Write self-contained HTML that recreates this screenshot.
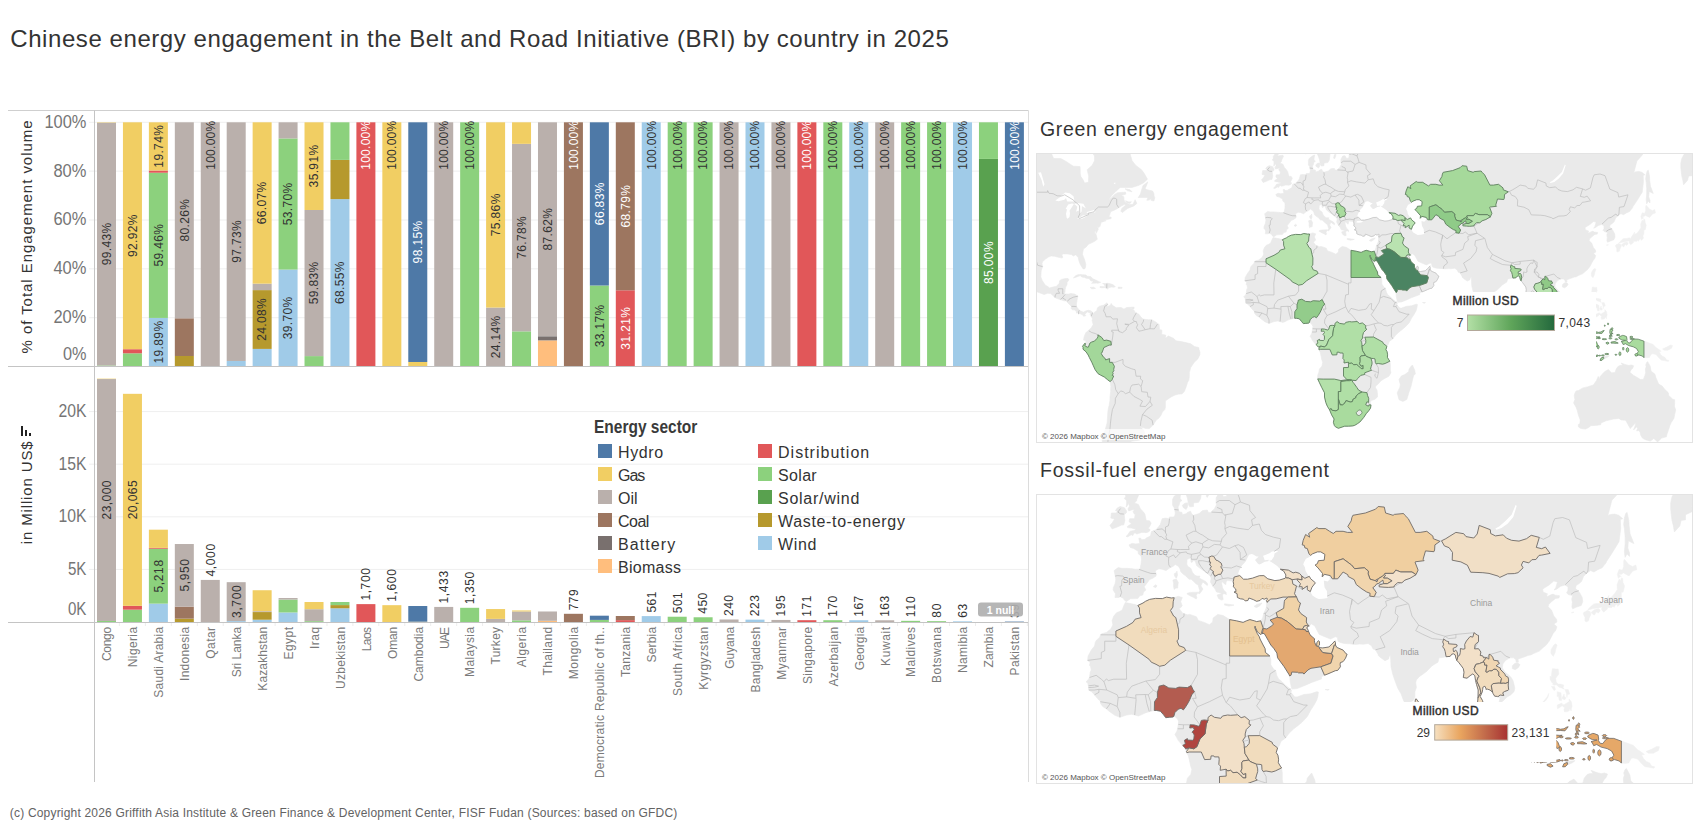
<!DOCTYPE html>
<html lang="en"><head><meta charset="utf-8"><title>Chinese energy engagement in the BRI by country in 2025</title>
<style>
html,body{margin:0;padding:0;background:#fff;}
body{width:1703px;height:832px;position:relative;overflow:hidden;font-family:"Liberation Sans",Arial,sans-serif;color:#333;}
.title{position:absolute;left:10.3px;top:25px;font-size:24px;line-height:28px;white-space:nowrap;color:#333;letter-spacing:0.567px;}
.caption{position:absolute;left:9.8px;top:806px;font-size:12px;line-height:14px;white-space:nowrap;color:#636363;letter-spacing:0.192px;}
.chart{position:absolute;left:0;top:0;}
.legend{position:absolute;left:594px;top:420px;width:330px;height:160px;}
.legtitle{position:absolute;left:0;top:-3px;font-size:18px;transform-origin:0 0;transform:scaleX(0.8605);font-weight:bold;line-height:20px;color:#3a3a3a;white-space:nowrap;}
.li{position:absolute;height:23px;white-space:nowrap;}
.sw{position:absolute;left:0;top:7px;width:14px;height:14px;}
.lt{position:absolute;left:20px;top:4px;font-size:16px;line-height:23px;color:#333;}
.mtitle{position:absolute;left:1040px;font-size:19.5px;line-height:24px;white-space:nowrap;color:#333;}
.map{position:absolute;left:1036px;width:657px;height:290px;border:1px solid #e3e3e3;box-sizing:border-box;overflow:hidden;background:#fff;}
</style></head><body>
<div class="title">Chinese energy engagement in the Belt and Road Initiative (BRI) by country in 2025</div>
<svg class="chart" width="1040" height="832" viewBox="0 0 1040 832" font-family="'Liberation Sans', Arial, sans-serif">
<line x1="89" x2="1028" y1="317.7" y2="317.7" stroke="#efefef" stroke-width="1"/>
<line x1="89" x2="1028" y1="268.8" y2="268.8" stroke="#efefef" stroke-width="1"/>
<line x1="89" x2="1028" y1="220.0" y2="220.0" stroke="#efefef" stroke-width="1"/>
<line x1="89" x2="1028" y1="171.1" y2="171.1" stroke="#efefef" stroke-width="1"/>
<line x1="89" x2="1028" y1="122.3" y2="122.3" stroke="#efefef" stroke-width="1"/>
<line x1="89" x2="1028" y1="569.4" y2="569.4" stroke="#efefef" stroke-width="1"/>
<line x1="89" x2="1028" y1="516.8" y2="516.8" stroke="#efefef" stroke-width="1"/>
<line x1="89" x2="1028" y1="464.2" y2="464.2" stroke="#efefef" stroke-width="1"/>
<line x1="89" x2="1028" y1="411.6" y2="411.6" stroke="#efefef" stroke-width="1"/>
<rect x="97.00" y="365.47" width="19.00" height="1.03" fill="#8cd17d"/>
<rect x="97.00" y="122.67" width="19.00" height="242.81" fill="#bab0ac"/>
<text transform="translate(110.82 243.89) rotate(-90)" font-size="12" fill="#333333" text-anchor="middle" letter-spacing="0.360">99.43%</text>
<rect x="97.00" y="122.30" width="19.00" height="0.37" fill="#f1ce63"/>
<rect x="97.00" y="620.98" width="19.00" height="1.02" fill="#8cd17d"/>
<rect x="97.00" y="379.03" width="19.00" height="241.95" fill="#bab0ac"/>
<rect x="97.00" y="378.66" width="19.00" height="0.37" fill="#f1ce63"/>
<text transform="translate(110.82 499.77) rotate(-90)" font-size="12" fill="#333333" text-anchor="middle" letter-spacing="0.459">23,000</text>
<text transform="translate(111.32 627.19) rotate(-90)" font-size="12" fill="#7a7a7a" text-anchor="end" letter-spacing="-0.291">Congo</text>
<line x1="119.4" x2="119.4" y1="622.5" y2="626" stroke="#ededed" stroke-width="1"/>
<rect x="122.94" y="353.31" width="19.00" height="13.19" fill="#8cd17d"/>
<rect x="122.94" y="349.21" width="19.00" height="4.10" fill="#e15759"/>
<rect x="122.94" y="122.30" width="19.00" height="226.91" fill="#f1ce63"/>
<text transform="translate(136.76 235.58) rotate(-90)" font-size="12" fill="#333333" text-anchor="middle" letter-spacing="0.360">92.92%</text>
<rect x="122.94" y="609.68" width="19.00" height="12.32" fill="#8cd17d"/>
<rect x="122.94" y="605.84" width="19.00" height="3.83" fill="#e15759"/>
<rect x="122.94" y="393.82" width="19.00" height="212.02" fill="#f1ce63"/>
<text transform="translate(136.76 499.60) rotate(-90)" font-size="12" fill="#333333" text-anchor="middle" letter-spacing="0.459">20,065</text>
<text transform="translate(137.26 626.52) rotate(-90)" font-size="12" fill="#7a7a7a" text-anchor="end" letter-spacing="0.380">Nigeria</text>
<line x1="145.4" x2="145.4" y1="622.5" y2="626" stroke="#ededed" stroke-width="1"/>
<rect x="148.88" y="317.93" width="19.00" height="48.57" fill="#a0cbe8"/>
<text transform="translate(162.70 342.03) rotate(-90)" font-size="12" fill="#333333" text-anchor="middle" letter-spacing="0.360">19.89%</text>
<rect x="148.88" y="172.73" width="19.00" height="145.20" fill="#8cd17d"/>
<text transform="translate(162.70 245.15) rotate(-90)" font-size="12" fill="#333333" text-anchor="middle" letter-spacing="0.360">59.46%</text>
<rect x="148.88" y="170.51" width="19.00" height="2.22" fill="#e15759"/>
<rect x="148.88" y="122.30" width="19.00" height="48.21" fill="#f1ce63"/>
<text transform="translate(162.70 146.22) rotate(-90)" font-size="12" fill="#333333" text-anchor="middle" letter-spacing="0.360">19.74%</text>
<rect x="148.88" y="603.64" width="19.00" height="18.36" fill="#a0cbe8"/>
<rect x="148.88" y="548.74" width="19.00" height="54.90" fill="#8cd17d"/>
<rect x="148.88" y="547.90" width="19.00" height="0.84" fill="#e15759"/>
<rect x="148.88" y="529.68" width="19.00" height="18.22" fill="#f1ce63"/>
<text transform="translate(162.70 575.88) rotate(-90)" font-size="12" fill="#333333" text-anchor="middle" letter-spacing="0.617">5,218</text>
<text transform="translate(163.20 626.65) rotate(-90)" font-size="12" fill="#7a7a7a" text-anchor="end" letter-spacing="0.250">Saudi Arabia</text>
<line x1="171.3" x2="171.3" y1="622.5" y2="626" stroke="#ededed" stroke-width="1"/>
<rect x="174.82" y="356.00" width="19.00" height="10.50" fill="#b6992d"/>
<rect x="174.82" y="318.29" width="19.00" height="37.70" fill="#9d7660"/>
<rect x="174.82" y="122.30" width="19.00" height="195.99" fill="#bab0ac"/>
<text transform="translate(188.64 220.12) rotate(-90)" font-size="12" fill="#333333" text-anchor="middle" letter-spacing="0.360">80.26%</text>
<rect x="174.82" y="618.65" width="19.00" height="3.35" fill="#b6992d"/>
<rect x="174.82" y="606.61" width="19.00" height="12.04" fill="#9d7660"/>
<rect x="174.82" y="544.02" width="19.00" height="62.59" fill="#bab0ac"/>
<text transform="translate(188.64 575.00) rotate(-90)" font-size="12" fill="#333333" text-anchor="middle" letter-spacing="0.617">5,950</text>
<text transform="translate(189.14 626.66) rotate(-90)" font-size="12" fill="#7a7a7a" text-anchor="end" letter-spacing="0.244">Indonesia</text>
<line x1="197.3" x2="197.3" y1="622.5" y2="626" stroke="#ededed" stroke-width="1"/>
<rect x="200.76" y="122.30" width="19.00" height="244.20" fill="#bab0ac"/>
<text transform="translate(214.58 120.53) rotate(-90)" font-size="12" fill="#333333" text-anchor="end" letter-spacing="0.271">100.00%</text>
<rect x="200.76" y="579.92" width="19.00" height="42.08" fill="#bab0ac"/>
<text transform="translate(214.58 576.42) rotate(-90)" font-size="12" fill="#333333" text-anchor="start" letter-spacing="0.617">4,000</text>
<text transform="translate(215.08 626.45) rotate(-90)" font-size="12" fill="#7a7a7a" text-anchor="end" letter-spacing="0.447">Qatar</text>
<line x1="223.2" x2="223.2" y1="622.5" y2="626" stroke="#ededed" stroke-width="1"/>
<rect x="226.70" y="360.96" width="19.00" height="5.54" fill="#a0cbe8"/>
<rect x="226.70" y="122.30" width="19.00" height="238.66" fill="#bab0ac"/>
<text transform="translate(240.52 241.45) rotate(-90)" font-size="12" fill="#333333" text-anchor="middle" letter-spacing="0.360">97.73%</text>
<rect x="226.70" y="621.10" width="19.00" height="0.90" fill="#a0cbe8"/>
<rect x="226.70" y="582.17" width="19.00" height="38.92" fill="#bab0ac"/>
<text transform="translate(240.52 601.32) rotate(-90)" font-size="12" fill="#333333" text-anchor="middle" letter-spacing="0.617">3,700</text>
<text transform="translate(241.02 626.94) rotate(-90)" font-size="12" fill="#7a7a7a" text-anchor="end" letter-spacing="-0.037">Sri Lanka</text>
<line x1="249.1" x2="249.1" y1="622.5" y2="626" stroke="#ededed" stroke-width="1"/>
<rect x="252.64" y="348.92" width="19.00" height="17.58" fill="#a0cbe8"/>
<rect x="252.64" y="290.11" width="19.00" height="58.80" fill="#b6992d"/>
<text transform="translate(266.46 319.34) rotate(-90)" font-size="12" fill="#333333" text-anchor="middle" letter-spacing="0.360">24.08%</text>
<rect x="252.64" y="283.64" width="19.00" height="6.47" fill="#bab0ac"/>
<rect x="252.64" y="122.30" width="19.00" height="161.34" fill="#f1ce63"/>
<text transform="translate(266.46 202.79) rotate(-90)" font-size="12" fill="#333333" text-anchor="middle" letter-spacing="0.360">66.07%</text>
<rect x="252.64" y="619.71" width="19.00" height="2.29" fill="#a0cbe8"/>
<rect x="252.64" y="612.06" width="19.00" height="7.65" fill="#b6992d"/>
<rect x="252.64" y="611.22" width="19.00" height="0.84" fill="#bab0ac"/>
<rect x="252.64" y="590.23" width="19.00" height="20.99" fill="#f1ce63"/>
<text transform="translate(266.96 626.78) rotate(-90)" font-size="12" fill="#7a7a7a" text-anchor="end" letter-spacing="0.121">Kazakhstan</text>
<line x1="275.1" x2="275.1" y1="622.5" y2="626" stroke="#ededed" stroke-width="1"/>
<rect x="278.58" y="269.55" width="19.00" height="96.95" fill="#a0cbe8"/>
<text transform="translate(292.40 317.85) rotate(-90)" font-size="12" fill="#333333" text-anchor="middle" letter-spacing="0.360">39.70%</text>
<rect x="278.58" y="138.42" width="19.00" height="131.14" fill="#8cd17d"/>
<text transform="translate(292.40 203.80) rotate(-90)" font-size="12" fill="#333333" text-anchor="middle" letter-spacing="0.360">53.70%</text>
<rect x="278.58" y="122.30" width="19.00" height="16.12" fill="#bab0ac"/>
<rect x="278.58" y="612.48" width="19.00" height="9.52" fill="#a0cbe8"/>
<rect x="278.58" y="599.60" width="19.00" height="12.88" fill="#8cd17d"/>
<rect x="278.58" y="598.01" width="19.00" height="1.58" fill="#bab0ac"/>
<text transform="translate(292.90 626.40) rotate(-90)" font-size="12" fill="#7a7a7a" text-anchor="end" letter-spacing="0.503">Egypt</text>
<line x1="301.0" x2="301.0" y1="622.5" y2="626" stroke="#ededed" stroke-width="1"/>
<rect x="304.52" y="356.10" width="19.00" height="10.40" fill="#8cd17d"/>
<rect x="304.52" y="209.99" width="19.00" height="146.10" fill="#bab0ac"/>
<text transform="translate(318.34 282.86) rotate(-90)" font-size="12" fill="#333333" text-anchor="middle" letter-spacing="0.360">59.83%</text>
<rect x="304.52" y="122.30" width="19.00" height="87.69" fill="#f1ce63"/>
<text transform="translate(318.34 165.97) rotate(-90)" font-size="12" fill="#333333" text-anchor="middle" letter-spacing="0.360">35.91%</text>
<rect x="304.52" y="621.15" width="19.00" height="0.85" fill="#8cd17d"/>
<rect x="304.52" y="609.19" width="19.00" height="11.96" fill="#bab0ac"/>
<rect x="304.52" y="602.01" width="19.00" height="7.18" fill="#f1ce63"/>
<text transform="translate(318.84 626.46) rotate(-90)" font-size="12" fill="#7a7a7a" text-anchor="end" letter-spacing="0.441">Iraq</text>
<line x1="327.0" x2="327.0" y1="622.5" y2="626" stroke="#ededed" stroke-width="1"/>
<rect x="330.46" y="199.10" width="19.00" height="167.40" fill="#a0cbe8"/>
<text transform="translate(344.28 282.62) rotate(-90)" font-size="12" fill="#333333" text-anchor="middle" letter-spacing="0.360">68.55%</text>
<rect x="330.46" y="159.91" width="19.00" height="39.19" fill="#b6992d"/>
<rect x="330.46" y="122.30" width="19.00" height="37.61" fill="#8cd17d"/>
<rect x="330.46" y="608.30" width="19.00" height="13.70" fill="#a0cbe8"/>
<rect x="330.46" y="605.09" width="19.00" height="3.21" fill="#b6992d"/>
<rect x="330.46" y="602.01" width="19.00" height="3.08" fill="#8cd17d"/>
<text transform="translate(344.78 626.61) rotate(-90)" font-size="12" fill="#7a7a7a" text-anchor="end" letter-spacing="0.293">Uzbekistan</text>
<line x1="352.9" x2="352.9" y1="622.5" y2="626" stroke="#ededed" stroke-width="1"/>
<rect x="356.40" y="122.30" width="19.00" height="244.20" fill="#e15759"/>
<text transform="translate(370.22 120.53) rotate(-90)" font-size="12" fill="#ffffff" text-anchor="end" letter-spacing="0.271">100.00%</text>
<rect x="356.40" y="604.12" width="19.00" height="17.88" fill="#e15759"/>
<text transform="translate(370.22 600.62) rotate(-90)" font-size="12" fill="#333333" text-anchor="start" letter-spacing="0.617">1,700</text>
<text transform="translate(370.72 627.44) rotate(-90)" font-size="12" fill="#7a7a7a" text-anchor="end" letter-spacing="-0.541">Laos</text>
<line x1="378.8" x2="378.8" y1="622.5" y2="626" stroke="#ededed" stroke-width="1"/>
<rect x="382.34" y="122.30" width="19.00" height="244.20" fill="#f1ce63"/>
<text transform="translate(396.16 120.53) rotate(-90)" font-size="12" fill="#333333" text-anchor="end" letter-spacing="0.271">100.00%</text>
<rect x="382.34" y="605.17" width="19.00" height="16.83" fill="#f1ce63"/>
<text transform="translate(396.16 601.67) rotate(-90)" font-size="12" fill="#333333" text-anchor="start" letter-spacing="0.617">1,600</text>
<text transform="translate(396.66 627.09) rotate(-90)" font-size="12" fill="#7a7a7a" text-anchor="end" letter-spacing="-0.193">Oman</text>
<line x1="404.8" x2="404.8" y1="622.5" y2="626" stroke="#ededed" stroke-width="1"/>
<rect x="408.28" y="361.98" width="19.00" height="4.52" fill="#f1ce63"/>
<rect x="408.28" y="122.30" width="19.00" height="239.68" fill="#4e79a7"/>
<text transform="translate(422.10 241.96) rotate(-90)" font-size="12" fill="#ffffff" text-anchor="middle" letter-spacing="0.360">98.15%</text>
<rect x="408.28" y="621.70" width="19.00" height="0.30" fill="#f1ce63"/>
<rect x="408.28" y="606.01" width="19.00" height="15.69" fill="#4e79a7"/>
<text transform="translate(422.60 626.90) rotate(-90)" font-size="12" fill="#7a7a7a" text-anchor="end" letter-spacing="0.000">Cambodia</text>
<line x1="430.7" x2="430.7" y1="622.5" y2="626" stroke="#ededed" stroke-width="1"/>
<rect x="434.22" y="122.30" width="19.00" height="244.20" fill="#bab0ac"/>
<text transform="translate(448.04 120.53) rotate(-90)" font-size="12" fill="#333333" text-anchor="end" letter-spacing="0.271">100.00%</text>
<rect x="434.22" y="606.92" width="19.00" height="15.08" fill="#bab0ac"/>
<text transform="translate(448.04 603.42) rotate(-90)" font-size="12" fill="#333333" text-anchor="start" letter-spacing="0.617">1,433</text>
<text transform="translate(448.54 628.24) rotate(-90)" font-size="12" fill="#7a7a7a" text-anchor="end" letter-spacing="-1.338">UAE</text>
<line x1="456.7" x2="456.7" y1="622.5" y2="626" stroke="#ededed" stroke-width="1"/>
<rect x="460.16" y="122.30" width="19.00" height="244.20" fill="#8cd17d"/>
<text transform="translate(473.98 120.53) rotate(-90)" font-size="12" fill="#333333" text-anchor="end" letter-spacing="0.271">100.00%</text>
<rect x="460.16" y="607.80" width="19.00" height="14.20" fill="#8cd17d"/>
<text transform="translate(473.98 604.30) rotate(-90)" font-size="12" fill="#333333" text-anchor="start" letter-spacing="0.617">1,350</text>
<text transform="translate(474.48 626.51) rotate(-90)" font-size="12" fill="#7a7a7a" text-anchor="end" letter-spacing="0.393">Malaysia</text>
<line x1="482.6" x2="482.6" y1="622.5" y2="626" stroke="#ededed" stroke-width="1"/>
<rect x="486.10" y="307.55" width="19.00" height="58.95" fill="#bab0ac"/>
<text transform="translate(499.92 336.85) rotate(-90)" font-size="12" fill="#333333" text-anchor="middle" letter-spacing="0.360">24.14%</text>
<rect x="486.10" y="122.30" width="19.00" height="185.25" fill="#f1ce63"/>
<text transform="translate(499.92 214.75) rotate(-90)" font-size="12" fill="#333333" text-anchor="middle" letter-spacing="0.360">75.86%</text>
<rect x="486.10" y="618.88" width="19.00" height="3.12" fill="#bab0ac"/>
<rect x="486.10" y="609.06" width="19.00" height="9.82" fill="#f1ce63"/>
<text transform="translate(500.42 626.63) rotate(-90)" font-size="12" fill="#7a7a7a" text-anchor="end" letter-spacing="0.274">Turkey</text>
<line x1="508.5" x2="508.5" y1="622.5" y2="626" stroke="#ededed" stroke-width="1"/>
<rect x="512.04" y="331.34" width="19.00" height="35.16" fill="#8cd17d"/>
<rect x="512.04" y="143.84" width="19.00" height="187.50" fill="#bab0ac"/>
<text transform="translate(525.86 237.41) rotate(-90)" font-size="12" fill="#333333" text-anchor="middle" letter-spacing="0.360">76.78%</text>
<rect x="512.04" y="122.30" width="19.00" height="21.54" fill="#f1ce63"/>
<rect x="512.04" y="620.33" width="19.00" height="1.67" fill="#8cd17d"/>
<rect x="512.04" y="611.45" width="19.00" height="8.88" fill="#bab0ac"/>
<rect x="512.04" y="610.43" width="19.00" height="1.02" fill="#f1ce63"/>
<text transform="translate(526.36 626.41) rotate(-90)" font-size="12" fill="#7a7a7a" text-anchor="end" letter-spacing="0.491">Algeria</text>
<line x1="534.5" x2="534.5" y1="622.5" y2="626" stroke="#ededed" stroke-width="1"/>
<rect x="537.98" y="340.37" width="19.00" height="26.13" fill="#ffbe7d"/>
<rect x="537.98" y="336.27" width="19.00" height="4.10" fill="#79706e"/>
<rect x="537.98" y="122.30" width="19.00" height="213.97" fill="#bab0ac"/>
<text transform="translate(551.80 229.10) rotate(-90)" font-size="12" fill="#333333" text-anchor="middle" letter-spacing="0.360">87.62%</text>
<rect x="537.98" y="620.87" width="19.00" height="1.13" fill="#ffbe7d"/>
<rect x="537.98" y="620.70" width="19.00" height="0.18" fill="#79706e"/>
<rect x="537.98" y="611.48" width="19.00" height="9.22" fill="#bab0ac"/>
<text transform="translate(552.30 626.55) rotate(-90)" font-size="12" fill="#7a7a7a" text-anchor="end" letter-spacing="0.352">Thailand</text>
<line x1="560.4" x2="560.4" y1="622.5" y2="626" stroke="#ededed" stroke-width="1"/>
<rect x="563.92" y="122.30" width="19.00" height="244.20" fill="#9d7660"/>
<text transform="translate(577.74 120.53) rotate(-90)" font-size="12" fill="#ffffff" text-anchor="end" letter-spacing="0.271">100.00%</text>
<rect x="563.92" y="613.80" width="19.00" height="8.20" fill="#9d7660"/>
<text transform="translate(577.74 610.30) rotate(-90)" font-size="12" fill="#333333" text-anchor="start" letter-spacing="0.489">779</text>
<text transform="translate(578.24 626.39) rotate(-90)" font-size="12" fill="#7a7a7a" text-anchor="end" letter-spacing="0.514">Mongolia</text>
<line x1="586.4" x2="586.4" y1="622.5" y2="626" stroke="#ededed" stroke-width="1"/>
<rect x="589.86" y="285.50" width="19.00" height="81.00" fill="#8cd17d"/>
<text transform="translate(603.68 325.82) rotate(-90)" font-size="12" fill="#333333" text-anchor="middle" letter-spacing="0.360">33.17%</text>
<rect x="589.86" y="122.30" width="19.00" height="163.20" fill="#4e79a7"/>
<text transform="translate(603.68 203.72) rotate(-90)" font-size="12" fill="#ffffff" text-anchor="middle" letter-spacing="0.360">66.83%</text>
<rect x="589.86" y="619.91" width="19.00" height="2.09" fill="#8cd17d"/>
<rect x="589.86" y="615.69" width="19.00" height="4.22" fill="#4e79a7"/>
<text transform="translate(604.18 626.63) rotate(-90)" font-size="12" fill="#7a7a7a" text-anchor="end" letter-spacing="0.275">Democratic Republic of th..</text>
<line x1="612.3" x2="612.3" y1="622.5" y2="626" stroke="#ededed" stroke-width="1"/>
<rect x="615.80" y="290.29" width="19.00" height="76.21" fill="#e15759"/>
<text transform="translate(629.62 328.21) rotate(-90)" font-size="12" fill="#ffffff" text-anchor="middle" letter-spacing="0.360">31.21%</text>
<rect x="615.80" y="122.30" width="19.00" height="167.99" fill="#9d7660"/>
<text transform="translate(629.62 206.11) rotate(-90)" font-size="12" fill="#ffffff" text-anchor="middle" letter-spacing="0.360">68.79%</text>
<rect x="615.80" y="620.13" width="19.00" height="1.87" fill="#e15759"/>
<rect x="615.80" y="616.00" width="19.00" height="4.12" fill="#9d7660"/>
<text transform="translate(630.12 626.61) rotate(-90)" font-size="12" fill="#7a7a7a" text-anchor="end" letter-spacing="0.295">Tanzania</text>
<line x1="638.2" x2="638.2" y1="622.5" y2="626" stroke="#ededed" stroke-width="1"/>
<rect x="641.74" y="122.30" width="19.00" height="244.20" fill="#a0cbe8"/>
<text transform="translate(655.56 120.53) rotate(-90)" font-size="12" fill="#333333" text-anchor="end" letter-spacing="0.271">100.00%</text>
<rect x="641.74" y="616.10" width="19.00" height="5.90" fill="#a0cbe8"/>
<text transform="translate(655.56 612.60) rotate(-90)" font-size="12" fill="#333333" text-anchor="start" letter-spacing="0.489">561</text>
<text transform="translate(656.06 626.74) rotate(-90)" font-size="12" fill="#7a7a7a" text-anchor="end" letter-spacing="0.162">Serbia</text>
<line x1="664.2" x2="664.2" y1="622.5" y2="626" stroke="#ededed" stroke-width="1"/>
<rect x="667.68" y="122.30" width="19.00" height="244.20" fill="#8cd17d"/>
<text transform="translate(681.50 120.53) rotate(-90)" font-size="12" fill="#333333" text-anchor="end" letter-spacing="0.271">100.00%</text>
<rect x="667.68" y="616.73" width="19.00" height="5.27" fill="#8cd17d"/>
<text transform="translate(681.50 613.23) rotate(-90)" font-size="12" fill="#333333" text-anchor="start" letter-spacing="0.489">501</text>
<text transform="translate(682.00 626.50) rotate(-90)" font-size="12" fill="#7a7a7a" text-anchor="end" letter-spacing="0.399">South Africa</text>
<line x1="690.1" x2="690.1" y1="622.5" y2="626" stroke="#ededed" stroke-width="1"/>
<rect x="693.62" y="122.30" width="19.00" height="244.20" fill="#8cd17d"/>
<text transform="translate(707.44 120.53) rotate(-90)" font-size="12" fill="#333333" text-anchor="end" letter-spacing="0.271">100.00%</text>
<rect x="693.62" y="617.27" width="19.00" height="4.73" fill="#8cd17d"/>
<text transform="translate(707.44 613.77) rotate(-90)" font-size="12" fill="#333333" text-anchor="start" letter-spacing="0.489">450</text>
<text transform="translate(707.94 626.52) rotate(-90)" font-size="12" fill="#7a7a7a" text-anchor="end" letter-spacing="0.383">Kyrgyzstan</text>
<line x1="716.1" x2="716.1" y1="622.5" y2="626" stroke="#ededed" stroke-width="1"/>
<rect x="719.56" y="122.30" width="19.00" height="244.20" fill="#bab0ac"/>
<text transform="translate(733.38 120.53) rotate(-90)" font-size="12" fill="#333333" text-anchor="end" letter-spacing="0.271">100.00%</text>
<rect x="719.56" y="619.48" width="19.00" height="2.52" fill="#bab0ac"/>
<text transform="translate(733.38 615.98) rotate(-90)" font-size="12" fill="#333333" text-anchor="start" letter-spacing="0.489">240</text>
<text transform="translate(733.88 626.93) rotate(-90)" font-size="12" fill="#7a7a7a" text-anchor="end" letter-spacing="-0.026">Guyana</text>
<line x1="742.0" x2="742.0" y1="622.5" y2="626" stroke="#ededed" stroke-width="1"/>
<rect x="745.50" y="122.30" width="19.00" height="244.20" fill="#a0cbe8"/>
<text transform="translate(759.32 120.53) rotate(-90)" font-size="12" fill="#333333" text-anchor="end" letter-spacing="0.271">100.00%</text>
<rect x="745.50" y="619.65" width="19.00" height="2.35" fill="#a0cbe8"/>
<text transform="translate(759.32 616.15) rotate(-90)" font-size="12" fill="#333333" text-anchor="start" letter-spacing="0.489">223</text>
<text transform="translate(759.82 626.65) rotate(-90)" font-size="12" fill="#7a7a7a" text-anchor="end" letter-spacing="0.246">Bangladesh</text>
<line x1="767.9" x2="767.9" y1="622.5" y2="626" stroke="#ededed" stroke-width="1"/>
<rect x="771.44" y="122.30" width="19.00" height="244.20" fill="#bab0ac"/>
<text transform="translate(785.26 120.53) rotate(-90)" font-size="12" fill="#333333" text-anchor="end" letter-spacing="0.271">100.00%</text>
<rect x="771.44" y="619.95" width="19.00" height="2.05" fill="#bab0ac"/>
<text transform="translate(785.26 616.45) rotate(-90)" font-size="12" fill="#333333" text-anchor="start" letter-spacing="0.489">195</text>
<text transform="translate(785.76 626.42) rotate(-90)" font-size="12" fill="#7a7a7a" text-anchor="end" letter-spacing="0.481">Myanmar</text>
<line x1="793.9" x2="793.9" y1="622.5" y2="626" stroke="#ededed" stroke-width="1"/>
<rect x="797.38" y="122.30" width="19.00" height="244.20" fill="#e15759"/>
<text transform="translate(811.20 120.53) rotate(-90)" font-size="12" fill="#ffffff" text-anchor="end" letter-spacing="0.271">100.00%</text>
<rect x="797.38" y="620.20" width="19.00" height="1.80" fill="#e15759"/>
<text transform="translate(811.20 616.70) rotate(-90)" font-size="12" fill="#333333" text-anchor="start" letter-spacing="0.489">171</text>
<text transform="translate(811.70 626.60) rotate(-90)" font-size="12" fill="#7a7a7a" text-anchor="end" letter-spacing="0.299">Singapore</text>
<line x1="819.8" x2="819.8" y1="622.5" y2="626" stroke="#ededed" stroke-width="1"/>
<rect x="823.32" y="122.30" width="19.00" height="244.20" fill="#8cd17d"/>
<text transform="translate(837.14 120.53) rotate(-90)" font-size="12" fill="#333333" text-anchor="end" letter-spacing="0.271">100.00%</text>
<rect x="823.32" y="620.21" width="19.00" height="1.79" fill="#8cd17d"/>
<text transform="translate(837.14 616.71) rotate(-90)" font-size="12" fill="#333333" text-anchor="start" letter-spacing="0.489">170</text>
<text transform="translate(837.64 626.58) rotate(-90)" font-size="12" fill="#7a7a7a" text-anchor="end" letter-spacing="0.322">Azerbaijan</text>
<line x1="845.8" x2="845.8" y1="622.5" y2="626" stroke="#ededed" stroke-width="1"/>
<rect x="849.26" y="122.30" width="19.00" height="244.20" fill="#a0cbe8"/>
<text transform="translate(863.08 120.53) rotate(-90)" font-size="12" fill="#333333" text-anchor="end" letter-spacing="0.271">100.00%</text>
<rect x="849.26" y="620.24" width="19.00" height="1.76" fill="#a0cbe8"/>
<text transform="translate(863.08 616.74) rotate(-90)" font-size="12" fill="#333333" text-anchor="start" letter-spacing="0.489">167</text>
<text transform="translate(863.58 626.78) rotate(-90)" font-size="12" fill="#7a7a7a" text-anchor="end" letter-spacing="0.118">Georgia</text>
<line x1="871.7" x2="871.7" y1="622.5" y2="626" stroke="#ededed" stroke-width="1"/>
<rect x="875.20" y="122.30" width="19.00" height="244.20" fill="#bab0ac"/>
<text transform="translate(889.02 120.53) rotate(-90)" font-size="12" fill="#333333" text-anchor="end" letter-spacing="0.271">100.00%</text>
<rect x="875.20" y="620.29" width="19.00" height="1.71" fill="#bab0ac"/>
<text transform="translate(889.02 616.79) rotate(-90)" font-size="12" fill="#333333" text-anchor="start" letter-spacing="0.489">163</text>
<text transform="translate(889.52 626.30) rotate(-90)" font-size="12" fill="#7a7a7a" text-anchor="end" letter-spacing="0.596">Kuwait</text>
<line x1="897.6" x2="897.6" y1="622.5" y2="626" stroke="#ededed" stroke-width="1"/>
<rect x="901.14" y="122.30" width="19.00" height="244.20" fill="#8cd17d"/>
<text transform="translate(914.96 120.53) rotate(-90)" font-size="12" fill="#333333" text-anchor="end" letter-spacing="0.271">100.00%</text>
<rect x="901.14" y="620.84" width="19.00" height="1.16" fill="#8cd17d"/>
<text transform="translate(914.96 617.34) rotate(-90)" font-size="12" fill="#333333" text-anchor="start" letter-spacing="0.934">110</text>
<text transform="translate(915.46 626.51) rotate(-90)" font-size="12" fill="#7a7a7a" text-anchor="end" letter-spacing="0.393">Maldives</text>
<line x1="923.6" x2="923.6" y1="622.5" y2="626" stroke="#ededed" stroke-width="1"/>
<rect x="927.08" y="122.30" width="19.00" height="244.20" fill="#8cd17d"/>
<text transform="translate(940.90 120.53) rotate(-90)" font-size="12" fill="#333333" text-anchor="end" letter-spacing="0.271">100.00%</text>
<rect x="927.08" y="621.16" width="19.00" height="0.84" fill="#8cd17d"/>
<text transform="translate(940.90 617.66) rotate(-90)" font-size="12" fill="#333333" text-anchor="start" letter-spacing="0.652">80</text>
<text transform="translate(941.40 626.41) rotate(-90)" font-size="12" fill="#7a7a7a" text-anchor="end" letter-spacing="0.486">Botswana</text>
<line x1="949.5" x2="949.5" y1="622.5" y2="626" stroke="#ededed" stroke-width="1"/>
<rect x="953.02" y="122.30" width="19.00" height="244.20" fill="#a0cbe8"/>
<text transform="translate(966.84 120.53) rotate(-90)" font-size="12" fill="#333333" text-anchor="end" letter-spacing="0.271">100.00%</text>
<rect x="953.02" y="621.34" width="19.00" height="0.66" fill="#a0cbe8"/>
<text transform="translate(966.84 617.84) rotate(-90)" font-size="12" fill="#333333" text-anchor="start" letter-spacing="0.652">63</text>
<text transform="translate(967.34 626.57) rotate(-90)" font-size="12" fill="#7a7a7a" text-anchor="end" letter-spacing="0.330">Namibia</text>
<line x1="975.5" x2="975.5" y1="622.5" y2="626" stroke="#ededed" stroke-width="1"/>
<rect x="978.96" y="158.93" width="19.00" height="207.57" fill="#59a14f"/>
<text transform="translate(992.78 262.53) rotate(-90)" font-size="12" fill="#ffffff" text-anchor="middle" letter-spacing="0.360">85.00%</text>
<rect x="978.96" y="122.30" width="19.00" height="36.63" fill="#8cd17d"/>
<text transform="translate(993.28 626.78) rotate(-90)" font-size="12" fill="#7a7a7a" text-anchor="end" letter-spacing="0.117">Zambia</text>
<line x1="1001.4" x2="1001.4" y1="622.5" y2="626" stroke="#ededed" stroke-width="1"/>
<rect x="1004.90" y="122.30" width="19.00" height="244.20" fill="#4e79a7"/>
<text transform="translate(1018.72 120.53) rotate(-90)" font-size="12" fill="#ffffff" text-anchor="end" letter-spacing="0.271">100.00%</text>
<rect x="1004.90" y="621.59" width="19.00" height="0.41" fill="#4e79a7"/>
<text transform="translate(1018.72 618.09) rotate(-90)" font-size="12" fill="#333333" text-anchor="start" letter-spacing="0.652">39</text>
<text transform="translate(1019.22 626.55) rotate(-90)" font-size="12" fill="#7a7a7a" text-anchor="end" letter-spacing="0.353">Pakistan</text>
<line x1="1027.3" x2="1027.3" y1="622.5" y2="626" stroke="#ededed" stroke-width="1"/>
<rect x="978" y="602.5" width="45" height="14" rx="3" fill="#b0b0b0" fill-opacity="0.92"/>
<text x="1000.5" y="613.5" font-size="10.5" font-weight="bold" fill="#ffffff" text-anchor="middle">1 null</text>
<line x1="8" x2="1028.5" y1="110.5" y2="110.5" stroke="#cfcfcf"/>
<line x1="8" x2="1028.5" y1="366.5" y2="366.5" stroke="#c4c4c4"/>
<line x1="8" x2="1028.5" y1="622.5" y2="622.5" stroke="#c4c4c4"/>
<line x1="94.5" x2="94.5" y1="110.5" y2="782" stroke="#c4c4c4"/>
<line x1="1028.5" x2="1028.5" y1="110.5" y2="782" stroke="#dcdcdc"/>
<text transform="translate(86.4 127.7) scale(0.8643 1)" font-size="19" fill="#757575" text-anchor="end">100%</text>
<text transform="translate(86.4 176.5) scale(0.8678 1)" font-size="19" fill="#757575" text-anchor="end">80%</text>
<text transform="translate(86.4 225.4) scale(0.8678 1)" font-size="19" fill="#757575" text-anchor="end">60%</text>
<text transform="translate(86.4 274.2) scale(0.8678 1)" font-size="19" fill="#757575" text-anchor="end">40%</text>
<text transform="translate(86.4 323.1) scale(0.8678 1)" font-size="19" fill="#757575" text-anchor="end">20%</text>
<text transform="translate(86.4 359.9) scale(0.8558 1)" font-size="19" fill="#757575" text-anchor="end">0%</text>
<text transform="translate(86.4 417.0) scale(0.8282 1)" font-size="19" fill="#757575" text-anchor="end">20K</text>
<text transform="translate(86.4 469.6) scale(0.8282 1)" font-size="19" fill="#757575" text-anchor="end">15K</text>
<text transform="translate(86.4 522.2) scale(0.8282 1)" font-size="19" fill="#757575" text-anchor="end">10K</text>
<text transform="translate(86.4 574.8) scale(0.7960 1)" font-size="19" fill="#757575" text-anchor="end">5K</text>
<text transform="translate(86.4 615.4) scale(0.7960 1)" font-size="19" fill="#757575" text-anchor="end">0K</text>
<text transform="translate(32.40 236.53) rotate(-90)" font-size="15" fill="#333333" text-anchor="middle" letter-spacing="0.950">% of Total Engagement volume</text>
<text transform="translate(32.40 492.37) rotate(-90)" font-size="15" fill="#333333" text-anchor="middle" letter-spacing="0.869">in Million US$</text>
<g fill="#222222"><rect x="21" y="426" width="2" height="10"/><rect x="25" y="430" width="2" height="6"/><rect x="29" y="433" width="2" height="3"/></g>
</svg>
<div class="legend">
<div class="legtitle">Energy sector</div>
<div class="li" style="left:4px;top:17px"><span class="sw" style="background:#4e79a7"></span><span class="lt" style="letter-spacing:0.605px">Hydro</span></div>
<div class="li" style="left:4px;top:40px"><span class="sw" style="background:#f1ce63"></span><span class="lt" style="letter-spacing:-1.022px">Gas</span></div>
<div class="li" style="left:4px;top:63px"><span class="sw" style="background:#bab0ac"></span><span class="lt" style="letter-spacing:-0.027px">Oil</span></div>
<div class="li" style="left:4px;top:86px"><span class="sw" style="background:#9d7660"></span><span class="lt" style="letter-spacing:-0.536px">Coal</span></div>
<div class="li" style="left:4px;top:109px"><span class="sw" style="background:#79706e"></span><span class="lt" style="letter-spacing:1.085px">Battery</span></div>
<div class="li" style="left:4px;top:132px"><span class="sw" style="background:#ffbe7d"></span><span class="lt" style="letter-spacing:0.258px">Biomass</span></div>
<div class="li" style="left:164px;top:17px"><span class="sw" style="background:#e15759"></span><span class="lt" style="letter-spacing:1.015px">Distribution</span></div>
<div class="li" style="left:164px;top:40px"><span class="sw" style="background:#8cd17d"></span><span class="lt" style="letter-spacing:0.337px">Solar</span></div>
<div class="li" style="left:164px;top:63px"><span class="sw" style="background:#59a14f"></span><span class="lt" style="letter-spacing:0.744px">Solar/wind</span></div>
<div class="li" style="left:164px;top:86px"><span class="sw" style="background:#b6992d"></span><span class="lt" style="letter-spacing:0.659px">Waste-to-energy</span></div>
<div class="li" style="left:164px;top:109px"><span class="sw" style="background:#a0cbe8"></span><span class="lt" style="letter-spacing:0.649px">Wind</span></div>
</div>
<div class="mtitle" style="top:117px;letter-spacing:0.678px">Green energy engagement</div>
<div class="mtitle" style="top:458px;letter-spacing:0.759px">Fossil-fuel energy engagement</div>
<div class="map" style="top:153px"><svg width="655" height="288" viewBox="0 0 655 288" font-family="'Liberation Sans', Arial, sans-serif">
<rect width="655" height="288" fill="#ffffff"/>
<g fill="#eaeaea" stroke="#eaeaea" stroke-width="0.6" stroke-linejoin="round">
<path d="M236.0 83.6 L243.6 85.1 L245.3 85.7 L249.3 83.9 L251.2 82.6 L254.2 81.2 L258.6 80.4 L263.8 80.6 L266.8 79.5 L270.5 80.1 L272.6 80.0 L275.6 78.9 L278.7 79.8 L277.4 83.0 L278.7 86.1 L276.4 88.2 L278.9 91.5 L282.5 92.7 L284.2 92.4 L289.3 94.2 L290.5 96.9 L295.1 98.4 L298.9 100.2 L301.4 98.1 L301.7 95.1 L305.2 92.4 L309.2 93.3 L314.0 96.3 L319.1 97.2 L324.1 98.4 L326.7 97.2 L329.2 96.3 L332.5 97.2 L333.1 101.2 L332.7 102.2 L334.7 106.8 L336.2 109.1 L336.8 110.8 L339.0 115.3 L340.5 118.0 L340.8 120.8 L344.1 123.5 L344.8 126.2 L344.8 130.0 L346.9 133.2 L348.4 134.3 L349.4 138.2 L350.6 140.6 L353.2 142.7 L356.2 145.8 L358.7 147.6 L360.2 148.9 L360.0 151.0 L360.7 151.8 L362.8 154.1 L364.5 154.1 L369.6 152.3 L374.6 151.8 L379.2 150.2 L380.4 150.5 L379.9 153.8 L379.2 156.4 L377.2 160.2 L374.6 164.1 L372.1 168.9 L368.3 172.9 L365.3 175.4 L362.0 178.0 L358.5 181.3 L355.9 184.8 L352.4 187.3 L351.1 190.6 L349.9 192.3 L348.9 195.7 L350.1 197.7 L350.6 200.8 L350.4 203.3 L351.9 205.9 L352.9 207.2 L353.4 211.0 L353.4 216.2 L353.9 218.8 L351.9 222.2 L346.9 224.9 L344.1 226.7 L340.5 230.7 L338.8 231.8 L338.5 233.7 L340.0 236.1 L340.5 240.2 L340.5 243.0 L338.0 245.2 L334.2 246.6 L333.2 248.5 L334.0 250.9 L333.5 254.2 L331.7 256.8 L329.2 259.7 L326.7 263.5 L322.9 268.0 L320.3 269.8 L317.8 271.3 L315.8 271.9 L311.5 272.2 L307.7 272.2 L301.4 274.3 L298.4 272.8 L297.4 271.6 L296.4 268.3 L297.1 265.0 L294.6 260.8 L292.6 255.9 L290.3 252.2 L288.8 248.5 L287.5 243.0 L287.5 238.8 L284.7 233.4 L282.5 228.8 L280.7 224.9 L280.7 221.4 L281.7 218.8 L282.5 214.9 L285.0 212.1 L285.7 208.4 L284.7 205.4 L284.2 202.8 L283.2 198.2 L282.0 195.8 L281.7 195.0 L281.2 193.1 L280.7 192.1 L278.9 190.5 L275.6 186.8 L274.4 184.3 L273.1 182.3 L274.6 179.7 L275.1 178.0 L275.6 174.7 L275.9 172.4 L275.1 170.6 L273.4 169.1 L272.4 168.5 L271.9 169.1 L268.8 169.4 L266.3 169.6 L264.5 167.4 L262.3 164.8 L259.5 164.3 L257.7 164.3 L253.9 165.1 L250.9 166.1 L248.4 167.4 L245.9 168.4 L243.1 167.6 L240.8 167.1 L237.0 167.6 L232.0 169.4 L228.2 167.9 L223.6 164.6 L221.9 163.0 L219.3 161.5 L217.6 159.2 L217.3 156.9 L216.3 156.4 L213.8 153.6 L213.0 152.6 L210.5 150.0 L208.7 148.9 L208.5 146.4 L208.0 143.8 L206.7 143.0 L208.5 140.9 L209.2 139.6 L209.7 135.6 L210.5 134.0 L210.0 131.1 L209.2 130.6 L209.7 128.4 L207.8 126.8 L208.0 125.2 L208.2 123.5 L210.8 118.9 L213.0 116.1 L213.5 113.6 L214.3 111.9 L216.8 109.7 L217.6 107.7 L218.3 106.9 L221.9 105.9 L225.1 103.4 L226.4 101.0 L226.7 99.9 L226.2 96.9 L227.4 93.6 L229.4 91.2 L231.7 90.3 L233.7 89.1 L235.0 85.7 Z"/>
<path d="M375.4 211.0 L377.7 216.2 L378.4 220.1 L376.6 221.4 L375.6 225.4 L374.1 232.1 L371.8 238.8 L369.8 245.5 L365.8 247.4 L362.0 245.7 L360.2 238.8 L362.8 233.4 L363.3 230.7 L362.0 225.4 L364.3 222.0 L367.8 220.6 L371.6 217.8 L372.1 214.9 L374.1 212.3 Z"/>
<path d="M263.3 -17.8 L263.5 -10.0 L264.3 -6.5 L265.0 -4.6 L267.3 -0.7 L268.8 -0.2 L271.9 -1.2 L274.9 -4.6 L276.9 -6.0 L277.7 -6.5 L278.9 -5.1 L279.4 -1.7 L280.9 1.2 L282.5 5.4 L283.0 8.2 L283.5 10.9 L284.2 12.0 L287.0 11.7 L287.0 9.1 L290.8 8.6 L292.3 5.9 L292.8 2.1 L293.3 -2.6 L296.1 -4.6 L298.1 -8.0 L298.6 -17.8 Z"/>
<path d="M278.7 10.9 L279.4 12.6 L281.5 14.0 L282.5 12.2 L282.7 9.1 L280.7 9.3 Z"/>
<path d="M296.6 4.0 L297.4 4.9 L298.6 2.6 L298.9 0.3 L297.4 0.7 Z"/>
<path d="M321.6 -17.8 L321.6 -7.5 L316.6 -8.0 L313.3 -7.3 L310.2 -6.0 L310.2 -3.6 L310.5 -2.1 L312.8 -1.7 L312.3 0.7 L311.8 4.0 L309.5 4.5 L308.0 1.7 L305.7 2.1 L303.9 5.4 L303.9 9.1 L304.2 10.4 L302.7 13.5 L301.1 14.8 L300.4 16.1 L298.1 16.1 L297.4 14.4 L293.8 14.8 L291.3 17.0 L287.0 18.3 L285.7 17.4 L284.7 15.3 L282.5 16.1 L281.5 17.2 L278.7 17.9 L278.4 16.1 L276.2 15.7 L275.9 14.4 L275.4 12.2 L276.2 10.9 L276.9 8.2 L278.4 7.2 L276.9 5.9 L277.4 2.1 L277.7 1.0 L275.9 1.7 L272.6 4.0 L271.4 6.3 L271.4 10.9 L272.6 12.6 L272.9 14.0 L273.4 16.6 L273.1 18.3 L272.4 19.6 L271.1 19.6 L269.1 19.6 L268.6 20.8 L266.1 20.4 L263.5 20.8 L263.0 22.5 L262.3 25.0 L261.0 26.7 L259.7 28.3 L259.2 28.9 L257.2 29.9 L255.6 30.5 L254.9 33.5 L253.9 34.3 L251.4 35.5 L251.2 36.2 L248.1 36.6 L247.6 35.5 L246.1 35.5 L246.9 39.3 L243.8 39.7 L241.1 39.3 L238.8 40.5 L239.8 42.4 L242.3 43.1 L244.6 44.6 L245.6 45.0 L245.9 47.2 L247.9 48.7 L248.1 51.2 L247.9 54.4 L247.1 58.3 L246.4 58.6 L243.3 58.6 L241.3 58.3 L236.5 57.9 L233.2 57.9 L230.7 57.4 L227.7 59.7 L228.4 63.1 L228.9 66.3 L228.4 69.5 L227.2 72.1 L226.9 74.2 L227.7 75.3 L228.7 76.9 L228.3 79.8 L231.0 79.8 L232.2 79.2 L234.7 80.4 L235.0 81.4 L236.8 83.0 L237.5 82.3 L239.8 80.8 L243.3 80.6 L245.3 80.6 L246.9 78.5 L249.1 77.9 L249.6 75.7 L251.4 74.2 L250.1 71.8 L253.2 67.8 L253.9 66.5 L256.5 65.5 L259.0 63.8 L259.2 62.4 L258.5 60.0 L259.7 59.0 L261.3 58.3 L263.5 58.6 L264.5 59.0 L266.6 59.7 L269.3 57.6 L271.6 56.5 L273.4 55.1 L275.6 56.4 L276.9 58.3 L277.4 60.4 L278.9 62.1 L280.7 63.1 L282.0 64.5 L283.7 66.1 L285.2 66.1 L286.8 67.5 L288.8 69.5 L290.5 70.5 L291.3 73.4 L291.8 74.4 L290.5 76.6 L291.6 76.9 L292.8 75.3 L294.1 73.4 L292.6 71.1 L293.6 68.8 L294.3 68.5 L296.4 70.1 L297.4 70.8 L297.6 69.6 L296.4 68.0 L293.6 66.5 L291.3 65.1 L291.8 63.8 L289.5 63.8 L288.0 63.1 L286.2 61.0 L285.0 57.9 L282.7 56.5 L282.0 54.8 L282.2 52.3 L282.0 51.6 L284.0 50.5 L285.5 50.7 L285.0 51.2 L285.2 53.3 L285.9 53.5 L287.3 51.9 L288.5 53.0 L289.3 55.8 L292.3 58.3 L295.1 60.0 L296.6 61.2 L297.6 62.1 L299.1 63.4 L299.9 64.1 L300.1 65.8 L299.6 68.1 L301.4 71.1 L303.2 73.4 L304.2 75.7 L305.7 76.0 L308.5 76.6 L304.7 77.9 L305.7 80.4 L307.7 81.7 L309.2 81.4 L308.7 78.5 L309.0 76.9 L310.7 76.9 L311.5 77.7 L311.5 76.0 L309.7 74.4 L308.7 72.4 L308.2 70.1 L308.0 68.5 L308.7 68.1 L310.0 69.5 L311.2 70.1 L311.5 67.8 L312.5 67.1 L316.3 67.5 L316.7 68.1 L317.1 70.0 L316.8 71.8 L318.6 73.4 L318.8 75.3 L317.3 75.7 L319.6 76.9 L319.8 79.8 L322.1 80.8 L324.4 81.1 L325.6 82.3 L327.7 82.0 L328.4 80.1 L331.7 81.4 L334.2 82.6 L336.8 82.0 L338.3 80.4 L340.0 81.1 L341.8 80.1 L342.3 81.1 L341.5 82.0 L341.5 85.4 L341.5 87.3 L340.5 89.4 L339.5 91.8 L339.3 92.7 L338.6 95.1 L337.5 97.2 L336.2 97.8 L334.2 97.8 L332.7 97.5 L333.1 101.2 L333.5 102.5 L334.7 105.4 L335.7 106.2 L337.4 107.6 L337.8 106.8 L338.4 104.2 L339.1 102.5 L338.8 105.4 L338.3 106.8 L339.8 106.7 L341.0 108.7 L342.9 111.9 L344.8 115.3 L347.0 117.8 L349.4 121.3 L349.9 124.9 L352.7 128.7 L354.7 131.4 L358.3 137.2 L359.0 138.5 L359.3 142.7 L360.1 146.6 L360.6 148.3 L364.5 147.9 L368.3 146.4 L372.1 144.8 L374.9 143.5 L378.4 142.2 L382.7 140.6 L382.7 139.0 L385.0 137.9 L387.5 136.9 L390.5 135.6 L393.1 134.5 L394.8 134.3 L396.8 131.6 L396.6 129.7 L396.8 128.4 L398.6 127.9 L399.4 127.1 L400.6 125.2 L401.9 122.2 L401.1 121.9 L398.9 119.1 L394.2 117.1 L393.2 115.4 L393.2 113.6 L393.3 111.5 L392.2 113.0 L390.5 114.6 L388.3 116.8 L383.7 117.5 L381.2 117.4 L381.2 115.3 L381.2 112.8 L380.3 112.1 L379.3 113.6 L379.0 115.3 L378.9 116.1 L377.7 113.5 L377.4 111.9 L377.5 110.6 L376.3 109.7 L374.1 107.7 L373.1 105.2 L372.1 102.9 L371.6 102.8 L372.6 101.3 L373.5 101.2 L375.1 99.6 L377.5 100.9 L379.3 104.1 L380.9 107.2 L383.7 108.5 L389.5 110.9 L393.1 109.1 L394.6 109.7 L395.1 112.5 L396.8 113.5 L399.9 114.2 L403.9 114.4 L408.2 114.9 L411.2 114.6 L414.0 114.7 L417.6 114.2 L420.1 115.8 L421.3 118.3 L423.1 118.9 L423.9 120.3 L425.1 122.4 L425.0 122.9 L426.6 124.5 L430.2 127.1 L433.0 125.7 L433.2 124.2 L434.2 122.7 L434.5 126.0 L434.7 131.6 L436.0 136.9 L437.2 140.9 L439.8 147.6 L442.3 151.9 L443.4 155.2 L445.1 159.0 L446.7 160.0 L448.2 158.2 L451.1 156.9 L452.5 154.4 L452.5 150.2 L453.7 147.1 L453.2 143.5 L453.7 141.4 L455.8 139.0 L458.6 137.1 L461.2 135.1 L465.3 131.0 L467.5 129.5 L469.8 128.1 L470.6 124.9 L473.1 124.6 L475.9 124.1 L478.9 123.8 L480.2 122.2 L481.4 121.9 L482.7 122.7 L483.2 125.2 L484.0 126.8 L485.5 128.5 L487.2 130.8 L488.8 133.0 L489.3 135.6 L488.8 139.6 L491.5 140.1 L493.8 138.2 L495.8 136.9 L497.3 138.2 L497.8 141.7 L498.6 144.8 L499.9 148.9 L499.7 155.1 L499.1 160.5 L500.6 160.2 L502.1 162.0 L503.4 164.1 L504.2 166.8 L504.9 169.9 L506.7 172.9 L509.1 174.9 L512.2 177.2 L514.3 177.0 L514.0 174.7 L512.0 170.9 L511.2 167.1 L509.0 164.8 L507.9 164.3 L506.7 163.0 L504.9 162.3 L503.7 159.2 L503.1 156.9 L501.4 153.8 L502.9 150.5 L503.3 148.4 L503.4 146.9 L504.9 146.1 L505.7 147.6 L505.7 148.4 L506.7 148.3 L508.7 148.9 L510.7 150.8 L511.0 151.5 L512.2 153.6 L514.3 153.7 L514.8 154.1 L516.3 155.1 L515.4 158.7 L517.0 158.2 L518.6 156.9 L520.3 155.4 L521.3 154.2 L523.9 152.8 L526.6 150.2 L527.3 147.6 L526.8 145.3 L525.9 141.9 L524.2 139.3 L522.8 138.0 L520.1 135.6 L517.9 132.4 L518.3 129.5 L520.3 126.8 L523.6 124.9 L526.4 124.9 L527.9 126.2 L528.4 128.1 L529.9 128.1 L529.7 125.7 L533.2 124.6 L537.5 123.0 L539.3 122.7 L541.3 121.6 L545.6 119.8 L549.1 116.7 L550.6 115.5 L552.9 112.5 L554.4 109.7 L555.9 106.8 L557.9 104.2 L558.7 101.6 L556.4 99.6 L558.7 98.1 L558.4 96.0 L556.4 93.6 L554.7 89.1 L552.1 86.7 L552.6 84.8 L554.9 82.8 L557.7 80.4 L560.2 80.1 L560.7 78.5 L559.2 78.2 L557.4 78.1 L555.9 77.3 L554.7 77.6 L551.4 79.2 L551.1 77.6 L551.9 77.3 L548.3 75.7 L548.1 73.4 L552.9 70.5 L556.4 67.5 L559.2 68.1 L557.9 72.4 L556.7 74.2 L558.4 73.6 L561.5 71.4 L564.8 70.5 L567.0 71.8 L567.0 74.4 L566.0 76.3 L567.3 77.6 L570.6 78.4 L569.8 81.1 L570.3 83.3 L569.9 86.8 L570.6 88.2 L573.5 87.0 L576.9 85.7 L578.0 83.0 L577.6 79.8 L576.4 77.4 L575.6 76.0 L572.7 72.9 L573.1 70.8 L574.9 69.8 L577.1 67.8 L578.6 64.1 L579.9 62.8 L581.2 61.4 L583.9 59.7 L586.5 60.7 L589.2 59.0 L592.5 57.6 L595.6 53.7 L595.8 52.8 L599.4 47.6 L605.2 38.2 L606.4 28.3 L606.2 21.5 L607.9 20.8 L604.9 18.3 L601.9 17.4 L598.1 17.9 L596.8 18.7 L599.9 7.0 L604.4 2.1 L610.7 -6.5 L617.0 -7.0 L627.1 -8.0 L634.7 -5.1 L642.3 -6.5 L647.1 0.3 L644.8 4.5 L643.8 9.1 L643.8 13.5 L644.3 17.9 L644.8 22.1 L645.8 26.3 L646.6 30.7 L650.6 26.3 L651.6 22.1 L654.9 21.7 L654.9 17.9 L659.7 15.7 L660.2 14.4 L659.4 11.3 L661.5 8.2 L663.2 5.4 L663.2 1.2 L661.2 -0.2 L663.7 -5.1 L666.3 -17.8 Z"/>
<path d="M243.3 -3.3 L240.8 1.2 L240.3 2.1 L245.9 1.2 L246.4 2.6 L245.7 3.8 L244.6 6.3 L244.3 7.7 L242.8 9.1 L245.9 10.2 L247.4 13.5 L249.4 15.7 L250.6 17.4 L251.2 19.6 L251.7 22.1 L252.2 22.3 L254.2 22.4 L255.3 24.2 L254.3 26.5 L253.2 28.3 L254.4 28.7 L254.3 29.9 L253.3 30.7 L251.5 31.3 L250.5 31.1 L248.1 31.1 L245.9 31.9 L244.7 32.3 L243.3 31.5 L242.3 31.9 L241.7 33.5 L240.4 32.9 L237.8 34.5 L236.5 34.1 L238.0 32.7 L239.5 30.3 L243.3 29.5 L244.1 28.1 L242.8 28.5 L240.8 27.9 L237.8 27.5 L237.5 26.7 L240.5 24.6 L238.8 22.9 L239.3 20.8 L242.1 20.8 L243.1 20.4 L243.2 18.7 L243.6 17.4 L242.8 17.4 L241.8 15.7 L243.1 13.7 L240.8 14.4 L238.5 15.0 L238.0 13.5 L239.2 11.5 L238.5 9.5 L236.8 12.2 L237.0 9.1 L237.0 7.2 L235.2 5.9 L236.3 4.5 L236.3 2.6 L237.8 0.3 L238.3 -3.1 Z"/>
<path d="M232.2 11.7 L235.4 12.6 L237.0 15.0 L236.9 16.4 L235.2 17.9 L235.5 20.6 L235.8 22.1 L234.9 25.4 L233.2 25.6 L229.9 27.1 L226.2 28.5 L224.5 25.8 L226.4 23.8 L228.0 21.1 L225.1 20.4 L225.7 16.6 L229.4 16.6 L230.2 15.3 L228.7 14.8 L229.9 12.9 Z"/>
<path d="M282.3 76.6 L284.7 76.0 L290.4 75.8 L289.0 78.2 L289.5 79.8 L289.0 80.9 L286.9 79.7 L285.2 78.9 L282.2 77.3 Z"/>
<path d="M271.6 66.8 L274.1 66.0 L275.6 68.5 L275.4 70.1 L275.1 72.8 L273.9 72.8 L272.6 73.7 L272.1 71.8 L272.1 69.1 Z"/>
<path d="M274.6 60.0 L275.0 63.1 L274.1 65.5 L272.9 63.8 L272.6 62.1 L274.4 61.0 Z"/>
<path d="M310.2 84.5 L312.8 84.8 L317.3 85.4 L313.5 86.2 L310.2 85.4 Z"/>
<path d="M332.5 86.1 L334.0 85.4 L334.2 85.0 L338.3 83.9 L336.5 86.1 L334.2 87.3 L332.7 86.8 Z"/>
<path d="M257.0 71.6 L258.7 70.3 L259.7 71.1 L258.7 72.4 Z"/>
<path d="M611.2 16.1 L612.5 22.1 L612.7 26.3 L613.5 32.3 L616.3 39.5 L612.2 37.4 L611.7 42.7 L613.0 46.5 L613.0 49.0 L611.2 47.2 L609.7 49.8 L609.2 45.7 L609.7 40.1 L609.7 34.3 L609.2 28.3 L608.7 25.0 L609.2 20.4 L610.2 17.0 Z"/>
<path d="M525.4 130.8 L527.4 128.9 L529.4 128.7 L531.2 130.0 L529.9 132.2 L527.6 133.8 L525.4 133.0 Z"/>
<path d="M453.5 155.6 L455.9 158.8 L457.2 161.0 L457.6 162.8 L455.7 165.1 L454.4 165.5 L453.4 165.2 L452.5 162.9 L452.3 160.2 L452.8 157.7 L452.9 155.9 Z"/>
<path d="M-11.7 -17.8 L11.8 -17.8 L13.0 -3.8 L16.6 4.5 L23.7 4.5 L28.7 7.2 L36.3 12.2 L43.1 12.6 L43.3 20.0 L43.9 22.5 L46.4 26.3 L47.6 29.1 L51.4 28.3 L51.7 22.1 L50.2 15.7 L55.2 11.3 L57.5 6.8 L57.5 2.1 L54.0 -3.6 L52.7 -17.8 L74.2 -17.8 L75.4 -5.1 L78.2 -0.7 L83.0 -3.6 L86.8 -10.0 L88.0 -11.5 L93.1 -0.2 L95.1 6.8 L98.9 11.5 L104.5 15.7 L107.0 19.1 L110.5 25.2 L106.7 28.7 L101.9 31.3 L94.9 33.5 L83.2 33.5 L78.8 37.4 L74.9 41.4 L71.1 46.5 L74.2 43.9 L77.9 40.3 L80.5 38.7 L88.5 38.2 L88.8 40.1 L84.2 41.6 L86.8 42.7 L87.0 45.7 L88.0 48.3 L92.6 50.5 L95.9 50.5 L98.1 45.7 L99.9 49.4 L96.9 51.9 L90.6 54.4 L85.3 58.6 L83.9 57.2 L84.8 54.4 L88.3 51.6 L88.0 50.1 L84.2 52.1 L81.7 53.7 L78.7 55.5 L73.6 57.8 L72.6 61.2 L71.6 62.4 L74.2 63.3 L74.2 64.5 L72.4 65.1 L70.9 65.3 L68.8 65.8 L64.8 67.1 L69.1 66.6 L64.3 68.3 L64.1 68.6 L63.0 72.3 L61.8 73.6 L60.3 72.1 L61.3 75.3 L59.1 79.5 L58.2 75.0 L57.7 79.2 L59.0 80.1 L60.3 85.3 L57.7 87.3 L54.2 89.1 L51.7 90.0 L49.2 92.9 L46.4 95.1 L45.4 100.2 L47.5 105.5 L48.8 110.2 L48.5 113.2 L47.9 114.7 L46.1 114.9 L44.4 112.2 L43.3 110.5 L42.1 107.4 L41.2 103.6 L38.8 100.7 L36.3 102.0 L34.5 100.6 L30.7 100.0 L28.7 99.9 L26.2 99.9 L24.7 100.7 L25.7 103.1 L25.2 104.1 L23.1 103.6 L20.4 103.1 L17.8 102.3 L14.1 101.9 L11.5 103.1 L8.5 105.1 L5.5 107.7 L5.0 109.7 L5.6 112.6 L4.2 116.7 L3.8 122.9 L5.2 126.4 L8.2 131.1 L11.0 132.7 L12.5 133.9 L17.0 132.8 L19.1 132.6 L22.3 129.3 L22.6 126.7 L24.5 125.4 L28.3 124.6 L31.1 124.6 L31.9 125.8 L30.1 128.4 L30.0 130.8 L28.7 133.0 L28.2 135.6 L27.9 138.2 L27.2 140.4 L28.8 140.0 L31.7 140.1 L33.9 139.6 L37.5 140.0 L40.3 141.7 L40.9 142.2 L40.3 144.8 L39.4 150.0 L39.6 152.7 L41.3 155.1 L43.2 156.8 L46.4 158.2 L49.2 156.8 L51.4 156.3 L54.2 156.9 L55.6 158.6 L56.7 160.2 L57.0 158.7 L58.2 157.7 L60.0 156.4 L60.3 154.1 L62.0 152.4 L63.5 151.9 L66.8 151.1 L70.0 148.8 L70.9 150.5 L69.4 151.0 L70.1 152.7 L73.4 151.3 L74.2 149.5 L75.4 151.3 L79.2 153.8 L82.0 153.6 L84.1 153.6 L86.8 154.9 L87.5 154.7 L88.8 154.0 L89.6 153.5 L94.6 153.3 L93.1 154.6 L96.9 156.1 L98.5 158.7 L101.9 160.2 L104.1 163.3 L105.7 164.7 L107.0 165.3 L111.6 165.7 L114.6 165.7 L118.8 168.0 L120.6 169.4 L122.1 170.4 L122.4 175.4 L124.9 176.2 L124.7 180.5 L128.7 181.0 L128.4 184.2 L131.3 182.0 L136.5 184.3 L139.0 186.8 L145.4 187.8 L153.7 189.8 L157.5 192.6 L161.8 193.5 L162.0 195.2 L163.0 198.5 L162.8 200.9 L160.8 205.0 L157.3 208.2 L153.7 213.6 L152.4 218.3 L152.3 222.6 L151.9 226.1 L150.5 228.6 L149.1 232.9 L147.4 237.5 L144.9 239.9 L141.8 240.1 L138.0 241.0 L134.0 243.0 L130.0 245.7 L128.4 247.1 L128.4 253.1 L127.8 255.6 L125.4 258.1 L123.9 261.4 L121.6 264.4 L119.3 266.0 L116.1 271.1 L112.2 274.8 L109.0 274.6 L104.8 273.3 L103.4 272.8 L106.7 276.3 L107.7 279.0 L105.6 284.4 L102.7 286.1 L94.1 287.3 L93.8 290.9 L93.6 295.9 L64.1 295.9 L64.8 292.5 L65.6 290.2 L64.9 283.1 L66.4 280.6 L68.1 275.9 L70.1 268.9 L70.4 265.6 L70.7 259.8 L71.1 255.5 L72.1 251.5 L72.9 246.8 L73.1 242.0 L73.6 237.7 L73.8 232.6 L73.4 228.0 L70.7 225.8 L67.3 223.0 L63.4 221.0 L61.1 219.7 L58.2 215.8 L56.1 211.2 L55.0 208.7 L52.4 203.6 L51.2 201.0 L49.0 197.8 L46.0 195.2 L46.1 193.4 L45.5 192.3 L48.1 189.1 L49.2 186.8 L46.5 186.1 L47.1 182.9 L47.6 181.4 L48.9 178.5 L49.7 178.0 L51.9 176.0 L54.2 173.9 L56.2 170.6 L55.1 166.6 L55.5 164.8 L54.2 162.3 L53.6 161.5 L52.9 160.0 L53.6 159.2 L50.2 157.8 L47.9 160.4 L48.9 161.6 L46.6 162.3 L45.9 161.0 L42.8 159.5 L41.6 160.1 L40.8 158.7 L39.4 159.1 L39.6 157.4 L38.4 156.7 L36.7 155.2 L36.0 156.3 L34.1 154.4 L34.5 152.4 L34.0 151.9 L30.7 148.7 L29.7 147.4 L30.2 146.4 L29.2 146.6 L27.4 146.9 L24.0 145.8 L21.6 145.1 L18.9 144.0 L17.6 143.2 L13.8 139.6 L10.5 139.2 L7.2 140.5 L5.8 140.0 L-1.3 137.3 L-5.5 135.2 L-11.7 133.0 Z"/>
<path d="M101.2 43.5 L103.4 40.1 L104.5 36.2 L106.0 31.5 L110.8 27.9 L109.5 31.5 L108.2 34.3 L109.5 35.5 L112.0 36.2 L115.6 37.0 L116.8 39.3 L117.1 42.0 L117.8 43.7 L116.9 47.0 L114.0 46.3 L114.6 44.6 L112.0 46.1 L109.8 46.3 L111.0 43.5 L107.0 43.5 Z"/>
<path d="M88.0 34.7 L93.1 35.8 L95.1 37.8 L90.6 36.8 Z"/>
<path d="M88.3 46.8 L91.8 47.9 L94.4 47.7 L93.1 49.4 L89.8 48.7 Z"/>
<path d="M36.4 123.9 L38.8 121.6 L40.8 120.8 L42.8 120.4 L44.9 120.7 L48.9 120.9 L50.2 122.2 L54.0 122.7 L55.8 124.8 L58.7 126.0 L62.8 128.0 L63.7 128.3 L61.1 129.2 L59.5 129.1 L54.6 129.3 L56.2 128.0 L56.0 127.1 L54.0 127.1 L52.2 124.6 L48.9 124.2 L47.8 123.4 L45.9 123.3 L43.9 122.4 L43.1 121.6 L39.8 122.9 Z"/>
<path d="M62.9 133.4 L63.0 132.6 L68.2 132.8 L67.3 130.4 L65.6 129.5 L68.6 129.6 L70.0 129.3 L72.4 129.5 L76.3 130.8 L78.3 132.8 L76.8 133.2 L74.4 133.1 L71.4 133.8 L70.6 135.3 L69.7 134.2 L67.7 133.6 L64.7 133.8 Z"/>
<path d="M53.1 133.5 L56.5 133.2 L58.5 134.3 L56.7 134.7 L54.7 134.7 Z"/>
<path d="M81.2 133.1 L85.1 133.4 L85.0 134.3 L81.2 134.4 Z"/>
<path d="M94.6 153.3 L97.1 153.1 L96.9 154.9 L94.6 155.0 Z"/>
<path d="M610.7 207.7 L613.2 212.3 L614.0 217.0 L617.8 220.1 L619.0 223.8 L621.6 230.0 L625.2 232.1 L627.6 235.2 L631.4 238.8 L631.7 241.6 L632.9 242.5 L635.7 245.2 L637.7 245.7 L637.5 252.5 L638.7 256.1 L637.6 260.8 L637.0 264.2 L634.2 268.6 L632.9 271.4 L631.7 275.3 L629.7 280.9 L629.5 282.8 L624.6 284.1 L620.6 287.9 L616.8 284.4 L616.0 285.3 L613.2 287.1 L608.4 285.7 L605.4 284.1 L603.6 280.9 L603.1 278.0 L601.6 276.6 L599.6 276.8 L600.6 274.6 L599.6 272.5 L599.1 273.4 L596.6 275.9 L598.1 271.9 L598.8 267.4 L598.3 268.9 L594.3 273.4 L593.3 274.6 L591.8 271.9 L589.8 268.3 L588.5 266.2 L584.2 265.9 L581.9 264.4 L576.4 265.0 L569.1 266.8 L564.0 268.9 L563.7 270.7 L558.7 271.4 L553.9 271.6 L552.4 273.1 L548.6 275.1 L543.8 274.5 L541.5 273.0 L541.3 270.5 L542.9 269.8 L543.2 265.9 L541.3 260.8 L540.3 256.5 L539.1 253.3 L536.6 248.9 L537.9 245.5 L537.2 241.6 L538.0 239.1 L539.1 236.9 L541.5 236.5 L545.9 233.9 L550.4 232.9 L553.9 231.8 L556.4 231.0 L558.4 228.0 L559.5 226.6 L561.2 222.5 L563.0 224.9 L563.0 222.8 L565.3 220.1 L567.8 217.5 L571.4 215.6 L574.4 218.8 L578.1 218.6 L579.2 214.9 L581.3 212.2 L582.9 211.5 L585.7 211.3 L584.2 209.0 L588.0 210.5 L591.8 211.5 L594.3 211.0 L596.6 211.8 L595.6 214.4 L594.3 215.4 L592.8 218.2 L596.3 221.2 L599.4 223.0 L603.4 225.5 L606.4 225.4 L607.9 221.4 L608.7 218.8 L608.4 214.9 L609.2 212.7 L608.7 211.0 L609.7 208.4 Z"/>
<path d="M527.8 175.2 L529.5 176.5 L531.9 174.7 L536.2 172.4 L538.8 169.4 L541.3 167.9 L543.9 165.3 L545.6 162.8 L549.1 165.7 L552.0 167.4 L548.6 169.8 L547.8 172.2 L548.6 174.9 L551.4 178.1 L548.3 178.5 L547.6 182.0 L545.9 183.7 L544.8 185.6 L544.3 188.8 L543.5 189.6 L540.4 191.0 L537.5 189.1 L536.2 188.6 L533.2 188.1 L529.3 188.1 L528.5 185.2 L526.9 182.8 L526.4 179.7 L526.0 178.2 Z"/>
<path d="M491.5 166.5 L496.2 167.4 L498.4 169.1 L500.1 170.9 L503.0 173.0 L505.4 175.4 L507.1 176.2 L509.2 178.2 L512.0 179.2 L512.1 182.5 L514.5 183.2 L515.8 186.4 L518.7 188.7 L518.3 191.1 L518.2 195.2 L516.8 194.3 L514.9 195.4 L513.2 193.6 L509.1 190.1 L506.2 186.9 L504.3 182.9 L502.9 180.5 L500.4 176.1 L497.8 174.7 L496.3 172.3 L493.6 170.0 Z"/>
<path d="M516.5 197.6 L518.6 195.4 L520.7 195.9 L524.5 196.3 L525.1 197.5 L529.7 198.1 L530.9 196.7 L532.2 197.5 L533.8 198.0 L535.6 198.7 L536.7 200.1 L538.8 200.0 L539.9 200.3 L540.0 202.7 L536.2 201.5 L531.4 201.4 L528.7 200.5 L526.1 200.1 L525.2 200.0 L522.3 200.0 L519.6 199.1 Z"/>
<path d="M539.9 201.1 L541.8 200.9 L543.0 201.8 L541.8 202.9 Z"/>
<path d="M543.4 201.8 L544.8 201.3 L545.6 202.2 L544.6 203.2 L543.4 202.8 Z"/>
<path d="M545.7 201.8 L547.8 201.0 L549.6 201.7 L551.9 201.8 L551.4 202.7 L548.9 202.9 L546.3 203.6 Z"/>
<path d="M553.4 201.8 L556.4 201.8 L561.0 201.0 L561.5 201.8 L559.0 202.7 L555.2 202.9 L553.4 202.7 Z"/>
<path d="M551.4 204.6 L553.9 204.1 L555.9 205.9 L553.9 206.6 L551.4 205.4 Z"/>
<path d="M563.0 206.4 L564.0 204.1 L566.5 202.3 L568.0 202.2 L572.3 201.8 L570.3 203.3 L567.0 204.9 L564.0 206.6 Z"/>
<path d="M566.1 176.7 L567.2 176.5 L564.8 179.5 L561.6 179.2 L556.4 179.4 L555.2 179.2 L554.2 182.5 L555.8 184.0 L557.9 182.6 L561.0 182.9 L562.6 182.8 L559.7 184.5 L557.3 185.6 L559.5 188.1 L560.5 190.5 L561.2 191.6 L558.7 192.8 L557.9 190.7 L556.4 188.1 L556.2 187.2 L554.4 188.1 L554.9 190.6 L554.8 192.0 L554.4 194.5 L552.6 194.7 L552.4 193.5 L552.9 190.6 L551.2 189.5 L551.1 187.2 L552.1 184.3 L553.1 182.1 L553.4 180.0 L555.9 177.8 L557.7 177.7 L560.2 178.0 L561.2 178.4 L564.0 178.0 Z"/>
<path d="M573.1 175.4 L574.1 174.9 L575.9 176.7 L574.1 178.0 L576.1 179.7 L574.1 179.5 L575.1 182.5 L573.8 181.5 L572.8 178.5 Z"/>
<path d="M574.1 188.1 L577.9 187.6 L581.2 189.1 L579.2 189.3 L576.1 189.1 L574.1 189.1 Z"/>
<path d="M569.1 188.6 L570.8 188.2 L572.1 189.1 L570.8 190.2 L569.3 189.6 Z"/>
<path d="M385.5 148.6 L388.5 148.6 L387.2 149.2 Z"/>
</g>
<g fill="#f0f0f0" stroke="#f0f0f0" stroke-width="0.5" stroke-linejoin="round">
<path d="M609.2 51.2 L612.5 55.1 L615.3 56.5 L617.8 55.5 L618.5 59.0 L615.5 60.0 L612.6 63.6 L608.4 61.4 L606.9 62.4 L605.2 62.4 L606.9 64.5 L606.2 64.1 L604.7 65.5 L603.9 62.4 L605.2 58.8 L607.7 59.3 L608.6 56.7 L608.7 52.3 Z"/>
<path d="M607.9 65.5 L608.2 68.5 L609.3 71.3 L608.3 75.7 L606.9 76.0 L606.9 79.8 L605.9 82.0 L606.5 83.9 L605.4 85.4 L604.0 86.4 L603.9 84.2 L603.5 85.1 L602.4 85.4 L601.5 87.3 L600.6 86.1 L599.9 87.3 L596.8 87.3 L596.4 86.1 L596.6 88.4 L593.7 90.8 L592.0 88.5 L592.5 87.3 L591.8 87.1 L589.2 87.6 L585.2 88.2 L581.7 89.3 L582.7 87.9 L586.0 84.8 L587.5 84.4 L589.8 84.4 L592.3 83.7 L593.5 84.5 L594.3 83.0 L595.8 81.1 L597.6 78.2 L597.3 80.4 L599.9 79.2 L601.9 76.8 L603.1 75.0 L603.9 73.7 L603.6 70.3 L604.4 68.1 L605.3 66.0 L606.3 67.3 L606.9 65.1 Z"/>
<path d="M581.4 89.4 L583.6 90.3 L584.2 92.3 L582.8 95.4 L582.6 97.1 L580.8 98.1 L579.7 97.4 L579.7 94.5 L578.8 92.9 L578.4 91.5 L579.2 90.6 L580.2 90.3 Z"/>
<path d="M584.2 91.1 L586.0 89.6 L586.7 89.0 L589.4 88.0 L590.8 88.5 L591.1 89.7 L589.8 91.4 L588.1 90.6 L586.7 93.0 L585.5 92.1 Z"/>
<path d="M557.7 114.4 L559.0 115.3 L557.9 118.3 L557.4 120.8 L556.0 123.8 L554.4 121.9 L554.2 120.8 L554.4 118.6 L556.4 115.3 Z"/>
<path d="M555.4 133.0 L558.1 133.4 L559.7 133.2 L560.2 136.9 L557.8 140.2 L558.2 143.0 L559.7 144.5 L561.3 144.5 L564.0 145.3 L563.4 147.0 L564.3 148.4 L562.2 147.4 L560.5 146.9 L558.2 145.1 L556.6 145.4 L555.4 144.7 L556.3 143.2 L555.2 143.6 L554.5 142.7 L553.6 140.9 L553.6 138.5 L554.5 139.4 L554.7 138.0 L554.9 135.5 Z"/>
<path d="M559.1 163.0 L559.0 160.2 L562.4 158.7 L563.2 160.0 L564.5 159.7 L565.6 159.0 L567.9 157.7 L567.8 155.6 L569.6 157.7 L569.9 159.7 L570.2 160.7 L569.6 162.9 L569.4 164.7 L568.0 162.8 L568.0 164.3 L566.9 165.1 L564.5 165.3 L564.0 163.8 L564.5 162.3 L562.6 160.7 L561.0 162.0 Z"/>
<path d="M564.8 148.7 L567.3 148.6 L568.3 152.0 L566.5 152.6 L566.3 154.6 L565.9 151.8 Z"/>
<path d="M559.0 150.2 L561.7 151.0 L562.0 152.8 L562.2 156.9 L560.5 156.7 L560.0 153.6 L558.7 153.8 L559.0 152.6 Z"/>
<path d="M562.5 155.1 L564.1 151.9 L564.3 153.6 L565.5 154.9 L564.8 156.1 L563.5 155.9 Z"/>
<path d="M546.8 159.2 L548.9 157.2 L551.4 154.1 L552.6 151.5 L552.1 154.4 L550.1 157.2 L547.6 159.2 Z"/>
<path d="M554.7 146.2 L556.9 146.2 L557.7 148.4 L556.7 149.5 L555.4 147.6 Z"/>
<path d="M582.3 182.8 L585.5 181.4 L586.7 181.5 L589.5 182.6 L590.0 185.6 L589.8 186.8 L591.3 188.8 L593.0 189.0 L595.1 186.3 L596.8 185.0 L601.2 185.2 L606.2 186.9 L607.7 187.3 L613.6 189.5 L615.9 190.2 L619.0 193.6 L620.8 194.7 L624.2 197.2 L622.1 197.6 L623.6 200.3 L625.6 202.3 L627.9 203.3 L629.7 205.9 L631.9 206.4 L631.3 207.4 L627.1 206.6 L624.6 206.3 L622.5 204.5 L619.0 200.6 L615.8 199.7 L614.5 200.0 L613.2 202.0 L612.5 203.4 L610.0 203.8 L606.9 203.6 L605.4 202.0 L601.9 201.0 L598.6 201.8 L600.9 198.2 L601.4 197.7 L599.6 194.5 L596.3 192.8 L591.8 191.6 L588.5 189.7 L586.2 190.6 L585.0 188.0 L584.2 187.6 L587.2 186.7 L588.7 186.3 L585.5 186.1 L584.2 185.6 L581.7 184.0 Z"/>
<path d="M625.4 194.9 L629.7 193.1 L633.4 191.1 L635.5 191.4 L634.7 194.2 L630.9 196.2 L627.1 196.2 Z"/>
<path d="M569.4 91.2 L571.3 90.5 L571.1 91.2 Z"/>
</g>
<g fill="#ffffff" stroke="none">
<path d="M324.4 66.1 L321.6 63.4 L320.3 61.7 L321.3 59.3 L323.2 55.8 L325.9 53.0 L328.5 47.7 L330.4 47.2 L331.7 47.6 L334.2 49.0 L335.7 49.0 L333.0 51.7 L335.2 54.6 L336.1 55.1 L337.3 54.8 L340.3 53.0 L342.9 52.6 L343.3 51.6 L340.3 51.9 L339.3 49.0 L338.8 48.7 L343.8 46.6 L345.7 45.3 L349.1 45.0 L350.4 45.2 L347.6 46.8 L347.2 49.2 L345.3 51.9 L343.6 52.3 L345.1 53.3 L346.3 54.1 L349.6 56.2 L351.1 57.9 L354.4 60.0 L356.1 62.9 L355.9 64.6 L355.4 65.5 L351.1 66.8 L347.9 67.1 L342.6 65.8 L339.7 63.4 L336.2 63.5 L331.2 65.3 L327.4 66.1 Z"/>
<path d="M319.1 68.3 L320.3 67.0 L324.0 66.8 L326.4 67.6 L324.1 68.6 L321.1 68.8 Z"/>
<path d="M370.8 60.0 L372.9 63.3 L374.6 65.8 L378.2 68.8 L375.6 72.1 L374.4 74.2 L374.4 75.3 L375.9 78.2 L378.8 80.1 L380.7 80.9 L383.8 80.8 L387.2 80.1 L387.0 78.7 L386.7 75.0 L385.0 72.1 L384.7 70.1 L384.5 67.1 L387.2 67.8 L389.0 66.1 L388.5 63.4 L385.2 62.8 L384.2 64.8 L383.2 64.3 L383.5 61.7 L380.2 57.8 L377.9 55.5 L379.7 54.4 L380.4 52.3 L384.7 51.9 L385.2 47.6 L382.2 45.7 L379.7 45.7 L375.9 47.2 L373.4 49.8 L371.1 50.8 L369.6 53.7 L369.1 55.1 L370.3 57.2 Z"/>
<path d="M400.6 49.0 L403.2 46.8 L406.4 47.2 L404.9 49.4 L402.4 49.8 Z"/>
<path d="M398.1 49.8 L399.6 50.8 L398.9 55.1 L397.9 54.8 Z"/>
<path d="M436.5 50.5 L438.3 48.3 L441.5 46.8 L446.6 47.2 L450.4 46.8 L450.9 48.3 L446.6 48.3 L441.5 48.3 L438.3 50.5 L437.8 53.0 L436.5 52.3 Z"/>
<path d="M512.7 28.3 L515.5 26.7 L519.8 22.9 L524.9 17.9 L527.9 10.4 L528.7 11.3 L526.1 19.6 L521.8 24.6 L517.3 27.9 L513.5 29.1 Z"/>
<path d="M443.3 62.1 L446.1 60.9 L448.6 61.0 L447.3 62.8 L444.8 62.9 Z"/>
<path d="M18.3 46.6 L23.7 42.7 L25.7 40.5 L28.2 38.4 L32.7 39.3 L36.5 42.2 L37.3 46.1 L37.5 47.6 L30.2 47.4 L29.0 44.0 L27.4 45.7 L21.4 47.2 Z"/>
<path d="M29.7 63.9 L29.0 59.8 L30.0 55.5 L28.7 54.8 L31.2 50.5 L35.0 49.4 L36.9 50.1 L35.0 53.0 L32.5 56.7 L33.0 59.3 L32.5 63.1 L30.5 64.8 Z"/>
<path d="M37.0 50.1 L40.1 49.0 L46.4 49.8 L48.9 54.4 L44.9 52.1 L44.6 57.4 L42.8 60.0 L41.6 56.4 L39.1 57.8 L40.3 52.8 L38.3 50.7 Z"/>
<path d="M40.3 64.5 L44.6 65.1 L48.6 62.9 L51.7 60.4 L50.8 60.4 L48.4 61.6 L45.9 61.2 L42.6 63.8 L41.1 63.3 Z"/>
<path d="M49.4 59.0 L50.4 57.8 L55.2 56.5 L57.7 55.8 L58.5 58.3 L55.0 59.1 L51.3 59.1 Z"/>
<path d="M1.2 18.7 L4.0 18.3 L7.5 30.3 L6.2 32.7 L4.7 26.3 Z"/>
<path d="M76.7 29.5 L78.2 28.3 L78.4 30.3 Z"/>
</g>
<g fill="none" stroke="#b9b9b9" stroke-width="0.65" stroke-linejoin="round">
<path d="M-11.7 38.2 L10.6 38.2 L10.6 36.6 L12.0 39.3 L16.1 39.7 L20.1 41.8 L24.7 42.0 L27.7 40.8 L36.5 46.1 L37.5 47.6 L39.8 49.0 L42.6 51.9 L42.8 60.0 L41.1 63.3 L42.6 64.5 L51.4 60.7 L51.3 59.1 L57.0 57.9 L58.2 55.8 L61.5 53.0 L70.4 53.0 L72.1 51.6 L74.2 46.8 L76.2 44.0 L78.4 44.4 L79.7 45.3 L79.7 50.5 L81.7 53.7"/>
<path d="M-11.7 103.1 L-8.4 101.9 L-5.1 101.8 L-2.9 105.1 L-0.3 108.2 L0.7 111.3 L5.6 112.6"/>
<path d="M453.4 62.8 L445.1 66.8 L436.9 71.9 L440.0 79.2 L447.9 84.5 L450.4 93.6 L455.4 100.4 L468.1 106.8 L475.1 108.8 L483.2 107.4 L496.7 106.1 L500.1 112.8 L497.2 118.2 L501.4 123.1 L506.3 124.8 L508.8 122.3 L516.8 120.0 L520.3 123.5 L523.6 124.9"/>
<path d="M471.3 37.8 L472.5 37.4"/>
<path d="M545.6 34.9 L548.6 36.2 L553.4 33.9 L555.9 23.8 L557.2 20.8 L563.0 20.0 L568.0 21.7 L572.8 35.1 L580.9 38.6 L581.7 43.1 L591.0 40.8 L587.0 52.6 L582.4 53.3 L581.9 60.0 L580.7 62.1 L578.9 60.0 L574.1 63.4 L571.3 64.1 L565.0 70.1"/>
<path d="M569.3 77.4 L571.8 75.7 L575.1 74.7"/>
<path d="M423.1 118.9 L430.2 116.9 L426.6 109.1 L433.7 104.5 L439.0 97.8 L440.0 93.6 L437.8 91.5 L438.5 86.7 L447.3 84.5"/>
<path d="M406.4 114.7 L406.9 111.9 L410.5 109.1 L409.5 106.2 L404.9 102.8 L404.7 101.5 L408.7 102.8 L418.3 101.5 L418.6 98.4 L425.9 95.4 L427.7 89.1 L431.4 86.1 L430.7 82.6 L440.0 79.2"/>
<path d="M404.7 101.5 L406.9 98.4 L404.4 96.6 L403.7 90.3 L404.9 84.2 L405.7 81.1"/>
<path d="M364.0 71.1 L368.3 73.7 L372.1 71.1 L374.4 75.3"/>
<path d="M387.0 78.7 L392.3 76.3 L398.4 77.9 L405.7 81.1 L405.2 85.1"/>
<path d="M405.7 81.1 L410.0 84.8 L413.8 82.0 L418.8 78.7 L422.1 79.2 L425.9 79.5 L428.2 77.9 L431.7 80.8 L440.0 79.2"/>
<path d="M422.1 79.2 L423.6 76.0 L421.1 72.4 L424.1 69.5 L429.2 69.5"/>
<path d="M455.4 100.4 L453.2 104.5 L458.0 107.1 L465.5 110.5 L473.4 111.3 L475.1 108.8"/>
<path d="M217.6 107.7 L229.0 107.7"/>
<path d="M207.8 126.8 L218.1 125.4 L218.1 120.8 L220.6 119.7 L220.6 112.5 L229.0 112.5 L229.0 108.8"/>
<path d="M238.8 115.3 L236.8 128.9 L237.0 140.9 L227.4 140.9 L223.4 141.9 L221.9 140.6 L220.1 142.7"/>
<path d="M209.2 139.6 L214.3 138.0 L218.1 140.9 L220.1 142.7 L222.1 148.9"/>
<path d="M222.1 148.9 L216.3 148.4 L213.0 148.9 L208.7 148.9"/>
<path d="M208.5 145.8 L213.0 145.3 L216.1 146.1 L213.0 146.9 L208.5 147.1"/>
<path d="M213.0 152.6 L216.3 150.8 L216.3 148.4"/>
<path d="M222.1 148.9 L229.9 152.6 L230.7 154.6 L229.9 161.3 L232.0 165.8 L232.0 169.4"/>
<path d="M217.3 157.7 L224.9 159.0 L221.9 163.0"/>
<path d="M224.9 159.0 L229.9 161.3"/>
<path d="M243.1 167.6 L244.1 156.4 L243.8 152.6"/>
<path d="M230.7 154.6 L237.0 154.1 L243.8 155.1"/>
<path d="M237.0 154.1 L237.5 150.5 L240.8 146.1 L245.9 144.3 L251.4 142.2 L258.5 141.1 L261.6 137.2 L261.6 131.2"/>
<path d="M253.9 165.1 L252.2 159.0 L250.9 152.3"/>
<path d="M255.1 164.8 L254.9 157.7 L253.2 152.6"/>
<path d="M243.8 152.6 L250.9 152.3 L253.2 152.6 L257.0 149.2 L260.0 150.8"/>
<path d="M251.4 142.2 L257.0 149.2"/>
<path d="M281.1 119.4 L288.8 120.8 L311.5 130.3"/>
<path d="M288.8 120.8 L290.0 126.2 L290.0 137.2 L285.2 145.6"/>
<path d="M314.0 123.5 L314.0 128.9 L311.5 128.9 L311.5 130.3 L311.5 140.4 L308.7 140.9 L307.7 147.4 L308.7 152.8"/>
<path d="M308.7 152.8 L298.9 157.7 L290.0 161.5"/>
<path d="M290.0 161.5 L286.2 155.1 L289.0 155.1 L287.8 150.0"/>
<path d="M290.0 161.5 L287.8 165.6 L287.5 169.1 L291.8 174.9"/>
<path d="M275.6 174.7 L279.4 174.9 L284.5 174.9"/>
<path d="M279.4 174.9 L279.4 178.0 L275.1 178.0"/>
<path d="M308.7 152.8 L311.5 158.4 L314.5 160.7 L320.1 167.5"/>
<path d="M311.5 158.4 L314.0 154.4 L321.6 156.4 L326.7 155.6 L329.2 155.1 L332.7 150.0 L334.7 149.5 L334.2 155.1 L337.0 156.5"/>
<path d="M348.4 134.3 L344.3 136.9 L343.1 144.0 L342.1 148.2 L337.0 156.5"/>
<path d="M343.1 144.0 L346.6 142.4 L349.4 143.2 L353.9 144.5 L358.0 148.7 L359.7 148.2"/>
<path d="M337.0 156.5 L334.2 160.7 L339.3 166.8 L341.5 168.9"/>
<path d="M341.5 168.9 L344.1 169.4 L346.9 171.4 L350.6 171.9 L354.4 170.6 L356.7 170.5"/>
<path d="M356.7 170.5 L359.5 168.9 L364.5 167.9 L372.1 160.2 L369.6 160.2 L362.0 157.7 L359.0 152.6 L356.4 152.6 L358.0 148.7"/>
<path d="M360.0 151.3 L359.0 152.6"/>
<path d="M356.7 170.5 L354.4 173.4 L354.4 182.5 L355.9 184.8"/>
<path d="M336.5 183.0 L336.5 180.2 L338.0 177.7 L339.3 175.7 L336.8 169.9 L341.5 168.9"/>
<path d="M328.8 171.7 L331.7 171.4 L336.8 169.9"/>
<path d="M325.6 184.0 L327.9 183.2"/>
<path d="M324.1 187.3 L327.9 186.6"/>
<path d="M327.7 220.5 L334.0 223.3 L334.0 228.0 L333.5 233.4 L329.9 238.6"/>
<path d="M314.7 226.2 L319.1 226.6"/>
<path d="M334.7 216.2 L338.0 217.5 L341.5 218.6 L340.0 224.3 L337.8 222.2 L338.3 219.6"/>
<path d="M339.1 209.9 L341.3 213.6 L341.5 218.6"/>
<path d="M279.9 91.7 L279.9 93.9 L276.9 96.0 L276.7 98.7 L275.0 100.3"/>
<path d="M331.6 248.4 L332.0 250.9"/>
<path d="M70.9 150.5 L67.8 152.3 L66.6 156.9 L68.1 159.2 L69.1 162.8 L73.9 162.8 L75.7 165.1 L80.5 164.8 L79.7 169.6 L81.0 174.7 L82.0 177.5"/>
<path d="M82.0 177.5 L81.5 176.2 L74.7 176.2 L74.7 177.7 L76.2 178.0 L75.7 183.0 L74.3 191.1"/>
<path d="M51.9 176.8 L54.7 178.5 L58.2 179.5 L60.9 180.8"/>
<path d="M82.0 177.5 L85.5 178.7 L89.3 175.7 L89.3 174.2 L91.8 171.2 L87.8 170.1 L92.3 170.4 L97.6 167.4"/>
<path d="M97.6 167.4 L95.9 165.6 L96.6 163.5 L99.4 158.8"/>
<path d="M97.6 167.4 L99.4 167.6 L99.9 169.4 L100.7 170.6 L99.4 173.7 L101.9 177.2 L104.5 176.7 L108.2 175.7"/>
<path d="M106.7 165.6 L106.2 167.9 L104.5 170.4 L108.2 175.7"/>
<path d="M114.6 165.8 L113.5 170.4 L113.0 174.7"/>
<path d="M108.2 175.7 L113.0 174.7 L117.3 174.9 L120.5 170.1"/>
<path d="M75.2 208.3 L77.9 208.4 L86.0 205.4 L86.0 209.7 L88.3 212.3 L94.9 214.9 L98.1 215.7 L99.1 222.2 L103.7 222.2 L103.4 224.9 L105.7 226.7 L105.0 229.4 L104.1 232.5"/>
<path d="M104.1 232.5 L101.7 230.2 L95.1 231.0 L93.6 233.4 L92.7 238.1"/>
<path d="M92.7 238.1 L88.5 239.7 L86.3 237.7 L83.7 236.9 L81.2 239.7"/>
<path d="M81.2 239.7 L78.7 235.6 L77.9 230.7 L75.4 225.4"/>
<path d="M104.1 232.5 L104.7 237.7 L110.3 238.3 L111.0 243.0 L113.8 243.2 L113.0 247.4"/>
<path d="M92.7 238.1 L96.9 242.4 L102.4 245.2 L105.5 247.1 L102.9 252.2 L108.5 252.5 L113.0 247.4"/>
<path d="M113.0 247.4 L115.3 251.3 L110.0 255.1 L105.5 260.6"/>
<path d="M105.5 260.6 L109.5 262.3 L115.1 266.2 L116.1 271.1"/>
<path d="M105.5 260.6 L103.9 267.4 L103.4 271.9"/>
<path d="M81.2 239.7 L78.4 244.3 L78.2 249.4 L75.4 255.6 L74.2 262.9 L73.4 269.8 L72.9 275.6 L71.4 282.8 L70.9 287.6 L69.6 294.2"/>
<path d="M18.1 143.5 L18.1 141.9 L19.4 139.3 L22.6 139.3 L21.1 136.3 L21.1 134.8 L25.8 134.8 L25.7 139.8 L26.4 139.8"/>
<path d="M28.2 140.4 L25.4 143.8 L23.4 145.4"/>
<path d="M25.4 143.8 L27.4 145.1 L29.2 146.4"/>
<path d="M30.5 147.4 L32.0 145.3 L36.3 143.2 L40.9 142.2"/>
<path d="M34.5 152.4 L37.0 152.4 L39.6 152.7"/>
<path d="M41.6 160.1 L41.6 157.7 L42.3 156.3"/>
<path d="M54.2 162.3 L55.6 158.6"/>
<path d="M69.7 134.2 L69.9 129.7"/>
<path d="M228.4 63.8 L230.2 63.4 L234.2 63.8 L235.2 64.8 L233.5 66.8 L233.2 71.1 L232.0 71.4 L233.2 76.0 L232.2 79.2"/>
<path d="M246.4 58.8 L252.7 61.0 L255.2 61.7 L259.0 61.9"/>
<path d="M269.8 57.2 L268.6 55.5 L268.3 52.6 L268.6 49.8 L266.3 48.7 L268.3 44.6 L270.1 43.5 L271.6 38.2 L267.1 36.2 L265.5 36.2 L263.0 34.3 L261.5 34.3 L257.3 29.9"/>
<path d="M259.5 28.9 L263.5 28.5 L265.8 30.3 L266.1 31.3 L266.1 27.1 L268.1 26.3 L268.7 24.2 L269.1 20.8"/>
<path d="M266.1 31.3 L267.1 33.1 L266.3 33.9 L267.1 36.2"/>
<path d="M272.7 14.0 L275.9 14.4"/>
<path d="M286.9 18.3 L287.3 21.3 L286.5 22.9 L288.0 25.8 L288.8 30.3 L287.0 30.3 L281.5 33.1 L283.2 37.0 L285.7 39.1 L283.2 41.6 L283.7 43.9 L277.4 43.9 L275.1 43.9 L270.1 43.5"/>
<path d="M268.6 49.8 L272.1 47.9 L273.6 50.1 L277.3 46.3 L281.7 45.7 L282.2 46.8 L285.5 47.6 L285.2 50.1 L285.6 50.8"/>
<path d="M275.1 43.9 L274.9 45.5 L277.3 46.3"/>
<path d="M285.7 39.1 L288.8 38.2 L293.7 39.7 L294.1 42.0 L291.6 46.3 L285.5 47.6"/>
<path d="M288.8 30.3 L292.1 32.3 L293.8 33.1 L298.4 36.2 L294.3 38.7 L293.7 39.7"/>
<path d="M298.4 36.2 L301.4 37.4 L307.8 37.8 L308.2 35.8 L311.8 31.9 L310.5 28.3 L310.7 25.8 L310.2 23.8 L311.2 18.3 L310.2 18.1 L308.5 16.4 L300.4 15.9"/>
<path d="M308.5 16.4 L308.2 14.0 L304.7 12.4"/>
<path d="M304.1 8.7 L306.5 7.2 L313.8 7.2 L318.1 10.4 L316.0 17.0 L310.2 18.1"/>
<path d="M312.4 0.4 L314.8 -0.2 L320.0 1.9 L320.8 -0.2 L320.1 -4.1 L321.6 -7.3"/>
<path d="M320.0 1.9 L321.3 5.4 L322.1 8.4 L318.1 10.4"/>
<path d="M322.1 8.4 L328.9 10.9 L329.2 14.8 L333.5 20.0 L330.4 21.7 L331.2 25.8 L327.9 29.1 L319.6 27.9 L314.0 26.7 L310.5 28.3"/>
<path d="M331.2 25.8 L336.2 24.8 L337.8 29.5 L340.8 32.7 L346.9 34.7 L352.2 35.8 L351.1 42.7 L347.4 45.3"/>
<path d="M307.8 37.8 L306.8 40.5 L308.7 42.0 L313.8 43.1 L318.1 41.0 L320.6 40.3 L324.4 42.4 L326.9 47.9 L322.1 51.4 L325.8 51.7"/>
<path d="M318.1 41.0 L321.9 46.1 L322.1 51.4"/>
<path d="M294.1 42.0 L298.4 42.7 L302.7 40.1 L306.8 40.5"/>
<path d="M308.7 42.0 L304.4 47.9 L302.1 49.0"/>
<path d="M298.5 49.8 L295.3 49.6 L292.6 47.6 L291.6 46.3"/>
<path d="M308.2 55.8 L308.7 57.2 L315.3 57.8 L319.1 56.2 L323.1 57.4"/>
<path d="M307.5 62.4 L308.8 65.6 L312.8 65.1 L316.6 65.8 L317.4 64.5"/>
<path d="M301.4 71.1 L302.9 69.8 L303.9 67.3 L308.8 65.6"/>
<path d="M303.9 67.3 L302.7 65.8 L302.9 63.9 L301.7 61.4 L300.9 61.7 L299.9 63.9"/>
<path d="M298.9 53.3 L293.8 52.3 L290.8 52.3 L291.0 54.1 L292.6 56.5 L295.3 60.0 L297.6 61.7 L299.4 58.3"/>
<path d="M285.2 51.2 L289.5 51.2 L290.5 48.7 L292.6 47.6"/>
<path d="M341.0 93.0 L343.8 94.2 L348.9 91.1 L349.9 94.7"/>
<path d="M341.7 87.1 L343.3 88.5 L341.3 91.2 L340.8 91.4 L339.5 91.8"/>
<path d="M340.8 91.4 L340.8 93.0 L340.7 95.7 L340.3 98.1 L339.1 102.5"/>
<path d="M385.0 137.9 L382.2 131.6"/>
<path d="M475.1 108.8 L477.6 110.5 L483.2 110.1 L483.2 107.4"/>
<path d="M232.5 13.3 L230.4 15.9 L232.5 17.2 L235.0 17.4"/>
<path d="M606.9 187.1 L606.9 203.6"/>
<path d="M539.0 169.0 L540.8 170.4 L542.0 168.1"/>
<path d="M522.5 143.0 L522.6 148.7 L518.2 151.0 L514.6 154.0"/>
<path d="M472.5 37.4 L475.6 35.8 L478.2 34.3 L483.2 31.1 L489.0 32.1 L490.8 34.3 L496.6 35.3 L499.1 32.3 L500.6 25.8 L509.0 29.1 L509.2 31.9 L512.7 33.7 L518.6 32.9 L521.1 35.5 L524.9 37.0 L530.4 37.6 L536.0 35.8 L539.5 33.3 L545.6 34.9 L543.3 42.4 L547.3 43.3 L550.1 42.1 L553.6 46.8 L547.3 48.1 L545.3 48.3 L543.0 51.4 L540.0 51.6 L537.7 53.9 L533.4 52.8 L532.2 55.5 L533.4 57.6 L529.7 61.2 L526.9 61.9 L521.8 62.1 L516.0 64.8 L514.8 63.8 L507.9 61.7 L503.4 61.2 L494.3 60.9 L491.8 55.7 L487.0 53.2 L480.4 51.9 L480.7 46.1 L478.2 42.5 L474.6 41.2 Z"/>
<path d="M316.7 67.8 L317.4 64.5 L321.6 63.4 L324.4 66.1 L327.4 66.1 L331.2 65.3 L336.2 63.5 L339.7 63.4 L342.6 65.8 L347.9 67.1 L351.1 66.8 L355.4 65.5 L355.8 65.1 L358.2 65.3 L360.7 66.5 L361.4 69.8 L364.0 71.1 L363.0 75.3 L362.5 76.9 L364.0 79.3 L357.8 79.5 L353.9 79.5 L348.9 80.8 L344.6 80.9 L343.6 82.2 L342.8 82.3 L342.2 83.4 L341.5 82.0 L342.3 81.1 L341.8 80.1 L340.0 81.1 L338.3 80.4 L336.8 82.0 L334.2 82.6 L331.7 81.4 L328.4 80.1 L327.7 82.0 L325.6 82.3 L324.4 81.1 L322.1 80.8 L319.8 79.8 L319.6 76.9 L317.3 75.7 L318.8 75.3 L318.6 73.4 L316.8 71.8 L317.1 70.0 Z"/>
<path d="M319.1 258.8 L321.6 256.2 L323.4 255.9 L325.1 258.2 L324.6 259.7 L322.1 261.7 L320.1 260.8 Z"/>
<path d="M484.0 126.8 L485.5 128.5 L487.2 130.8 L488.8 133.0 L489.3 135.6 L488.8 139.6 L491.5 140.1 L493.8 138.2 L495.8 136.9 L497.3 138.2 L497.8 141.7 L498.6 144.8 L499.9 148.9 L499.7 155.1 L500.4 153.6 L501.9 151.0 L501.1 147.4 L498.9 142.2 L499.9 139.3 L500.6 138.8 L497.7 135.3 L496.8 133.0 L497.8 130.0 L498.4 129.7 L500.9 129.2 L503.7 128.0 L504.9 126.0 L506.3 124.8 L503.9 124.9 L503.1 123.4 L501.4 123.1 L501.9 120.5 L500.1 118.0 L497.2 118.2 L497.6 115.0 L500.1 112.8 L500.1 108.1 L499.4 107.9 L496.7 106.1 L495.8 109.4 L493.8 108.9 L491.0 112.3 L489.8 114.9 L490.0 118.0 L488.6 118.5 L486.6 117.9 L486.5 120.8 L486.0 123.0 L484.7 123.8 Z"/>
<path d="M510.7 150.8 L510.2 148.4 L509.7 145.8 L511.0 144.1 L515.5 143.8 L516.5 144.0 L518.6 143.9 L520.6 144.0 L522.5 143.0 L522.3 145.3 L522.6 148.7 L522.3 149.1 L519.6 150.1 L518.2 151.0 L519.1 153.1 L516.3 152.7 L514.6 154.0 L514.3 153.7 L512.2 153.6 L511.0 151.5 Z"/>
<path d="M385.0 137.9 L382.2 131.6 L389.8 128.9 L391.4 123.5 L390.3 121.6 L391.7 117.5 L392.3 115.4 L393.2 115.4 L394.2 117.1 L398.9 119.1 L401.1 121.9 L401.9 122.2 L400.6 125.2 L399.4 127.1 L398.6 127.9 L396.8 128.4 L396.6 129.7 L396.8 131.6 L394.8 134.3 L393.1 134.5 L390.5 135.6 L387.5 136.9 Z"/>
<path d="M381.2 117.4 L383.7 117.5 L388.3 116.8 L390.5 114.6 L392.2 113.0 L392.6 112.3 L393.2 113.6 L393.2 115.4 L392.3 115.4 L391.7 117.5 L390.3 121.6 L390.2 121.6 L383.7 120.9 L381.2 117.8 Z"/>
<path d="M379.2 116.0 L380.2 116.4 L381.2 115.3 L381.2 112.8 L380.3 112.1 L379.3 113.6 L379.0 115.3 Z"/>
<path d="M368.4 103.6 L370.7 103.9 L371.3 105.2 L373.1 105.2 L372.1 102.9 L371.6 102.8 L372.6 101.3 L372.0 101.0 L371.3 100.7 L369.8 101.2 Z"/>
</g>
<g fill="#a9db9e" stroke="#5f7f5f" stroke-width="0.8" stroke-linejoin="round">
<path d="M491.5 166.5 L496.2 167.4 L498.4 169.1 L500.1 170.9 L503.0 173.0 L505.4 175.4 L507.1 176.2 L509.2 178.2 L512.0 179.2 L512.1 182.5 L514.5 183.2 L515.8 186.4 L518.7 188.7 L518.3 191.1 L518.2 195.2 L516.8 194.3 L514.9 195.4 L513.2 193.6 L509.1 190.1 L506.2 186.9 L504.3 182.9 L502.9 180.5 L500.4 176.1 L497.8 174.7 L496.3 172.3 L493.6 170.0 Z"/>
<path d="M516.5 197.6 L518.6 195.4 L520.7 195.9 L524.5 196.3 L525.1 197.5 L529.7 198.1 L530.9 196.7 L532.2 197.5 L533.8 198.0 L535.6 198.7 L536.7 200.1 L538.8 200.0 L539.9 200.3 L540.0 202.7 L536.2 201.5 L531.4 201.4 L528.7 200.5 L526.1 200.1 L525.2 200.0 L522.3 200.0 L519.6 199.1 Z"/>
<path d="M539.9 201.1 L541.8 200.9 L543.0 201.8 L541.8 202.9 Z"/>
<path d="M543.4 201.8 L544.8 201.3 L545.6 202.2 L544.6 203.2 L543.4 202.8 Z"/>
<path d="M545.7 201.8 L547.8 201.0 L549.6 201.7 L551.9 201.8 L551.4 202.7 L548.9 202.9 L546.3 203.6 Z"/>
<path d="M553.4 201.8 L556.4 201.8 L561.0 201.0 L561.5 201.8 L559.0 202.7 L555.2 202.9 L553.4 202.7 Z"/>
<path d="M551.4 204.6 L553.9 204.1 L555.9 205.9 L553.9 206.6 L551.4 205.4 Z"/>
<path d="M566.1 176.7 L567.2 176.5 L564.8 179.5 L561.6 179.2 L556.4 179.4 L555.2 179.2 L554.2 182.5 L555.8 184.0 L557.9 182.6 L561.0 182.9 L562.6 182.8 L559.7 184.5 L557.3 185.6 L559.5 188.1 L560.5 190.5 L561.2 191.6 L558.7 192.8 L557.9 190.7 L556.4 188.1 L556.2 187.2 L554.4 188.1 L554.9 190.6 L554.8 192.0 L554.4 194.5 L552.6 194.7 L552.4 193.5 L552.9 190.6 L551.2 189.5 L551.1 187.2 L552.1 184.3 L553.1 182.1 L553.4 180.0 L555.9 177.8 L557.7 177.7 L560.2 178.0 L561.2 178.4 L564.0 178.0 Z"/>
<path d="M573.1 175.4 L574.1 174.9 L575.9 176.7 L574.1 178.0 L576.1 179.7 L574.1 179.5 L575.1 182.5 L573.8 181.5 L572.8 178.5 Z"/>
<path d="M574.1 188.1 L577.9 187.6 L581.2 189.1 L579.2 189.3 L576.1 189.1 L574.1 189.1 Z"/>
<path d="M569.1 188.6 L570.8 188.2 L572.1 189.1 L570.8 190.2 L569.3 189.6 Z"/>
<path d="M527.8 176.5 L529.4 178.2 L531.2 178.0 L534.2 176.7 L538.8 176.8 L540.8 175.7 L541.3 173.7 L542.5 172.9 L543.0 169.6 L547.8 169.9 L547.8 172.2 L548.6 174.9 L551.4 178.1 L548.3 178.5 L547.6 182.0 L545.9 183.7 L544.8 185.6 L544.3 188.8 L543.5 189.6 L540.4 191.0 L537.5 189.1 L536.2 188.6 L533.2 188.1 L529.3 188.1 L528.5 185.2 L526.9 182.8 L526.4 179.7 L526.0 178.2 Z"/>
<path d="M582.3 182.8 L585.5 181.4 L586.7 181.5 L589.5 182.6 L590.0 185.6 L589.8 186.8 L591.3 188.8 L593.0 189.0 L595.1 186.3 L596.8 185.0 L601.2 185.2 L606.2 186.9 L606.9 187.1 L606.9 203.6 L605.4 202.0 L601.9 201.0 L598.6 201.8 L600.9 198.2 L601.4 197.7 L599.6 194.5 L596.3 192.8 L591.8 191.6 L588.5 189.7 L586.2 190.6 L585.0 188.0 L584.2 187.6 L587.2 186.7 L588.7 186.3 L585.5 186.1 L584.2 185.6 L581.7 184.0 Z"/>
<path d="M563.0 206.4 L564.0 204.1 L566.5 203.1 L566.8 204.3 L565.0 206.3 Z"/>
<path d="M591.8 195.9 L591.4 194.3 L590.5 193.6 L589.6 194.3 L589.2 195.9 L589.6 197.5 L590.5 198.2 L591.4 197.5 Z"/>
<path d="M583.9 199.7 L583.7 198.4 L582.9 197.8 L582.2 198.4 L581.9 199.7 L582.2 201.1 L582.9 201.7 L583.7 201.1 Z"/>
<path d="M586.9 194.7 L586.7 193.6 L586.2 193.1 L585.8 193.6 L585.6 194.7 L585.8 195.7 L586.2 196.2 L586.7 195.7 Z"/>
<path d="M595.9 183.0 L595.5 182.5 L594.3 182.3 L593.1 182.5 L592.7 183.0 L593.1 183.6 L594.3 183.8 L595.5 183.6 Z"/>
<path d="M597.3 184.9 L596.7 184.6 L595.1 184.4 L593.5 184.6 L592.8 184.9 L593.5 185.3 L595.1 185.4 L596.7 185.3 Z"/>
<path d="M582.9 181.0 L582.4 180.6 L581.2 180.4 L579.9 180.6 L579.4 181.0 L579.9 181.5 L581.2 181.6 L582.4 181.5 Z"/>
<path d="M580.9 185.3 L580.5 184.9 L579.4 184.7 L578.3 184.9 L577.9 185.3 L578.3 185.7 L579.4 185.9 L580.5 185.7 Z"/>
<path d="M574.9 184.3 L574.4 183.8 L573.3 183.7 L572.3 183.8 L571.8 184.3 L572.3 184.7 L573.3 184.9 L574.4 184.7 Z"/>
<path d="M569.6 185.2 L568.9 184.8 L567.3 184.7 L565.7 184.8 L565.0 185.2 L565.7 185.5 L567.3 185.7 L568.9 185.5 Z"/>
<path d="M575.9 174.7 L575.6 173.9 L575.1 173.6 L574.6 173.9 L574.4 174.7 L574.6 175.5 L575.1 175.8 L575.6 175.5 Z"/>
<path d="M571.8 200.0 L571.2 199.6 L569.8 199.4 L568.4 199.6 L567.8 200.0 L568.4 200.5 L569.8 200.6 L571.2 200.5 Z"/>
<path d="M567.3 201.4 L566.8 201.0 L565.8 200.9 L564.7 201.0 L564.3 201.4 L564.7 201.8 L565.8 201.9 L566.8 201.8 Z"/>
<path d="M562.2 193.1 L561.9 191.9 L561.2 191.4 L560.5 191.9 L560.2 193.1 L560.5 194.4 L561.2 194.9 L561.9 194.4 Z"/>
<path d="M563.6 184.0 L563.1 183.6 L562.0 183.4 L560.8 183.6 L560.3 184.0 L560.8 184.5 L562.0 184.7 L563.1 184.5 Z"/>
<path d="M571.6 169.9 L571.4 169.2 L571.1 168.9 L570.7 169.2 L570.6 169.9 L570.7 170.6 L571.1 170.9 L571.4 170.6 Z"/>
<path d="M568.2 171.7 L568.1 171.1 L567.8 170.9 L567.5 171.1 L567.4 171.7 L567.5 172.2 L567.8 172.4 L568.1 172.2 Z"/>
<path d="M579.9 200.8 L579.6 200.4 L578.9 200.3 L578.2 200.4 L577.9 200.8 L578.2 201.1 L578.9 201.3 L579.6 201.1 Z"/>
<path d="M600.9 200.8 L600.4 199.9 L599.4 199.5 L598.3 199.9 L597.8 200.8 L598.3 201.7 L599.4 202.0 L600.4 201.7 Z"/>
<path d="M573.7 182.0 L573.5 181.2 L573.1 180.9 L572.6 181.2 L572.5 182.0 L572.6 182.8 L573.1 183.2 L573.5 182.8 Z"/>
<path d="M563.5 201.7 L563.3 201.3 L562.7 201.2 L562.2 201.3 L562.0 201.7 L562.2 202.0 L562.7 202.1 L563.3 202.0 Z"/>
</g>
<g stroke="#5f7f5f" stroke-width="0.9" stroke-linejoin="round">
<path d="M368.3 40.5 L369.1 37.0 L370.8 32.7 L373.9 34.7 L373.1 31.9 L379.2 27.5 L380.7 28.3 L385.7 28.3 L388.8 30.3 L391.5 31.9 L393.6 30.3 L398.9 30.3 L402.1 31.1 L405.9 31.1 L402.4 26.7 L404.9 22.5 L405.4 20.0 L406.2 18.3 L415.5 16.6 L423.1 13.7 L425.1 11.7 L429.7 12.2 L430.7 16.6 L436.2 18.3 L437.2 17.6 L444.1 17.0 L445.1 18.3 L447.6 20.8 L452.9 31.1 L456.4 31.1 L461.5 30.3 L466.0 33.9 L466.3 35.8 L471.3 37.8 L467.5 40.5 L467.3 44.2 L466.8 45.5 L460.5 45.0 L458.7 51.2 L459.5 52.3 L453.4 53.0 L452.6 53.3 L454.9 59.3 L453.4 62.8 L450.4 60.7 L442.0 60.7 L438.3 59.3 L436.5 61.7 L430.2 61.7 L429.9 62.4 L428.4 63.8 L425.1 65.8 L423.1 66.8 L424.1 67.8 L419.1 66.1 L417.6 62.1 L417.8 60.0 L414.8 57.6 L407.5 58.3 L405.2 55.5 L398.9 50.8 L392.3 53.0 L392.3 65.8 L390.8 65.8 L389.3 63.4 L384.7 62.4 L383.2 64.3 L383.5 61.7 L380.2 57.8 L377.9 55.5 L379.7 54.4 L380.4 52.3 L384.7 51.9 L385.2 47.6 L382.2 45.7 L379.7 45.7 L375.9 47.2 L374.6 48.3 L373.4 47.2 L372.1 43.1 L370.3 42.7 L369.8 40.8 Z" fill="#a6d99b"/>
<path d="M392.3 53.0 L398.9 50.8 L405.2 55.5 L407.5 58.3 L414.8 57.6 L417.8 60.0 L417.6 62.1 L419.1 66.1 L422.9 67.1 L424.1 68.1 L425.1 65.8 L428.4 63.8 L429.9 62.4 L430.7 63.1 L429.2 65.1 L431.9 65.1 L435.5 67.3 L431.9 69.5 L429.2 69.5 L428.7 66.8 L425.1 69.5 L424.1 69.5 L422.6 71.4 L421.1 72.4 L423.6 76.0 L422.1 79.2 L418.8 78.7 L419.1 76.6 L416.5 75.7 L413.0 73.4 L408.7 70.1 L407.2 66.5 L402.7 64.1 L402.4 62.8 L398.9 60.7 L394.8 65.8 L392.3 65.8 Z" fill="#8fcb88"/>
<path d="M425.8 70.5 L429.2 69.5 L431.9 69.5 L435.5 67.3 L431.9 65.1 L429.2 65.1 L430.7 63.1 L429.9 62.4 L430.2 61.7 L436.5 61.7 L438.3 59.3 L442.0 60.7 L450.4 60.7 L453.4 62.8 L448.9 65.5 L445.1 66.8 L442.8 68.8 L439.8 68.6 L437.2 70.8 L436.9 71.9 L432.7 72.3 L429.4 72.1 L425.9 71.8 Z" fill="#b4e1aa"/>
<path d="M351.9 58.6 L358.0 59.3 L361.5 61.4 L363.5 60.9 L366.3 61.7 L368.1 63.8 L368.2 66.6 L364.5 66.0 L360.7 66.5 L358.2 65.3 L355.8 65.1 L356.1 62.9 L354.4 60.0 Z" fill="#b9e3b0"/>
<path d="M364.5 66.0 L368.2 66.6 L368.1 63.8 L370.3 65.5 L373.6 63.9 L374.6 65.8 L378.2 68.8 L375.6 72.1 L374.4 75.3 L372.1 74.0 L372.1 71.1 L368.3 73.7 L368.3 71.8 L366.0 71.6 L367.1 69.5 L364.5 66.8 Z" fill="#b9e3b0"/>
<path d="M300.6 48.7 L302.1 49.0 L303.9 51.9 L305.2 52.3 L307.7 54.1 L308.2 55.8 L307.5 56.9 L309.0 59.3 L307.5 62.4 L305.9 62.4 L302.9 63.9 L301.4 61.0 L302.3 60.7 L299.4 58.3 L300.4 56.5 L299.1 55.5 L299.9 53.3 L298.9 53.3 L299.0 51.2 L298.5 49.8 Z" fill="#a9db9e"/>
<path d="M229.0 108.8 L229.0 104.8 L237.0 101.3 L241.8 98.4 L243.3 96.0 L247.9 94.8 L246.6 91.2 L246.6 87.6 L245.3 85.7 L249.3 83.9 L251.2 82.6 L254.2 81.2 L258.6 80.4 L263.8 80.6 L266.8 79.5 L270.5 80.1 L272.6 80.0 L271.9 83.0 L271.6 87.0 L269.8 89.4 L272.1 93.6 L273.8 94.8 L275.0 100.3 L275.9 103.9 L275.8 111.1 L274.6 112.2 L276.2 115.8 L280.1 117.2 L281.1 119.4 L269.7 126.7 L265.5 130.4 L261.6 131.2 L259.0 129.7 L255.4 128.1 L253.8 126.0 L238.8 115.3 Z" fill="#b7e2ad"/>
<path d="M314.0 96.3 L319.1 97.2 L324.1 98.4 L326.7 97.2 L329.2 96.3 L332.5 97.2 L334.2 97.8 L337.3 97.2 L339.0 102.5 L338.4 104.2 L337.8 106.8 L337.4 107.6 L335.7 106.2 L334.7 105.4 L333.5 102.5 L333.1 101.2 L332.7 102.2 L334.7 106.8 L336.2 109.1 L336.8 110.8 L339.0 115.3 L340.5 118.0 L340.8 120.8 L344.1 123.5 L314.0 123.5 Z" fill="#8ecb86"/>
<path d="M348.9 91.1 L354.4 87.9 L354.9 83.0 L355.2 81.7 L357.8 79.5 L364.0 79.3 L365.5 83.0 L367.1 83.9 L366.0 87.3 L365.5 89.1 L367.3 91.8 L371.6 94.8 L371.3 98.1 L372.1 99.6 L373.5 101.2 L372.0 101.0 L371.3 100.7 L369.8 101.2 L368.4 103.6 L363.8 103.4 L357.2 97.8 L352.9 95.3 L349.9 94.7 Z" fill="#b9e3b0"/>
<path d="M339.1 102.9 L341.9 103.4 L343.1 102.5 L345.6 101.0 L346.9 99.6 L344.3 96.6 L349.4 94.7 L349.9 94.7 L352.9 95.3 L357.2 97.8 L363.8 103.4 L368.1 103.6 L368.4 103.6 L370.7 103.9 L371.3 105.2 L373.1 105.2 L374.1 107.7 L376.3 109.7 L377.5 110.6 L377.4 111.9 L377.7 113.5 L378.9 116.1 L379.2 116.0 L380.2 116.4 L380.7 116.4 L381.2 117.8 L383.7 120.9 L390.2 121.6 L391.4 123.5 L389.8 128.9 L382.2 131.6 L374.9 132.7 L372.6 133.9 L369.6 137.1 L368.9 136.1 L365.5 136.1 L365.0 135.7 L360.5 135.5 L360.0 137.9 L359.0 138.5 L358.3 137.2 L354.7 131.4 L352.7 128.7 L349.9 124.9 L349.4 121.3 L347.0 117.8 L344.8 115.3 L342.9 111.9 L341.0 108.7 L339.8 106.7 L338.3 106.8 L338.8 105.4 Z" fill="#4b8462"/>
<path d="M257.7 164.3 L257.8 157.7 L260.0 154.6 L260.0 150.8 L261.0 147.6 L261.3 146.1 L264.8 145.2 L268.6 147.4 L273.6 147.8 L276.2 146.7 L282.5 147.1 L285.2 145.6 L286.8 148.9 L287.8 150.0 L285.7 152.6 L284.2 156.1 L283.2 158.2 L281.2 161.5 L279.4 163.8 L277.7 162.7 L275.6 163.3 L273.1 165.8 L272.4 168.5 L271.9 169.1 L268.8 169.4 L266.3 169.6 L264.5 167.4 L262.3 164.8 L259.5 164.3 Z" fill="#93cc8b"/>
<path d="M278.9 190.5 L280.7 192.1 L281.2 193.1 L283.7 192.1 L287.3 192.9 L289.5 191.4 L291.8 185.6 L295.6 181.8 L296.6 174.4 L297.9 171.7 L295.1 171.3 L292.8 171.7 L291.8 174.9 L290.8 176.1 L287.5 175.1 L284.5 174.9 L284.2 177.3 L286.8 177.1 L287.5 178.5 L286.0 180.5 L287.3 181.8 L287.5 183.0 L287.3 185.6 L286.5 186.6 L282.5 186.3 L282.5 185.3 L280.2 186.6 L280.9 189.1 Z" fill="#b9e3b0"/>
<path d="M281.7 195.0 L283.7 192.1 L287.3 192.9 L289.5 191.4 L291.8 185.6 L295.6 181.8 L296.6 174.4 L297.9 171.7 L297.9 169.5 L300.1 167.6 L302.7 169.4 L307.5 170.1 L308.7 168.4 L312.5 167.6 L314.8 167.9 L320.1 167.5 L322.6 169.6 L325.4 168.9 L328.8 171.7 L328.5 174.4 L329.9 175.1 L326.5 178.5 L325.6 181.8 L325.6 184.0 L323.9 186.6 L324.3 187.6 L324.8 188.8 L325.0 191.7 L325.5 196.4 L328.5 201.3 L323.9 202.0 L323.1 203.3 L323.2 207.7 L322.5 209.7 L324.1 212.1 L326.1 211.4 L326.1 214.8 L324.1 214.6 L321.6 212.1 L319.6 210.5 L316.6 210.8 L314.8 209.0 L312.5 209.5 L311.4 208.2 L307.0 209.0 L307.2 205.9 L305.9 204.6 L306.2 200.8 L305.9 199.0 L302.7 199.0 L302.2 198.2 L300.1 198.2 L299.9 200.8 L295.3 201.0 L292.8 195.3 L283.7 195.3 L282.1 195.8 Z" fill="#b0dfa6"/>
<path d="M327.9 183.2 L336.5 183.0 L345.8 188.1 L346.1 189.3 L349.9 192.3 L348.9 195.7 L350.1 197.7 L350.6 200.8 L350.4 203.3 L351.9 205.9 L352.9 207.2 L348.1 209.5 L345.6 210.2 L341.3 209.5 L339.1 209.9 L338.3 208.4 L338.0 204.9 L336.8 204.6 L334.0 204.3 L331.7 203.4 L329.2 202.3 L328.5 201.3 L325.5 196.4 L325.0 191.7 L326.7 191.4 L327.7 190.1 L328.7 188.8 L328.8 186.4 Z" fill="#b0dfa6"/>
<path d="M306.5 213.6 L306.5 222.0 L310.0 225.7 L314.7 226.2 L319.1 226.6 L320.6 224.6 L323.9 221.3 L327.7 220.5 L327.7 218.8 L334.7 216.2 L333.5 215.2 L334.2 212.6 L335.0 210.0 L335.0 207.9 L334.2 204.9 L334.0 204.3 L331.7 203.4 L329.2 202.3 L328.5 201.3 L323.9 202.0 L323.1 203.3 L323.2 207.7 L322.5 209.7 L324.1 212.1 L326.1 211.4 L326.1 214.8 L324.1 214.6 L321.6 212.1 L319.6 210.5 L316.6 210.8 L314.8 209.0 L312.5 209.5 L311.4 208.2 L311.5 213.4 Z" fill="#b0dfa6"/>
<path d="M280.7 224.9 L286.2 225.1 L297.4 225.1 L303.9 226.6 L310.0 225.7 L313.8 225.5 L314.7 226.2 L312.5 226.7 L309.7 226.7 L303.9 227.5 L303.9 237.5 L301.4 237.5 L301.4 255.5 L298.9 256.9 L294.8 256.2 L293.8 254.5 L292.6 255.9 L290.3 252.2 L288.8 248.5 L287.5 243.0 L287.5 238.8 L284.7 233.4 L282.5 228.8 Z" fill="#b4e1aa"/>
<path d="M301.4 237.5 L303.9 237.5 L303.9 227.5 L309.7 226.7 L312.5 226.7 L314.7 226.2 L316.0 228.3 L317.1 229.6 L319.8 233.4 L321.6 236.1 L325.1 238.0 L321.6 239.7 L319.1 242.0 L318.8 243.8 L316.3 245.0 L315.3 247.7 L313.3 248.0 L309.0 246.6 L308.0 248.8 L305.7 250.9 L303.2 250.9 L301.4 245.0 Z" fill="#b0dfa6"/>
<path d="M292.6 255.9 L293.8 254.5 L294.8 256.2 L298.9 256.9 L301.4 255.5 L301.4 245.0 L303.2 250.9 L305.7 250.9 L308.0 248.8 L309.0 246.6 L313.3 248.0 L315.3 247.7 L316.3 245.0 L318.8 243.8 L319.1 242.0 L321.6 239.7 L325.1 238.0 L329.9 238.6 L330.6 241.6 L331.7 244.3 L331.6 248.4 L329.9 247.8 L328.7 250.8 L331.4 252.2 L332.0 250.9 L334.0 250.9 L333.5 254.2 L331.7 256.8 L329.2 259.7 L326.7 263.5 L322.9 268.0 L320.3 269.8 L317.8 271.3 L315.8 271.9 L311.5 272.2 L307.7 272.2 L301.4 274.3 L298.4 272.8 L297.4 271.6 L296.4 268.3 L297.1 265.0 L294.6 260.8 Z" fill="#a9db9e"/>
<path d="M45.5 192.3 L48.1 189.1 L48.4 190.6 L47.8 191.7 L50.2 193.1 L51.4 193.1 L52.9 189.1 L54.5 188.1 L57.5 187.1 L60.0 184.4 L61.0 182.9 L60.9 180.8 L64.1 183.0 L65.1 183.8 L66.8 186.6 L69.6 186.1 L73.9 187.3 L74.3 191.1 L72.1 191.1 L66.8 193.6 L66.1 195.8 L64.8 199.0 L64.1 199.5 L66.6 203.3 L68.3 204.6 L68.6 205.9 L72.6 204.6 L72.6 208.4 L75.2 208.3 L77.4 212.3 L76.7 215.4 L76.9 216.7 L75.7 218.3 L76.2 219.6 L75.2 221.4 L76.7 222.0 L75.4 224.9 L75.4 225.4 L73.1 227.6 L70.7 225.8 L67.3 223.0 L63.4 221.0 L61.1 219.7 L58.2 215.8 L56.1 211.2 L55.0 208.7 L52.4 203.6 L51.2 201.0 L49.0 197.8 L46.0 195.2 L46.1 193.4 Z" fill="#a3d79a"/>
<path d="M475.9 124.1 L475.2 120.3 L474.6 118.3 L473.4 116.7 L474.1 114.7 L473.4 113.0 L474.1 110.9 L476.4 112.5 L477.8 112.8 L477.8 114.4 L483.2 114.9 L484.2 115.3 L483.7 116.7 L481.2 117.8 L481.2 119.1 L481.7 120.5 L482.9 119.1 L484.1 120.3 L484.7 123.8 L484.0 126.8 L483.2 125.2 L482.7 122.7 L481.4 121.9 L480.2 122.2 L478.9 123.8 Z" fill="#a6d99b"/>
<path d="M503.7 128.0 L500.9 129.2 L498.4 129.7 L496.8 133.0 L497.7 135.3 L500.6 138.8 L499.9 139.3 L498.9 142.2 L501.1 147.4 L501.9 151.0 L500.4 153.6 L499.7 155.1 L499.1 160.5 L500.6 160.2 L502.1 162.0 L503.4 164.1 L503.7 164.2 L505.5 164.7 L506.2 166.1 L507.9 165.8 L508.7 164.7 L507.9 164.3 L506.7 163.0 L504.9 162.3 L503.7 159.2 L503.1 156.9 L501.4 153.8 L502.9 150.5 L503.3 148.4 L503.4 146.9 L504.9 146.1 L505.7 147.6 L505.7 148.4 L506.7 148.3 L508.7 148.9 L510.7 150.8 L510.2 148.4 L509.7 145.8 L511.0 144.1 L515.5 143.8 L516.5 144.0 L517.3 140.4 L515.4 138.2 L515.3 135.6 L513.5 133.5 L511.7 133.2 L510.2 134.5 L508.2 134.5 L506.4 135.6 L505.7 135.3 L506.4 130.3 L504.7 130.3 L504.7 128.5 Z" fill="#b9e3b0"/>
<path d="M503.7 128.0 L504.9 126.0 L506.3 124.8 L507.8 125.8 L507.9 122.3 L508.8 122.3 L510.7 124.3 L511.5 126.7 L515.0 127.2 L514.5 127.9 L515.9 128.9 L513.2 130.8 L516.5 132.6 L516.3 133.2 L519.8 137.1 L520.3 138.4 L522.2 139.4 L522.6 141.4 L522.5 143.0 L520.6 144.0 L518.6 143.9 L516.5 144.0 L517.3 140.4 L515.4 138.2 L515.3 135.6 L513.5 133.5 L511.7 133.2 L510.2 134.5 L508.2 134.5 L506.4 135.6 L505.7 135.3 L506.4 130.3 L504.7 130.3 L504.7 128.5 Z" fill="#8fca86"/>
<path d="M453.5 155.6 L455.9 158.8 L457.2 161.0 L457.6 162.8 L455.7 165.1 L454.4 165.5 L453.4 165.2 L452.5 162.9 L452.3 160.2 L452.8 157.7 L452.9 155.9 Z" fill="#b9e3b0"/>
<path d="M503.7 164.2 L505.5 164.7 L506.2 166.1 L507.9 165.8 L508.7 164.7 L509.0 164.8 L511.2 167.1 L512.0 170.9 L514.0 174.7 L514.3 177.0 L512.2 177.2 L509.1 174.9 L506.7 172.9 L504.9 169.9 L504.2 166.8 Z" fill="#a6d99b"/>
</g>
<path d="M319.1 258.8 L321.6 256.2 L323.4 255.9 L325.1 258.2 L324.6 259.7 L322.1 261.7 L320.1 260.8 Z" fill="#eaeaea" stroke="#5f7f5f" stroke-width="0.7"/>
<rect x="407.0" y="138.0" width="152.0" height="71.0" fill="#ffffff"/>
<defs><linearGradient id="g1" x1="0" x2="1" y1="0" y2="0"><stop offset="0" stop-color="#b3e0a6"/><stop offset="0.5" stop-color="#5fa55a"/><stop offset="1" stop-color="#24693d"/></linearGradient></defs>
<text x="415.6" y="150.7" font-size="12" fill="#2e2e2e" stroke="#2e2e2e" stroke-width="0.45" letter-spacing="0.33">Million USD</text>
<rect x="430.5" y="161.0" width="87.0" height="15.5" fill="url(#g1)" stroke="#b3a89a" stroke-width="1"/>
<text x="426.5" y="173.2" font-size="12" fill="#333333" text-anchor="end">7</text>
<text x="521.4" y="173.2" font-size="12" fill="#333333" letter-spacing="0.417">7,043</text>
<rect x="3" y="275" width="132" height="11" fill="#ffffff" fill-opacity="0.7"/>
<text x="5" y="285" font-size="8" fill="#555555">© 2026 Mapbox © OpenStreetMap</text>
</svg></div>
<div class="map" style="top:494px"><svg width="655" height="288" viewBox="0 0 655 288" font-family="'Liberation Sans', Arial, sans-serif">
<rect width="655" height="288" fill="#ffffff"/>
<g fill="#eaeaea" stroke="#eaeaea" stroke-width="0.6" stroke-linejoin="round">
<path d="M88.3 107.6 L98.4 109.6 L100.8 110.5 L106.0 108.0 L108.5 106.3 L112.6 104.4 L118.5 103.4 L125.4 103.6 L129.5 102.1 L134.4 103.0 L137.2 102.7 L141.3 101.3 L145.3 102.5 L143.7 106.7 L145.3 110.9 L142.3 113.8 L145.7 118.2 L150.4 119.8 L152.8 119.4 L159.5 121.8 L161.2 125.4 L167.3 127.4 L172.4 129.7 L175.7 127.0 L176.1 123.0 L180.8 119.4 L186.2 120.6 L192.6 124.6 L199.4 125.8 L206.1 127.4 L209.5 125.8 L212.9 124.6 L217.3 125.8 L218.1 131.1 L217.6 132.5 L220.3 138.6 L222.3 141.7 L223.0 144.0 L226.1 150.0 L228.1 153.7 L228.4 157.4 L232.8 161.0 L233.8 164.6 L233.8 169.7 L236.5 174.0 L238.6 175.4 L239.9 180.7 L241.6 183.9 L245.0 186.7 L249.0 190.8 L252.4 193.3 L254.4 195.0 L254.1 197.8 L255.1 198.8 L257.8 201.9 L260.2 201.9 L266.9 199.5 L273.7 198.8 L279.8 196.7 L281.4 197.1 L280.8 201.5 L279.8 205.0 L277.0 210.1 L273.7 215.2 L270.3 221.6 L265.2 227.1 L261.2 230.4 L256.8 233.8 L252.1 238.2 L248.7 242.9 L244.0 246.3 L242.3 250.7 L240.6 252.9 L239.2 257.5 L240.9 260.2 L241.6 264.3 L241.3 267.7 L243.3 271.1 L244.6 272.9 L245.3 278.0 L245.3 285.0 L246.0 288.4 L243.3 293.0 L236.5 296.5 L232.8 299.0 L228.1 304.4 L225.7 305.8 L225.4 308.3 L227.4 311.6 L228.1 317.0 L228.1 320.7 L224.7 323.7 L219.6 325.6 L218.3 328.2 L219.3 331.4 L218.6 335.8 L216.3 339.2 L212.9 343.1 L209.5 348.2 L204.4 354.2 L201.1 356.6 L197.7 358.6 L195.0 359.4 L189.2 359.8 L184.2 359.8 L175.7 362.7 L171.7 360.6 L170.3 359.0 L169.0 354.6 L170.0 350.2 L166.6 344.7 L163.9 338.1 L160.9 333.1 L158.9 328.2 L157.2 320.7 L157.2 315.2 L153.5 308.0 L150.4 301.9 L148.0 296.5 L148.0 291.9 L149.4 288.4 L150.4 283.2 L153.8 279.4 L154.8 274.6 L153.5 270.5 L152.8 267.0 L151.4 260.9 L149.7 257.7 L149.4 256.7 L148.7 254.1 L148.0 252.8 L145.7 250.5 L141.3 245.6 L139.6 242.3 L137.9 239.6 L139.9 236.2 L140.6 233.8 L141.3 229.4 L141.6 226.4 L140.6 224.0 L138.3 222.0 L136.9 221.1 L136.2 222.0 L132.2 222.3 L128.8 222.7 L126.4 219.6 L123.4 216.2 L119.7 215.5 L117.3 215.5 L112.3 216.6 L108.2 217.9 L104.8 219.6 L101.4 221.0 L97.7 220.0 L94.7 219.3 L89.6 220.0 L82.9 222.3 L77.8 220.3 L71.7 215.9 L69.4 213.8 L66.0 211.8 L63.6 208.7 L63.3 205.7 L61.9 205.0 L58.6 201.2 L57.5 199.8 L54.2 196.4 L51.8 195.0 L51.5 191.5 L50.8 188.1 L49.1 187.0 L51.5 184.2 L52.5 182.5 L53.2 177.2 L54.2 175.0 L53.5 171.1 L52.5 170.4 L53.2 167.5 L50.6 165.4 L50.8 163.2 L51.1 161.0 L54.5 154.8 L57.5 151.1 L58.2 147.7 L59.2 145.5 L62.6 142.4 L63.6 139.8 L64.6 138.8 L69.4 137.5 L73.8 134.0 L75.4 130.9 L75.8 129.4 L75.1 125.4 L76.8 121.0 L79.5 117.8 L82.5 116.6 L85.2 115.0 L86.9 110.5 Z"/>
<path d="M274.7 278.0 L277.7 285.0 L278.7 290.2 L276.4 291.9 L275.0 297.2 L273.0 306.2 L270.0 315.2 L267.3 324.1 L261.9 326.7 L256.8 324.4 L254.4 315.2 L257.8 308.0 L258.5 304.4 L256.8 297.2 L259.8 292.7 L264.6 290.9 L269.6 287.0 L270.3 283.2 L273.0 279.8 Z"/>
<path d="M124.7 -28.0 L125.1 -17.6 L126.1 -12.9 L127.1 -10.3 L130.2 -5.1 L132.2 -4.5 L136.2 -5.8 L140.3 -10.3 L143.0 -12.3 L144.0 -12.9 L145.7 -11.0 L146.4 -6.4 L148.4 -2.6 L150.4 3.0 L151.1 6.7 L151.8 10.3 L152.8 11.8 L156.5 11.5 L156.5 7.9 L161.6 7.3 L163.6 3.6 L164.3 -1.3 L164.9 -7.7 L168.6 -10.3 L171.3 -14.9 L172.0 -28.0 Z"/>
<path d="M145.3 10.3 L146.4 12.7 L149.1 14.5 L150.4 12.1 L150.8 7.9 L148.0 8.2 Z"/>
<path d="M169.3 1.2 L170.3 2.4 L172.0 -0.7 L172.4 -3.9 L170.3 -3.2 Z"/>
<path d="M202.8 -28.0 L202.8 -14.3 L196.0 -14.9 L191.6 -13.9 L187.6 -12.3 L187.6 -9.0 L187.9 -7.1 L190.9 -6.4 L190.3 -3.2 L189.6 1.2 L186.5 1.8 L184.5 -2.0 L181.5 -1.3 L179.1 3.0 L179.1 7.9 L179.5 9.7 L177.4 13.9 L175.4 15.6 L174.4 17.4 L171.3 17.4 L170.3 15.0 L165.6 15.6 L162.2 18.5 L156.5 20.3 L154.8 19.1 L153.5 16.2 L150.4 17.4 L149.1 18.8 L145.3 19.7 L145.0 17.4 L142.0 16.8 L141.6 15.0 L141.0 12.1 L142.0 10.3 L143.0 6.7 L145.0 5.5 L143.0 3.6 L143.7 -1.3 L144.0 -2.8 L141.6 -2.0 L137.2 1.2 L135.6 4.3 L135.6 10.3 L137.2 12.7 L137.6 14.5 L138.3 18.0 L137.9 20.3 L136.9 22.0 L135.2 22.0 L132.5 22.0 L131.8 23.7 L128.5 23.1 L125.1 23.7 L124.4 25.9 L123.4 29.3 L121.7 31.5 L120.0 33.6 L119.3 34.5 L116.6 35.8 L114.4 36.6 L113.6 40.6 L112.3 41.6 L108.9 43.2 L108.5 44.3 L104.5 44.8 L103.8 43.2 L101.8 43.2 L102.8 48.4 L98.7 48.9 L95.0 48.4 L92.0 49.9 L93.3 52.4 L96.7 53.5 L99.8 55.5 L101.1 55.9 L101.4 58.9 L104.1 60.9 L104.5 64.3 L104.1 68.6 L103.1 73.7 L102.1 74.2 L98.1 74.2 L95.4 73.7 L89.0 73.3 L84.6 73.3 L81.2 72.6 L77.1 75.6 L78.1 80.2 L78.8 84.5 L78.1 88.7 L76.5 92.2 L76.1 95.0 L77.1 96.6 L78.5 98.7 L78.0 102.5 L81.5 102.5 L83.2 101.7 L86.6 103.4 L86.9 104.6 L89.3 106.7 L90.3 105.9 L93.3 103.8 L98.1 103.6 L100.8 103.6 L102.8 100.8 L105.8 100.0 L106.5 97.0 L108.9 95.0 L107.2 91.8 L111.2 86.5 L112.3 84.7 L115.6 83.3 L119.0 81.1 L119.3 79.3 L118.3 76.1 L120.0 74.7 L122.0 73.7 L125.1 74.2 L126.4 74.7 L129.1 75.6 L132.9 72.8 L135.9 71.4 L138.3 69.5 L141.3 71.2 L143.0 73.7 L143.7 76.5 L145.7 78.8 L148.0 80.2 L149.7 82.0 L152.1 84.2 L154.1 84.2 L156.2 86.0 L158.9 88.7 L161.2 90.0 L162.2 94.0 L162.9 95.3 L161.2 98.3 L162.6 98.7 L164.3 96.6 L165.9 94.0 L163.9 90.9 L165.3 87.8 L166.3 87.4 L169.0 89.6 L170.3 90.5 L170.7 88.9 L169.0 86.7 L165.3 84.7 L162.2 82.9 L162.9 81.1 L159.9 81.1 L157.8 80.2 L155.5 77.4 L153.8 73.3 L150.8 71.4 L149.7 69.0 L150.1 65.7 L149.7 64.7 L152.4 63.3 L154.5 63.5 L153.8 64.3 L154.1 67.1 L155.0 67.4 L156.8 65.2 L158.5 66.7 L159.5 70.5 L163.6 73.7 L167.3 76.1 L169.3 77.7 L170.7 78.8 L172.7 80.6 L173.7 81.5 L174.1 83.8 L173.4 86.9 L175.7 90.9 L178.1 94.0 L179.5 97.0 L181.5 97.4 L185.2 98.3 L180.1 100.0 L181.5 103.4 L184.2 105.1 L186.2 104.6 L185.5 100.8 L185.9 98.7 L188.2 98.7 L189.2 99.8 L189.2 97.4 L186.9 95.3 L185.5 92.7 L184.9 89.6 L184.5 87.4 L185.5 86.9 L187.2 88.7 L188.9 89.6 L189.2 86.5 L190.6 85.6 L195.7 86.0 L196.2 86.9 L196.7 89.4 L196.3 91.8 L198.7 94.0 L199.0 96.6 L197.0 97.0 L200.1 98.7 L200.4 102.5 L203.4 103.8 L206.5 104.2 L208.2 105.9 L210.9 105.5 L211.9 103.0 L216.3 104.6 L219.6 106.3 L223.0 105.5 L225.0 103.4 L227.4 104.2 L229.8 103.0 L230.4 104.2 L229.4 105.5 L229.4 110.1 L229.4 112.5 L228.1 115.4 L226.7 118.6 L226.4 119.8 L225.6 123.0 L224.0 125.8 L222.3 126.6 L219.6 126.6 L217.6 126.2 L218.1 131.1 L218.6 132.9 L220.3 136.7 L221.7 137.9 L223.9 139.7 L224.4 138.6 L225.2 135.2 L226.2 132.9 L225.7 136.7 L225.0 138.6 L227.1 138.4 L228.8 141.1 L231.3 145.5 L233.8 150.0 L236.7 153.3 L239.9 158.1 L240.6 162.8 L244.3 167.9 L247.0 171.5 L251.9 179.3 L252.7 181.0 L253.2 186.7 L254.3 191.9 L254.9 194.1 L260.2 193.6 L265.2 191.5 L270.3 189.4 L274.0 187.7 L278.7 186.0 L284.5 183.9 L284.5 181.7 L287.5 180.2 L290.9 178.9 L294.9 177.2 L298.3 175.7 L300.7 175.4 L303.4 171.8 L303.1 169.3 L303.4 167.5 L305.8 166.8 L306.8 165.7 L308.5 163.2 L310.1 159.2 L309.1 158.8 L306.1 155.1 L299.8 152.4 L298.5 150.1 L298.5 147.7 L298.7 144.9 L297.1 147.0 L294.9 149.0 L291.9 152.0 L285.8 152.9 L282.5 152.7 L282.5 150.0 L282.5 146.6 L281.3 145.7 L279.9 147.7 L279.6 150.0 L279.4 151.1 L277.7 147.5 L277.4 145.5 L277.6 143.8 L275.9 142.4 L273.0 139.8 L271.6 136.5 L270.3 133.4 L269.6 133.2 L271.0 131.3 L272.2 131.1 L274.3 129.0 L277.6 130.7 L279.9 135.0 L282.1 139.2 L285.8 140.9 L293.6 144.1 L298.3 141.7 L300.4 142.4 L301.0 146.2 L303.4 147.5 L307.4 148.5 L312.8 148.8 L318.6 149.4 L322.6 149.0 L326.4 149.2 L331.1 148.5 L334.5 150.7 L336.1 154.0 L338.5 154.8 L339.5 156.6 L341.2 159.6 L341.0 160.1 L343.2 162.3 L348.0 165.7 L351.7 163.9 L352.0 161.9 L353.4 159.9 L353.7 164.3 L354.0 171.8 L355.7 178.9 L357.4 184.2 L360.8 193.3 L364.2 199.0 L365.7 203.4 L367.9 208.4 L370.1 209.8 L372.1 207.4 L376.0 205.7 L377.9 202.2 L377.9 196.7 L379.4 192.6 L378.7 187.7 L379.4 184.9 L382.2 181.7 L386.0 179.1 L389.5 176.5 L394.9 170.9 L397.9 169.0 L401.0 167.2 L402.0 162.8 L405.4 162.5 L409.1 161.7 L413.1 161.4 L414.8 159.2 L416.5 158.8 L418.2 159.9 L418.9 163.2 L419.9 165.4 L421.9 167.7 L424.3 170.8 L426.3 173.6 L427.0 177.2 L426.3 182.5 L430.0 183.2 L433.1 180.7 L435.8 178.9 L437.8 180.7 L438.5 185.3 L439.5 189.4 L441.2 195.0 L441.0 203.3 L440.2 210.4 L442.2 210.1 L444.2 212.5 L445.9 215.2 L446.9 218.9 L447.9 223.0 L450.3 227.1 L453.5 229.8 L457.7 232.8 L460.4 232.5 L460.1 229.4 L457.4 224.4 L456.4 219.3 L453.3 216.2 L452.0 215.5 L450.3 213.8 L447.9 212.8 L446.2 208.7 L445.6 205.7 L443.2 201.5 L445.2 197.1 L445.7 194.3 L445.9 192.2 L447.9 191.2 L448.9 193.3 L448.9 194.3 L450.3 194.1 L453.0 195.0 L455.7 197.4 L456.0 198.4 L457.7 201.2 L460.4 201.4 L461.1 201.9 L463.1 203.3 L461.9 208.0 L464.1 207.4 L466.2 205.7 L468.5 203.6 L469.9 202.1 L473.3 200.2 L477.0 196.7 L477.8 193.3 L477.1 190.1 L476.0 185.6 L473.8 182.1 L471.9 180.3 L468.2 177.2 L465.3 172.9 L465.8 169.0 L468.5 165.4 L472.9 162.8 L476.6 162.8 L478.7 164.6 L479.3 167.2 L481.4 167.2 L481.0 163.9 L485.7 162.5 L491.5 160.3 L493.9 159.9 L496.6 158.5 L502.3 156.1 L507.0 151.8 L509.0 150.3 L512.1 146.2 L514.1 142.4 L516.1 138.6 L518.8 135.2 L519.9 131.7 L516.8 129.0 L519.9 127.0 L519.5 124.2 L516.8 121.0 L514.5 115.0 L511.1 111.7 L511.8 109.2 L514.8 106.5 L518.5 103.4 L521.9 103.0 L522.6 100.8 L520.5 100.4 L518.2 100.2 L516.1 99.1 L514.5 99.6 L510.1 101.7 L509.7 99.6 L510.7 99.1 L506.0 97.0 L505.7 94.0 L512.1 90.0 L516.8 86.0 L520.5 86.9 L518.8 92.7 L517.2 95.0 L519.5 94.2 L523.6 91.3 L528.0 90.0 L531.0 91.8 L531.0 95.3 L529.6 97.8 L531.3 99.6 L535.7 100.6 L534.7 104.2 L535.4 107.2 L534.9 111.9 L535.7 113.8 L539.6 112.1 L544.2 110.5 L545.7 106.7 L545.2 102.5 L543.5 99.3 L542.5 97.4 L538.6 93.3 L539.1 90.5 L541.5 89.1 L544.5 86.5 L546.5 81.5 L548.2 79.7 L549.9 77.9 L553.6 75.6 L557.0 77.0 L560.7 74.7 L565.1 72.8 L569.2 67.6 L569.5 66.4 L574.2 59.4 L582.0 46.8 L583.7 33.6 L583.3 24.5 L585.7 23.7 L581.7 20.3 L577.6 19.1 L572.5 19.7 L570.8 20.8 L574.9 5.2 L581.0 -1.3 L589.4 -12.9 L597.9 -13.6 L611.4 -14.9 L621.5 -11.0 L631.6 -12.9 L638.1 -3.9 L635.0 1.8 L633.7 7.9 L633.7 13.9 L634.3 19.7 L635.0 25.4 L636.4 30.9 L637.4 36.9 L642.8 30.9 L644.1 25.4 L648.5 24.8 L648.5 19.7 L654.9 16.8 L655.6 15.0 L654.6 10.9 L657.3 6.7 L659.7 3.0 L659.7 -2.6 L657.0 -4.5 L660.3 -11.0 L663.7 -28.0 Z"/>
<path d="M98.1 -8.7 L94.7 -2.6 L94.0 -1.3 L101.4 -2.6 L102.1 -0.7 L101.3 0.9 L99.8 4.3 L99.4 6.1 L97.4 7.9 L101.4 9.4 L103.5 13.9 L106.2 16.8 L107.9 19.1 L108.5 22.0 L109.2 25.4 L109.9 25.6 L112.6 25.8 L114.1 28.2 L112.8 31.2 L111.2 33.6 L112.9 34.2 L112.8 35.8 L111.4 36.9 L109.0 37.7 L107.7 37.4 L104.5 37.4 L101.4 38.5 L99.9 39.0 L98.1 37.9 L96.7 38.5 L95.9 40.6 L94.2 39.8 L90.6 41.9 L89.0 41.4 L91.0 39.5 L93.0 36.3 L98.1 35.3 L99.1 33.4 L97.4 33.9 L94.7 33.1 L90.6 32.6 L90.3 31.5 L94.4 28.7 L92.0 26.5 L92.7 23.7 L96.4 23.7 L97.7 23.1 L97.9 20.8 L98.4 19.1 L97.4 19.1 L96.0 16.8 L97.7 14.2 L94.7 15.0 L91.7 15.9 L91.0 13.9 L92.5 11.2 L91.7 8.5 L89.3 12.1 L89.6 7.9 L89.6 5.5 L87.3 3.6 L88.6 1.8 L88.6 -0.7 L90.6 -3.9 L91.3 -8.4 Z"/>
<path d="M83.2 11.5 L87.4 12.7 L89.6 15.9 L89.5 17.7 L87.3 19.7 L87.6 23.4 L87.9 25.4 L86.8 29.8 L84.6 30.1 L80.2 32.0 L75.1 33.9 L72.9 30.4 L75.4 27.6 L77.6 24.0 L73.8 23.1 L74.4 18.0 L79.5 18.0 L80.5 16.2 L78.5 15.6 L80.2 13.0 Z"/>
<path d="M150.2 98.3 L153.5 97.4 L161.1 97.2 L159.2 100.4 L159.9 102.5 L159.2 104.0 L156.3 102.3 L154.1 101.3 L150.1 99.1 Z"/>
<path d="M135.9 85.1 L139.3 84.0 L141.3 87.4 L141.0 89.6 L140.6 93.1 L138.9 93.1 L137.2 94.4 L136.6 91.8 L136.6 88.3 Z"/>
<path d="M139.9 76.1 L140.5 80.2 L139.3 83.3 L137.6 81.1 L137.2 78.8 L139.6 77.4 Z"/>
<path d="M187.6 108.8 L190.9 109.2 L197.0 110.1 L191.9 111.1 L187.6 110.1 Z"/>
<path d="M217.3 110.9 L219.3 110.1 L219.6 109.4 L225.0 108.0 L222.7 110.9 L219.6 112.5 L217.6 111.9 Z"/>
<path d="M116.3 91.6 L118.7 89.8 L120.0 90.9 L118.7 92.7 Z"/>
<path d="M590.1 17.4 L591.8 25.4 L592.1 30.9 L593.1 39.0 L596.9 48.6 L591.4 45.8 L590.8 52.9 L592.5 57.9 L592.5 61.4 L590.1 58.9 L588.1 62.3 L587.4 56.9 L588.1 49.4 L588.1 41.6 L587.4 33.6 L586.7 29.3 L587.4 23.1 L588.7 18.5 Z"/>
<path d="M475.3 170.8 L478.0 168.2 L480.7 167.9 L483.0 169.7 L481.4 172.5 L478.3 174.7 L475.3 173.6 Z"/>
<path d="M379.2 203.8 L382.4 208.2 L384.1 211.1 L384.6 213.5 L382.1 216.6 L380.4 217.2 L379.0 216.8 L377.9 213.7 L377.5 210.1 L378.2 206.7 L378.4 204.3 Z"/>
<path d="M-243.0 -28.0 L-211.6 -28.0 L-209.9 -9.3 L-205.2 1.8 L-195.7 1.8 L-189.0 5.5 L-178.8 12.1 L-169.7 12.7 L-169.4 22.5 L-168.7 25.9 L-165.3 30.9 L-163.6 34.7 L-158.6 33.6 L-158.2 25.4 L-160.3 16.8 L-153.5 10.9 L-150.5 4.9 L-150.5 -1.3 L-155.2 -9.0 L-156.9 -28.0 L-128.2 -28.0 L-126.5 -11.0 L-122.8 -5.1 L-116.4 -9.0 L-111.3 -17.6 L-109.6 -19.7 L-102.9 -4.5 L-100.2 4.9 L-95.1 11.2 L-87.7 16.8 L-84.3 21.4 L-79.6 29.5 L-84.6 34.2 L-91.0 37.7 L-100.5 40.6 L-116.0 40.6 L-121.9 45.8 L-127.2 51.2 L-132.2 57.9 L-128.2 54.5 L-123.1 49.7 L-119.7 47.6 L-108.9 46.8 L-108.6 49.4 L-114.7 51.4 L-111.3 52.9 L-111.0 56.9 L-109.6 60.4 L-103.5 63.3 L-99.1 63.3 L-96.1 56.9 L-93.7 61.8 L-97.8 65.2 L-106.2 68.6 L-113.3 74.2 L-115.2 72.3 L-114.0 68.6 L-109.3 64.7 L-109.6 62.8 L-114.7 65.5 L-118.1 67.6 L-122.1 70.0 L-128.9 73.0 L-130.2 77.7 L-131.6 79.3 L-128.2 80.4 L-128.2 82.0 L-130.6 82.9 L-132.6 83.1 L-135.3 83.8 L-140.7 85.6 L-134.9 84.9 L-141.4 87.2 L-141.7 87.6 L-143.0 92.4 L-144.7 94.2 L-146.8 92.2 L-145.4 96.6 L-148.3 102.1 L-149.5 96.1 L-150.1 101.7 L-148.5 103.0 L-146.8 109.9 L-150.1 112.5 L-154.9 115.0 L-158.2 116.2 L-161.6 120.0 L-165.3 123.0 L-166.7 129.7 L-163.8 136.9 L-162.1 143.2 L-162.5 147.2 L-163.3 149.2 L-165.7 149.4 L-168.0 145.8 L-169.4 143.6 L-171.1 139.4 L-172.3 134.4 L-175.5 130.5 L-178.8 132.3 L-181.2 130.3 L-186.3 129.5 L-189.0 129.4 L-192.4 129.4 L-194.4 130.5 L-193.0 133.6 L-193.7 135.0 L-196.4 134.4 L-200.1 133.6 L-203.5 132.7 L-208.6 132.1 L-211.9 133.6 L-216.0 136.3 L-220.0 139.8 L-220.7 142.4 L-219.9 146.4 L-221.7 151.8 L-222.2 160.1 L-220.4 164.8 L-216.3 171.1 L-212.6 173.3 L-210.6 174.9 L-204.7 173.4 L-201.8 173.1 L-197.6 168.8 L-197.1 165.2 L-194.5 163.6 L-189.5 162.5 L-185.8 162.5 L-184.8 164.1 L-187.1 167.5 L-187.3 170.8 L-189.0 173.6 L-189.7 177.2 L-190.0 180.7 L-191.0 183.5 L-188.8 183.0 L-184.9 183.2 L-182.1 182.5 L-177.2 183.0 L-173.4 185.3 L-172.6 186.0 L-173.4 189.4 L-174.6 196.4 L-174.5 200.0 L-172.1 203.3 L-169.6 205.5 L-165.3 207.4 L-161.6 205.5 L-158.6 204.8 L-154.9 205.7 L-153.0 207.9 L-151.5 210.1 L-151.2 208.0 L-149.5 206.7 L-147.1 205.0 L-146.8 201.9 L-144.4 199.7 L-142.4 199.0 L-138.0 197.9 L-133.8 194.8 L-132.6 197.1 L-134.6 197.8 L-133.6 200.0 L-129.2 198.1 L-128.2 195.7 L-126.5 198.1 L-121.4 201.5 L-117.7 201.2 L-114.9 201.2 L-111.3 202.9 L-110.3 202.7 L-108.6 201.7 L-107.6 201.0 L-100.8 200.9 L-102.9 202.6 L-97.8 204.6 L-95.6 208.0 L-91.0 210.1 L-88.2 214.2 L-86.0 216.1 L-84.3 216.9 L-78.0 217.4 L-74.2 217.4 L-68.4 220.5 L-66.1 222.3 L-64.0 223.7 L-63.7 230.4 L-60.3 231.5 L-60.6 237.2 L-55.2 237.9 L-55.6 242.1 L-51.7 239.2 L-44.8 242.3 L-41.4 245.6 L-33.0 247.0 L-21.8 249.7 L-16.7 253.4 L-11.0 254.6 L-10.7 256.8 L-9.3 261.2 L-9.7 264.5 L-12.4 269.9 L-16.9 274.2 L-21.8 281.5 L-23.5 287.7 L-23.7 293.5 L-24.2 298.1 L-26.0 301.5 L-27.9 307.2 L-30.3 313.4 L-33.6 316.7 L-37.7 316.9 L-42.8 318.1 L-48.2 320.7 L-53.6 324.4 L-55.6 326.3 L-55.6 334.2 L-56.4 337.7 L-59.6 341.0 L-61.7 345.4 L-64.7 349.4 L-67.7 351.6 L-72.1 358.4 L-77.4 363.3 L-81.6 363.1 L-87.2 361.3 L-89.0 360.6 L-84.6 365.4 L-83.3 368.9 L-86.1 376.1 L-90.0 378.5 L-101.5 380.0 L-101.8 384.8 L-102.2 391.5 L-141.7 391.5 L-140.7 387.0 L-139.7 383.9 L-140.5 374.4 L-138.5 371.0 L-136.3 364.8 L-133.6 355.4 L-133.3 351.0 L-132.7 343.3 L-132.2 337.5 L-130.9 332.1 L-129.9 325.9 L-129.5 319.4 L-128.9 313.8 L-128.7 306.9 L-129.2 300.8 L-132.7 297.8 L-137.3 294.1 L-142.5 291.4 L-145.6 289.7 L-149.5 284.4 L-152.3 278.2 L-153.9 274.9 L-157.2 268.1 L-158.9 264.6 L-161.8 260.4 L-165.8 256.8 L-165.7 254.4 L-166.5 253.0 L-163.0 248.7 L-161.6 245.6 L-165.2 244.6 L-164.3 240.4 L-163.6 238.4 L-162.0 234.5 L-160.9 233.8 L-157.9 231.1 L-154.9 228.4 L-152.2 224.0 L-153.7 218.6 L-153.2 216.2 L-154.9 212.8 L-155.7 211.8 L-156.6 209.8 L-155.7 208.7 L-160.3 206.9 L-163.3 210.3 L-162.0 211.9 L-165.0 212.8 L-166.0 211.1 L-170.1 209.1 L-171.8 209.9 L-172.8 208.0 L-174.6 208.6 L-174.5 206.3 L-176.0 205.3 L-178.3 203.4 L-179.2 204.8 L-181.7 202.2 L-181.2 199.7 L-181.9 199.0 L-186.3 194.6 L-187.6 192.9 L-186.9 191.5 L-188.3 191.9 L-190.7 192.2 L-195.2 190.8 L-198.4 189.8 L-202.1 188.4 L-203.8 187.4 L-208.9 182.5 L-213.3 181.9 L-217.7 183.7 L-219.5 183.0 L-229.2 179.5 L-234.7 176.6 L-243.0 173.6 Z"/>
<path d="M-92.1 54.0 L-89.0 49.4 L-87.7 44.3 L-85.6 37.9 L-79.2 33.1 L-80.9 37.9 L-82.6 41.6 L-80.9 43.2 L-77.5 44.3 L-72.8 45.3 L-71.1 48.4 L-70.8 51.9 L-69.8 54.2 L-70.9 58.7 L-74.8 57.7 L-74.2 55.5 L-77.5 57.4 L-80.6 57.7 L-78.9 54.0 L-84.3 54.0 Z"/>
<path d="M-109.6 42.2 L-102.9 43.7 L-100.2 46.3 L-106.2 45.0 Z"/>
<path d="M-109.3 58.4 L-104.6 59.9 L-101.2 59.7 L-102.9 61.8 L-107.3 60.9 Z"/>
<path d="M-178.7 161.6 L-175.5 158.5 L-172.8 157.4 L-170.1 156.8 L-167.4 157.2 L-162.0 157.5 L-160.3 159.2 L-155.2 159.9 L-152.7 162.6 L-148.8 164.3 L-143.4 167.0 L-142.2 167.3 L-145.6 168.6 L-147.8 168.4 L-154.4 168.8 L-152.2 167.0 L-152.5 165.7 L-155.2 165.7 L-157.6 162.5 L-162.0 161.9 L-163.5 160.8 L-166.0 160.6 L-168.7 159.6 L-169.7 158.5 L-174.1 160.1 Z"/>
<path d="M-143.2 174.1 L-143.0 173.1 L-136.1 173.4 L-137.3 170.2 L-139.7 169.0 L-135.6 169.1 L-133.8 168.8 L-130.6 169.0 L-125.3 170.8 L-122.6 173.4 L-124.6 174.0 L-127.9 173.8 L-131.9 174.7 L-132.9 176.8 L-134.1 175.2 L-136.8 174.5 L-140.9 174.7 Z"/>
<path d="M-156.4 174.3 L-151.8 174.0 L-149.1 175.4 L-151.5 175.9 L-154.2 175.9 Z"/>
<path d="M-118.7 173.8 L-113.5 174.1 L-113.7 175.4 L-118.7 175.6 Z"/>
<path d="M-100.8 200.9 L-97.5 200.5 L-97.8 202.9 L-100.8 203.1 Z"/>
<path d="M589.4 273.5 L592.8 279.8 L593.8 286.0 L598.9 290.2 L600.6 295.1 L603.9 303.5 L608.8 306.2 L612.0 310.3 L617.1 315.2 L617.5 318.9 L619.1 320.2 L622.9 323.7 L625.6 324.4 L625.2 333.5 L626.9 338.3 L625.4 344.7 L624.5 349.2 L620.8 355.0 L619.1 358.8 L617.5 363.9 L614.8 371.4 L614.6 374.0 L608.0 375.7 L602.6 380.9 L597.5 376.1 L596.5 377.4 L592.8 379.8 L586.4 377.8 L582.3 375.7 L580.0 371.4 L579.3 367.7 L577.3 365.8 L574.6 366.0 L575.9 363.1 L574.6 360.2 L573.9 361.5 L570.5 364.8 L572.5 359.4 L573.6 353.4 L572.9 355.4 L567.5 361.5 L566.1 363.1 L564.1 359.4 L561.4 354.6 L559.7 351.8 L554.0 351.4 L550.9 349.4 L543.5 350.2 L533.7 352.6 L526.9 355.4 L526.6 357.8 L519.9 358.8 L513.4 359.0 L511.4 361.1 L506.3 363.7 L499.9 362.9 L496.9 360.8 L496.6 357.6 L498.8 356.6 L499.1 351.4 L496.6 344.7 L495.2 338.8 L493.7 334.6 L490.3 328.7 L492.0 324.1 L491.2 318.9 L492.2 315.6 L493.7 312.7 L496.9 312.1 L502.8 308.7 L508.7 307.2 L513.4 305.8 L516.8 304.7 L519.5 300.8 L520.9 298.8 L523.2 293.4 L525.6 296.5 L525.6 293.7 L528.6 290.2 L532.0 286.7 L536.9 284.1 L540.8 288.4 L545.9 288.1 L547.2 283.2 L550.1 279.6 L552.3 278.7 L556.0 278.4 L554.0 275.3 L559.0 277.3 L564.1 278.7 L567.5 278.0 L570.5 279.1 L569.2 282.5 L567.5 283.9 L565.4 287.6 L570.2 291.6 L574.2 294.1 L579.6 297.4 L583.7 297.2 L585.7 291.9 L586.7 288.4 L586.4 283.2 L587.4 280.3 L586.7 278.0 L588.1 274.6 Z"/>
<path d="M478.5 230.2 L480.9 231.8 L484.1 229.4 L489.8 226.4 L493.2 222.3 L496.6 220.3 L500.1 216.9 L502.3 213.5 L507.0 217.4 L510.9 219.6 L506.3 222.8 L505.3 226.0 L506.3 229.8 L510.1 234.0 L506.0 234.5 L505.0 239.2 L502.8 241.4 L501.3 244.0 L500.6 248.4 L499.6 249.4 L495.4 251.2 L491.5 248.7 L489.8 248.0 L485.7 247.3 L480.5 247.3 L479.5 243.4 L477.3 240.2 L476.6 236.2 L476.1 234.2 Z"/>
<path d="M430.0 218.4 L436.3 219.6 L439.1 222.0 L441.5 224.4 L445.4 227.2 L448.6 230.4 L450.8 231.5 L453.7 234.2 L457.4 235.5 L457.6 239.9 L460.8 240.7 L462.4 245.1 L466.3 248.2 L465.8 251.4 L465.7 256.8 L463.8 255.6 L461.3 257.2 L459.1 254.8 L453.5 250.0 L449.6 245.8 L447.1 240.4 L445.2 237.2 L441.8 231.3 L438.5 229.4 L436.4 226.2 L432.7 223.2 Z"/>
<path d="M463.5 260.0 L466.2 257.2 L469.0 257.8 L474.1 258.3 L474.9 259.9 L481.0 260.7 L482.7 258.9 L484.4 259.9 L486.6 260.6 L489.0 261.6 L490.5 263.5 L493.2 263.3 L494.7 263.6 L494.9 266.9 L489.8 265.3 L483.4 265.2 L479.7 264.0 L476.3 263.5 L475.1 263.3 L471.2 263.3 L467.5 262.1 Z"/>
<path d="M494.7 264.8 L497.2 264.5 L498.9 265.7 L497.2 267.2 Z"/>
<path d="M499.4 265.7 L501.3 265.0 L502.3 266.2 L500.9 267.5 L499.4 267.0 Z"/>
<path d="M502.5 265.7 L505.3 264.6 L507.7 265.5 L510.7 265.7 L510.1 266.9 L506.7 267.2 L503.3 268.1 Z"/>
<path d="M512.8 265.7 L516.8 265.7 L522.9 264.6 L523.6 265.7 L520.2 266.9 L515.1 267.2 L512.8 266.9 Z"/>
<path d="M510.1 269.4 L513.4 268.7 L516.1 271.1 L513.4 272.2 L510.1 270.5 Z"/>
<path d="M525.6 271.8 L526.9 268.7 L530.3 266.4 L532.4 266.2 L538.1 265.7 L535.4 267.7 L531.0 269.8 L526.9 272.2 Z"/>
<path d="M529.8 232.1 L531.2 231.8 L528.0 235.8 L523.7 235.5 L516.8 235.7 L515.1 235.5 L513.8 239.9 L516.0 241.9 L518.8 240.1 L522.9 240.4 L525.1 240.2 L521.2 242.6 L518.0 244.0 L520.9 247.3 L522.2 250.5 L523.2 252.1 L519.9 253.6 L518.8 250.9 L516.8 247.3 L516.5 246.2 L514.1 247.3 L514.8 250.7 L514.6 252.6 L514.1 256.0 L511.8 256.1 L511.4 254.6 L512.1 250.7 L509.9 249.2 L509.7 246.2 L511.1 242.3 L512.4 239.4 L512.8 236.5 L516.1 233.7 L518.5 233.5 L521.9 233.8 L523.2 234.3 L526.9 233.8 Z"/>
<path d="M539.1 230.4 L540.5 229.8 L542.8 232.1 L540.5 233.8 L543.2 236.2 L540.5 235.8 L541.8 239.9 L540.1 238.6 L538.8 234.5 Z"/>
<path d="M540.5 247.3 L545.5 246.7 L549.9 248.7 L547.2 249.0 L543.2 248.7 L540.5 248.7 Z"/>
<path d="M533.7 248.0 L536.1 247.5 L537.8 248.7 L536.1 250.2 L534.0 249.4 Z"/>
<path d="M288.2 194.5 L292.2 194.5 L290.6 195.3 Z"/>
</g>
<g fill="#f0f0f0" stroke="#f0f0f0" stroke-width="0.5" stroke-linejoin="round">
<path d="M587.4 64.3 L591.8 69.5 L595.5 71.4 L598.9 70.0 L599.9 74.7 L595.8 76.1 L592.0 80.9 L586.4 77.9 L584.4 79.3 L582.0 79.3 L584.4 82.0 L583.3 81.5 L581.3 83.3 L580.3 79.3 L582.0 74.4 L585.4 75.1 L586.6 71.6 L586.7 65.7 Z"/>
<path d="M585.7 83.3 L586.0 87.4 L587.6 91.1 L586.2 97.0 L584.4 97.4 L584.4 102.5 L583.0 105.5 L583.9 108.0 L582.3 110.1 L580.5 111.3 L580.3 108.4 L579.8 109.6 L578.3 110.1 L577.1 112.5 L575.9 110.9 L574.9 112.5 L570.8 112.5 L570.3 110.9 L570.5 114.0 L566.6 117.2 L564.4 114.2 L565.1 112.5 L564.1 112.3 L560.7 112.9 L555.3 113.8 L550.6 115.2 L551.9 113.3 L556.3 109.2 L558.4 108.6 L561.4 108.6 L564.8 107.8 L566.5 108.8 L567.5 106.7 L569.5 104.2 L571.9 100.4 L571.5 103.4 L574.9 101.7 L577.6 98.5 L579.3 96.1 L580.3 94.4 L580.0 89.8 L581.0 86.9 L582.2 84.0 L583.5 85.8 L584.4 82.9 Z"/>
<path d="M550.2 115.4 L553.1 116.6 L554.0 119.2 L552.1 123.4 L551.8 125.6 L549.4 127.0 L547.9 126.0 L547.9 122.2 L546.7 120.0 L546.2 118.2 L547.2 117.0 L548.6 116.6 Z"/>
<path d="M554.0 117.6 L556.3 115.6 L557.3 114.8 L560.9 113.6 L562.7 114.2 L563.3 115.8 L561.4 118.0 L559.2 117.0 L557.3 120.2 L555.7 119.0 Z"/>
<path d="M518.5 148.8 L520.2 150.0 L518.8 154.0 L518.2 157.4 L516.3 161.4 L514.1 158.8 L513.8 157.4 L514.1 154.4 L516.8 150.0 Z"/>
<path d="M515.5 173.6 L519.0 174.1 L521.2 174.0 L521.9 178.9 L518.7 183.3 L519.2 187.0 L521.2 189.1 L523.4 189.1 L526.9 190.1 L526.1 192.4 L527.3 194.3 L524.6 192.9 L522.2 192.2 L519.2 189.8 L517.0 190.3 L515.5 189.3 L516.6 187.4 L515.1 187.9 L514.3 186.7 L513.1 184.2 L513.1 181.0 L514.3 182.3 L514.5 180.3 L514.8 177.0 Z"/>
<path d="M520.4 213.8 L520.2 210.1 L524.8 208.0 L525.9 209.8 L527.6 209.4 L529.1 208.4 L532.2 206.7 L532.0 203.9 L534.4 206.7 L534.9 209.4 L535.2 210.8 L534.4 213.7 L534.2 216.1 L532.4 213.5 L532.4 215.5 L530.8 216.6 L527.6 216.9 L526.9 214.9 L527.6 212.8 L525.1 210.8 L522.9 212.5 Z"/>
<path d="M528.0 194.6 L531.3 194.5 L532.7 199.1 L530.3 199.8 L530.0 202.6 L529.5 198.8 Z"/>
<path d="M520.2 196.7 L523.9 197.8 L524.2 200.2 L524.6 205.7 L522.2 205.3 L521.5 201.2 L519.9 201.5 L520.2 199.8 Z"/>
<path d="M524.9 203.3 L527.1 199.0 L527.3 201.2 L529.0 202.9 L528.0 204.6 L526.3 204.3 Z"/>
<path d="M504.0 208.7 L506.7 206.0 L510.1 201.9 L511.8 198.4 L511.1 202.2 L508.4 206.0 L505.0 208.7 Z"/>
<path d="M514.5 191.4 L517.5 191.4 L518.5 194.3 L517.2 195.7 L515.5 193.3 Z"/>
<path d="M551.4 240.2 L555.7 238.4 L557.3 238.6 L561.1 240.1 L561.7 244.0 L561.4 245.6 L563.4 248.4 L565.8 248.5 L568.5 245.0 L570.8 243.3 L576.8 243.4 L583.3 245.8 L585.4 246.3 L593.3 249.2 L596.3 250.2 L600.6 254.8 L602.9 256.1 L607.5 259.5 L604.6 260.0 L606.6 263.6 L609.3 266.4 L612.4 267.7 L614.8 271.1 L617.8 271.8 L616.9 273.2 L611.4 272.2 L608.0 271.7 L605.1 269.3 L600.6 264.1 L596.2 262.9 L594.5 263.3 L592.8 266.0 L591.8 267.9 L588.4 268.4 L584.4 268.1 L582.3 266.0 L577.6 264.6 L573.2 265.7 L576.3 260.9 L576.9 260.2 L574.6 256.0 L570.2 253.6 L564.1 252.1 L559.7 249.5 L556.7 250.7 L555.0 247.2 L554.0 246.7 L558.0 245.5 L560.0 245.0 L555.7 244.6 L554.0 244.0 L550.6 241.9 Z"/>
<path d="M609.0 256.5 L614.8 254.1 L619.8 251.4 L622.5 251.7 L621.5 255.5 L616.4 258.2 L611.4 258.2 Z"/>
<path d="M534.2 117.8 L536.7 116.8 L536.4 117.8 Z"/>
</g>
<g fill="#ffffff" stroke="none">
<path d="M206.5 84.2 L202.8 80.6 L201.1 78.4 L202.4 75.1 L205.0 70.5 L208.5 66.7 L212.0 59.7 L214.6 58.9 L216.3 59.4 L219.6 61.4 L221.7 61.4 L218.0 65.0 L221.0 68.8 L222.2 69.5 L223.7 69.0 L227.7 66.7 L231.3 66.2 L231.8 64.7 L227.7 65.2 L226.4 61.4 L225.7 60.9 L232.5 58.2 L235.0 56.4 L239.6 55.9 L241.3 56.2 L237.5 58.4 L237.0 61.6 L234.5 65.2 L232.1 65.7 L234.2 67.1 L235.9 68.1 L240.2 70.9 L242.3 73.3 L246.7 76.1 L248.9 80.0 L248.7 82.2 L248.0 83.3 L242.3 85.1 L237.9 85.6 L230.8 83.8 L226.9 80.6 L222.3 80.7 L215.6 83.1 L210.5 84.2 Z"/>
<path d="M199.4 87.2 L201.1 85.4 L206.0 85.1 L209.2 86.3 L206.1 87.6 L202.1 87.8 Z"/>
<path d="M268.6 76.1 L271.3 80.4 L273.7 83.8 L278.4 87.8 L275.0 92.2 L273.3 95.0 L273.3 96.6 L275.4 100.4 L279.2 103.0 L281.8 104.0 L286.0 103.8 L290.6 103.0 L290.2 101.1 L289.9 96.1 L287.5 92.2 L287.2 89.6 L286.8 85.6 L290.6 86.5 L292.9 84.2 L292.2 80.6 L287.9 79.7 L286.5 82.4 L285.2 81.8 L285.5 78.4 L281.1 73.0 L278.1 70.0 L280.4 68.6 L281.4 65.7 L287.2 65.2 L287.9 59.4 L283.8 56.9 L280.4 56.9 L275.4 58.9 L272.0 62.3 L268.9 63.8 L266.9 67.6 L266.2 69.5 L267.9 72.3 Z"/>
<path d="M308.5 61.4 L311.8 58.4 L316.2 58.9 L314.2 61.8 L310.8 62.3 Z"/>
<path d="M305.1 62.3 L307.1 63.8 L306.1 69.5 L304.7 69.0 Z"/>
<path d="M356.4 63.3 L358.8 60.4 L363.2 58.4 L369.9 58.9 L375.0 58.4 L375.7 60.4 L369.9 60.4 L363.2 60.4 L358.8 63.3 L358.1 66.7 L356.4 65.7 Z"/>
<path d="M458.4 33.6 L462.1 31.5 L467.9 26.5 L474.6 19.7 L478.7 9.7 L479.7 10.9 L476.3 22.0 L470.6 28.7 L464.5 33.1 L459.4 34.7 Z"/>
<path d="M365.5 78.8 L369.2 77.2 L372.6 77.4 L370.9 79.7 L367.6 80.0 Z"/>
<path d="M-202.8 58.2 L-195.7 52.9 L-193.0 49.9 L-189.7 47.1 L-183.6 48.4 L-178.5 52.2 L-177.5 57.4 L-177.2 59.4 L-186.9 59.2 L-188.6 54.7 L-190.7 56.9 L-198.8 58.9 Z"/>
<path d="M-187.6 81.3 L-188.6 75.8 L-187.3 70.0 L-189.0 69.0 L-185.6 63.3 L-180.5 61.8 L-178.0 62.8 L-180.5 66.7 L-183.9 71.6 L-183.2 75.1 L-183.9 80.2 L-186.6 82.4 Z"/>
<path d="M-177.8 62.8 L-173.8 61.4 L-165.3 62.3 L-162.0 68.6 L-167.4 65.5 L-167.7 72.6 L-170.1 76.1 L-171.8 71.2 L-175.1 73.0 L-173.4 66.4 L-176.1 63.5 Z"/>
<path d="M-173.4 82.0 L-167.7 82.9 L-162.3 80.0 L-158.2 76.5 L-159.4 76.5 L-162.6 78.1 L-166.0 77.7 L-170.4 81.1 L-172.4 80.4 Z"/>
<path d="M-161.3 74.7 L-159.9 73.0 L-153.5 71.4 L-150.1 70.5 L-149.1 73.7 L-153.9 74.9 L-158.8 74.9 Z"/>
<path d="M-225.8 20.8 L-222.1 20.3 L-217.3 36.3 L-219.0 39.5 L-221.1 30.9 Z"/>
<path d="M-124.8 35.3 L-122.8 33.6 L-122.4 36.3 Z"/>
</g>
<g fill="none" stroke="#b9b9b9" stroke-width="0.65" stroke-linejoin="round">
<path d="M-243.0 46.8 L-213.1 46.8 L-213.1 44.8 L-211.3 48.4 L-205.9 48.9 L-200.5 51.7 L-194.4 51.9 L-190.3 50.4 L-178.5 57.4 L-177.2 59.4 L-174.1 61.4 L-170.4 65.2 L-170.1 76.1 L-172.4 80.4 L-170.4 82.0 L-158.6 77.0 L-158.8 74.9 L-151.2 73.3 L-149.5 70.5 L-145.1 66.7 L-133.3 66.7 L-130.9 64.7 L-128.2 58.4 L-125.5 54.7 L-122.4 55.2 L-120.8 56.4 L-120.8 63.3 L-118.1 67.6"/>
<path d="M-243.0 133.6 L-238.6 132.1 L-234.2 131.9 L-231.2 136.3 L-227.8 140.5 L-226.5 144.7 L-219.9 146.4"/>
<path d="M379.0 79.7 L367.9 85.1 L356.9 92.0 L361.1 101.7 L371.6 108.8 L375.0 121.0 L381.7 130.1 L398.6 138.6 L408.1 141.3 L418.9 139.4 L437.0 137.7 L441.5 146.6 L437.6 153.9 L443.2 160.5 L449.8 162.6 L453.2 159.4 L463.8 156.3 L468.5 161.0 L472.9 162.8"/>
<path d="M403.0 46.3 L404.5 45.8"/>
<path d="M502.3 42.4 L506.3 44.3 L512.8 41.1 L516.1 27.6 L517.8 23.7 L525.6 22.5 L532.4 24.8 L538.8 42.7 L549.6 47.4 L550.6 53.5 L563.1 50.4 L557.7 66.2 L551.6 67.1 L550.9 76.1 L549.2 78.8 L546.9 76.1 L540.5 80.6 L536.7 81.5 L528.3 89.6"/>
<path d="M534.0 99.3 L537.4 97.0 L541.8 95.7"/>
<path d="M338.5 154.8 L348.0 152.2 L343.2 141.7 L352.7 135.6 L359.8 126.6 L361.1 121.0 L358.1 118.2 L359.1 111.7 L370.9 108.8"/>
<path d="M316.2 149.2 L316.9 145.5 L321.6 141.7 L320.3 137.9 L314.2 133.2 L313.9 131.5 L319.3 133.2 L332.1 131.5 L332.4 127.4 L342.2 123.4 L344.6 115.0 L349.7 110.9 L348.6 106.3 L361.1 101.7"/>
<path d="M313.9 131.5 L316.9 127.4 L313.5 125.0 L312.5 116.6 L314.2 108.4 L315.2 104.2"/>
<path d="M259.5 90.9 L265.2 94.4 L270.3 90.9 L273.3 96.6"/>
<path d="M290.2 101.1 L297.3 97.8 L305.4 100.0 L315.2 104.2 L314.5 109.6"/>
<path d="M315.2 104.2 L321.0 109.2 L326.0 105.5 L332.8 101.1 L337.2 101.7 L342.2 102.1 L345.3 100.0 L350.0 103.8 L361.1 101.7"/>
<path d="M337.2 101.7 L339.2 97.4 L335.8 92.7 L339.9 88.7 L346.6 88.7"/>
<path d="M381.7 130.1 L378.7 135.6 L385.1 139.0 L395.2 143.6 L405.7 144.7 L408.1 141.3"/>
<path d="M63.6 139.8 L78.9 139.9"/>
<path d="M50.6 165.4 L64.3 163.6 L64.3 157.4 L67.7 155.9 L67.7 146.2 L78.9 146.2 L78.9 141.3"/>
<path d="M92.0 150.0 L89.3 168.2 L89.6 184.2 L76.8 184.2 L71.4 185.6 L69.4 183.9 L67.0 186.7"/>
<path d="M52.5 182.5 L59.2 180.3 L64.3 184.2 L67.0 186.7 L69.7 195.0"/>
<path d="M69.7 195.0 L61.9 194.3 L57.5 195.0 L51.8 195.0"/>
<path d="M51.5 190.8 L57.5 190.1 L61.6 191.2 L57.5 192.2 L51.5 192.6"/>
<path d="M57.5 199.8 L61.9 197.4 L61.9 194.3"/>
<path d="M69.7 195.0 L80.2 199.8 L81.2 202.6 L80.2 211.5 L82.9 217.6 L82.9 222.3"/>
<path d="M63.3 206.7 L73.4 208.4 L69.4 213.8"/>
<path d="M73.4 208.4 L80.2 211.5"/>
<path d="M97.7 220.0 L99.1 205.0 L98.7 199.8"/>
<path d="M81.2 202.6 L89.6 201.9 L98.7 203.3"/>
<path d="M89.6 201.9 L90.3 197.1 L94.7 191.2 L101.4 188.7 L108.9 186.0 L118.3 184.6 L122.6 179.3 L122.6 171.3"/>
<path d="M112.3 216.6 L109.9 208.4 L108.2 199.5"/>
<path d="M113.8 216.2 L113.6 206.7 L111.2 199.8"/>
<path d="M98.7 199.8 L108.2 199.5 L111.2 199.8 L116.3 195.3 L120.4 197.4"/>
<path d="M108.9 186.0 L116.3 195.3"/>
<path d="M148.7 155.4 L158.9 157.4 L189.2 170.0"/>
<path d="M158.9 157.4 L160.5 164.6 L160.5 179.3 L154.1 190.5"/>
<path d="M192.6 161.0 L192.6 168.2 L189.2 168.2 L189.2 170.0 L189.2 183.5 L185.5 184.2 L184.2 192.9 L185.5 200.2"/>
<path d="M185.5 200.2 L172.4 206.7 L160.5 211.8"/>
<path d="M160.5 211.8 L155.5 203.3 L159.2 203.3 L157.5 196.4"/>
<path d="M160.5 211.8 L157.5 217.2 L157.2 222.0 L162.9 229.8"/>
<path d="M141.3 229.4 L146.4 229.8 L153.1 229.8"/>
<path d="M146.4 229.8 L146.4 233.8 L140.6 233.8"/>
<path d="M185.5 200.2 L189.2 207.7 L193.3 210.8 L200.7 219.8"/>
<path d="M189.2 207.7 L192.6 202.2 L202.8 205.0 L209.5 203.9 L212.9 203.3 L217.6 196.4 L220.3 195.7 L219.6 203.3 L223.4 205.1"/>
<path d="M238.6 175.4 L233.1 178.9 L231.5 188.4 L230.1 194.0 L223.4 205.1"/>
<path d="M231.5 188.4 L236.2 186.3 L239.9 187.4 L246.0 189.1 L251.4 194.6 L253.7 194.0"/>
<path d="M223.4 205.1 L219.6 210.8 L226.4 218.9 L229.4 221.6"/>
<path d="M229.4 221.6 L232.8 222.3 L236.5 225.0 L241.6 225.7 L246.7 224.0 L249.7 223.9"/>
<path d="M249.7 223.9 L253.4 221.6 L260.2 220.3 L270.3 210.1 L266.9 210.1 L256.8 206.7 L252.7 199.8 L249.4 199.8 L251.4 194.6"/>
<path d="M254.1 198.1 L252.7 199.8"/>
<path d="M249.7 223.9 L246.7 227.7 L246.7 239.9 L248.7 242.9"/>
<path d="M222.7 240.6 L222.7 236.9 L224.7 233.5 L226.4 230.8 L223.0 223.0 L229.4 221.6"/>
<path d="M212.4 225.4 L216.3 225.0 L223.0 223.0"/>
<path d="M208.2 241.9 L211.2 240.7"/>
<path d="M206.1 246.3 L211.2 245.3"/>
<path d="M210.9 290.7 L219.3 294.4 L219.3 300.8 L218.6 308.0 L213.9 314.8"/>
<path d="M193.5 298.3 L199.4 298.8"/>
<path d="M220.3 285.0 L224.7 286.7 L229.4 288.1 L227.4 295.8 L224.4 293.0 L225.0 289.5"/>
<path d="M226.2 276.5 L229.1 281.5 L229.4 288.1"/>
<path d="M147.0 118.4 L147.0 121.4 L143.0 124.2 L142.6 127.8 L140.5 129.9"/>
<path d="M216.1 328.0 L216.6 331.4"/>
<path d="M-132.6 197.1 L-136.6 199.5 L-138.3 205.7 L-136.3 208.7 L-134.9 213.5 L-128.5 213.5 L-126.2 216.6 L-119.7 216.2 L-120.8 222.7 L-119.1 229.4 L-117.7 233.1"/>
<path d="M-117.7 233.1 L-118.4 231.5 L-127.5 231.5 L-127.5 233.5 L-125.5 233.8 L-126.2 240.6 L-128.0 251.4"/>
<path d="M-157.9 232.3 L-154.2 234.5 L-149.5 235.8 L-145.9 237.5"/>
<path d="M-117.7 233.1 L-113.0 234.8 L-107.9 230.8 L-107.9 228.8 L-104.6 224.7 L-110.0 223.3 L-103.9 223.7 L-96.8 219.6"/>
<path d="M-96.8 219.6 L-99.1 217.2 L-98.1 214.5 L-94.4 208.2"/>
<path d="M-96.8 219.6 L-94.4 220.0 L-93.7 222.3 L-92.7 224.0 L-94.4 228.1 L-91.0 232.8 L-87.7 232.1 L-82.6 230.8"/>
<path d="M-84.6 217.2 L-85.3 220.3 L-87.7 223.7 L-82.6 230.8"/>
<path d="M-74.2 217.6 L-75.5 223.7 L-76.2 229.4"/>
<path d="M-82.6 230.8 L-76.2 229.4 L-70.4 229.8 L-66.2 223.3"/>
<path d="M-126.8 274.4 L-123.1 274.6 L-112.3 270.5 L-112.3 276.3 L-109.3 279.8 L-100.5 283.2 L-96.1 284.3 L-94.8 293.0 L-88.7 293.0 L-89.0 296.5 L-86.0 299.0 L-87.0 302.6 L-88.2 306.7"/>
<path d="M-88.2 306.7 L-91.4 303.6 L-100.2 304.7 L-102.2 308.0 L-103.4 314.3"/>
<path d="M-103.4 314.3 L-108.9 316.3 L-112.0 313.8 L-115.4 312.7 L-118.7 316.3"/>
<path d="M-118.7 316.3 L-122.1 310.8 L-123.1 304.4 L-126.5 297.2"/>
<path d="M-88.2 306.7 L-87.3 313.8 L-79.9 314.5 L-78.9 320.7 L-75.2 321.1 L-76.2 326.7"/>
<path d="M-103.4 314.3 L-97.8 320.0 L-90.4 323.7 L-86.3 326.3 L-89.7 333.1 L-82.3 333.5 L-76.2 326.7"/>
<path d="M-76.2 326.7 L-73.1 332.0 L-80.2 336.9 L-86.3 344.3"/>
<path d="M-86.3 344.3 L-80.9 346.6 L-73.5 351.8 L-72.1 358.4"/>
<path d="M-86.3 344.3 L-88.3 353.4 L-89.0 359.4"/>
<path d="M-118.7 316.3 L-122.4 322.6 L-122.8 329.3 L-126.5 337.7 L-128.2 347.4 L-129.2 356.6 L-129.9 364.3 L-131.9 374.0 L-132.6 380.4 L-134.3 389.3"/>
<path d="M-203.2 187.7 L-203.2 185.6 L-201.5 182.1 L-197.1 182.1 L-199.1 178.0 L-199.1 176.1 L-192.9 176.1 L-193.0 182.8 L-192.0 182.8"/>
<path d="M-189.7 183.5 L-193.4 188.1 L-196.1 190.3"/>
<path d="M-193.4 188.1 L-190.7 189.8 L-188.3 191.5"/>
<path d="M-186.6 192.9 L-184.6 190.1 L-178.8 187.4 L-172.6 186.0"/>
<path d="M-181.2 199.7 L-177.8 199.7 L-174.5 200.0"/>
<path d="M-171.8 209.9 L-171.8 206.7 L-170.7 204.8"/>
<path d="M-154.9 212.8 L-153.0 207.9"/>
<path d="M-134.1 175.2 L-133.9 169.3"/>
<path d="M78.1 81.1 L80.5 80.6 L85.9 81.1 L87.3 82.4 L84.9 85.1 L84.6 90.9 L82.9 91.3 L84.6 97.4 L83.2 101.7"/>
<path d="M102.1 74.4 L110.6 77.4 L113.9 78.4 L119.0 78.6"/>
<path d="M133.5 72.3 L131.8 70.0 L131.5 66.2 L131.8 62.3 L128.8 60.9 L131.5 55.5 L133.9 54.0 L135.9 46.8 L129.8 44.3 L127.8 44.3 L124.4 41.6 L122.4 41.6 L116.8 35.8"/>
<path d="M119.7 34.5 L125.1 33.9 L128.1 36.3 L128.5 37.7 L128.5 32.0 L131.2 30.9 L132.0 28.2 L132.5 23.7"/>
<path d="M128.5 37.7 L129.8 40.1 L128.8 41.1 L129.8 44.3"/>
<path d="M137.4 14.5 L141.6 15.0"/>
<path d="M156.3 20.3 L156.8 24.2 L155.8 26.5 L157.8 30.4 L158.9 36.3 L156.5 36.3 L149.1 40.1 L151.4 45.3 L154.8 48.1 L151.4 51.4 L152.1 54.5 L143.7 54.5 L140.6 54.5 L133.9 54.0"/>
<path d="M131.8 62.3 L136.6 59.9 L138.6 62.8 L143.5 57.7 L149.4 56.9 L150.1 58.4 L154.5 59.4 L154.1 62.8 L154.6 63.8"/>
<path d="M140.6 54.5 L140.3 56.7 L143.5 57.7"/>
<path d="M154.8 48.1 L158.9 46.8 L165.4 48.9 L165.9 51.9 L162.6 57.7 L154.5 59.4"/>
<path d="M158.9 36.3 L163.2 39.0 L165.6 40.1 L171.7 44.3 L166.3 47.6 L165.4 48.9"/>
<path d="M171.7 44.3 L175.7 45.8 L184.4 46.3 L184.9 43.7 L189.6 38.5 L187.9 33.6 L188.2 30.4 L187.6 27.6 L188.9 20.3 L187.6 20.0 L185.2 17.7 L174.4 17.1"/>
<path d="M185.2 17.7 L184.9 14.5 L180.1 12.4"/>
<path d="M179.3 7.5 L182.5 5.5 L192.3 5.5 L198.0 9.7 L195.3 18.5 L187.6 20.0"/>
<path d="M190.4 -3.7 L193.6 -4.5 L200.6 -1.6 L201.7 -4.5 L200.7 -9.7 L202.8 -13.9"/>
<path d="M200.6 -1.6 L202.4 3.0 L203.4 7.0 L198.0 9.7"/>
<path d="M203.4 7.0 L212.5 10.3 L212.9 15.6 L218.6 22.5 L214.6 24.8 L215.6 30.4 L211.2 34.7 L200.1 33.1 L192.6 31.5 L187.9 33.6"/>
<path d="M215.6 30.4 L222.3 29.0 L224.4 35.3 L228.4 39.5 L236.5 42.2 L243.6 43.7 L242.3 52.9 L237.2 56.4"/>
<path d="M184.4 46.3 L183.0 49.9 L185.5 51.9 L192.3 53.5 L198.0 50.7 L201.4 49.7 L206.5 52.4 L209.8 59.9 L203.4 64.5 L208.3 65.0"/>
<path d="M198.0 50.7 L203.1 57.4 L203.4 64.5"/>
<path d="M165.9 51.9 L171.7 52.9 L177.4 49.4 L183.0 49.9"/>
<path d="M185.5 51.9 L179.8 59.9 L176.6 61.3"/>
<path d="M171.9 62.3 L167.6 62.1 L163.9 59.4 L162.6 57.7"/>
<path d="M184.9 70.5 L185.5 72.3 L194.3 73.0 L199.4 70.9 L204.8 72.6"/>
<path d="M183.8 79.3 L185.7 83.6 L190.9 82.9 L196.0 83.8 L197.2 82.0"/>
<path d="M175.7 90.9 L177.8 89.1 L179.1 85.8 L185.7 83.6"/>
<path d="M179.1 85.8 L177.4 83.8 L177.8 81.3 L176.1 77.9 L175.1 78.4 L173.7 81.3"/>
<path d="M172.4 67.1 L165.6 65.7 L161.6 65.7 L161.9 68.1 L163.9 71.4 L167.6 76.1 L170.7 78.4 L173.0 73.7"/>
<path d="M154.1 64.3 L159.9 64.3 L161.2 60.9 L163.9 59.4"/>
<path d="M228.8 120.2 L232.5 121.8 L239.2 117.6 L240.6 122.4"/>
<path d="M229.6 112.3 L231.8 114.2 L229.1 117.8 L228.4 118.0 L226.7 118.6"/>
<path d="M228.4 118.0 L228.4 120.2 L228.3 123.8 L227.7 127.0 L226.2 132.9"/>
<path d="M287.5 180.2 L283.8 171.8"/>
<path d="M408.1 141.3 L411.5 143.6 L418.9 143.0 L418.9 139.4"/>
<path d="M83.5 13.6 L80.8 17.1 L83.5 18.8 L86.9 19.1"/>
<path d="M584.4 246.0 L584.4 268.1"/>
<path d="M493.5 221.8 L495.9 223.7 L497.6 220.6"/>
<path d="M471.4 187.0 L471.6 194.6 L465.7 197.8 L460.9 201.8"/>
<path d="M148.0 296.5 L155.5 296.9 L170.3 296.9 L179.1 298.8 L187.2 297.6 L192.3 297.4 L193.5 298.3 L190.6 299.0 L186.9 299.0 L179.1 300.1 L179.1 313.4 L175.7 313.4 L175.7 337.5 L172.4 339.4 L167.0 338.4 L165.6 336.1 L163.9 338.1 L160.9 333.1 L158.9 328.2 L157.2 320.7 L157.2 315.2 L153.5 308.0 L150.4 301.9 Z"/>
<path d="M175.7 313.4 L179.1 313.4 L179.1 300.1 L186.9 299.0 L190.6 299.0 L193.5 298.3 L195.3 301.1 L196.7 302.9 L200.4 308.0 L202.8 311.6 L207.4 314.1 L202.8 316.3 L199.4 319.4 L199.0 321.8 L195.7 323.5 L194.3 327.1 L191.6 327.4 L185.9 325.6 L184.5 328.6 L181.5 331.4 L178.1 331.4 L175.7 323.5 Z"/>
<path d="M163.9 338.1 L165.6 336.1 L167.0 338.4 L172.4 339.4 L175.7 337.5 L175.7 323.5 L178.1 331.4 L181.5 331.4 L184.5 328.6 L185.9 325.6 L191.6 327.4 L194.3 327.1 L195.7 323.5 L199.0 321.8 L199.4 319.4 L202.8 316.3 L207.4 314.1 L213.9 314.8 L214.7 318.9 L216.3 322.6 L216.1 328.0 L213.9 327.2 L212.2 331.2 L215.9 333.1 L216.6 331.4 L219.3 331.4 L218.6 335.8 L216.3 339.2 L212.9 343.1 L209.5 348.2 L204.4 354.2 L201.1 356.6 L197.7 358.6 L195.0 359.4 L189.2 359.8 L184.2 359.8 L175.7 362.7 L171.7 360.6 L170.3 359.0 L169.0 354.6 L170.0 350.2 L166.6 344.7 Z"/>
<path d="M199.4 341.9 L202.8 338.4 L205.1 338.1 L207.5 341.2 L206.8 343.1 L203.4 345.8 L200.7 344.7 Z"/>
<path d="M-166.5 253.0 L-163.0 248.7 L-162.6 250.7 L-163.5 252.2 L-160.3 254.1 L-158.6 254.1 L-156.6 248.7 L-154.5 247.3 L-150.5 246.0 L-147.1 242.4 L-145.8 240.4 L-145.9 237.5 L-141.7 240.6 L-140.3 241.6 L-138.0 245.3 L-134.3 244.6 L-128.5 246.3 L-128.0 251.4 L-130.9 251.4 L-138.0 254.8 L-139.0 257.7 L-140.7 261.9 L-141.7 262.6 L-138.3 267.7 L-136.0 269.4 L-135.6 271.1 L-130.2 269.4 L-130.2 274.6 L-126.8 274.4 L-123.8 279.8 L-124.8 283.9 L-124.5 285.7 L-126.2 287.7 L-125.5 289.5 L-126.8 291.9 L-124.8 292.7 L-126.5 296.5 L-126.5 297.2 L-129.5 300.3 L-132.7 297.8 L-137.3 294.1 L-142.5 291.4 L-145.6 289.7 L-149.5 284.4 L-152.3 278.2 L-153.9 274.9 L-157.2 268.1 L-158.9 264.6 L-161.8 260.4 L-165.8 256.8 L-165.7 254.4 Z"/>
</g>
<g fill="#e6a868" stroke="#6e6a66" stroke-width="0.8" stroke-linejoin="round">
<path d="M430.0 218.4 L436.3 219.6 L439.1 222.0 L441.5 224.4 L445.4 227.2 L448.6 230.4 L450.8 231.5 L453.7 234.2 L457.4 235.5 L457.6 239.9 L460.8 240.7 L462.4 245.1 L466.3 248.2 L465.8 251.4 L465.7 256.8 L463.8 255.6 L461.3 257.2 L459.1 254.8 L453.5 250.0 L449.6 245.8 L447.1 240.4 L445.2 237.2 L441.8 231.3 L438.5 229.4 L436.4 226.2 L432.7 223.2 Z"/>
<path d="M463.5 260.0 L466.2 257.2 L469.0 257.8 L474.1 258.3 L474.9 259.9 L481.0 260.7 L482.7 258.9 L484.4 259.9 L486.6 260.6 L489.0 261.6 L490.5 263.5 L493.2 263.3 L494.7 263.6 L494.9 266.9 L489.8 265.3 L483.4 265.2 L479.7 264.0 L476.3 263.5 L475.1 263.3 L471.2 263.3 L467.5 262.1 Z"/>
<path d="M494.7 264.8 L497.2 264.5 L498.9 265.7 L497.2 267.2 Z"/>
<path d="M499.4 265.7 L501.3 265.0 L502.3 266.2 L500.9 267.5 L499.4 267.0 Z"/>
<path d="M502.5 265.7 L505.3 264.6 L507.7 265.5 L510.7 265.7 L510.1 266.9 L506.7 267.2 L503.3 268.1 Z"/>
<path d="M512.8 265.7 L516.8 265.7 L522.9 264.6 L523.6 265.7 L520.2 266.9 L515.1 267.2 L512.8 266.9 Z"/>
<path d="M510.1 269.4 L513.4 268.7 L516.1 271.1 L513.4 272.2 L510.1 270.5 Z"/>
<path d="M529.8 232.1 L531.2 231.8 L528.0 235.8 L523.7 235.5 L516.8 235.7 L515.1 235.5 L513.8 239.9 L516.0 241.9 L518.8 240.1 L522.9 240.4 L525.1 240.2 L521.2 242.6 L518.0 244.0 L520.9 247.3 L522.2 250.5 L523.2 252.1 L519.9 253.6 L518.8 250.9 L516.8 247.3 L516.5 246.2 L514.1 247.3 L514.8 250.7 L514.6 252.6 L514.1 256.0 L511.8 256.1 L511.4 254.6 L512.1 250.7 L509.9 249.2 L509.7 246.2 L511.1 242.3 L512.4 239.4 L512.8 236.5 L516.1 233.7 L518.5 233.5 L521.9 233.8 L523.2 234.3 L526.9 233.8 Z"/>
<path d="M539.1 230.4 L540.5 229.8 L542.8 232.1 L540.5 233.8 L543.2 236.2 L540.5 235.8 L541.8 239.9 L540.1 238.6 L538.8 234.5 Z"/>
<path d="M540.5 247.3 L545.5 246.7 L549.9 248.7 L547.2 249.0 L543.2 248.7 L540.5 248.7 Z"/>
<path d="M533.7 248.0 L536.1 247.5 L537.8 248.7 L536.1 250.2 L534.0 249.4 Z"/>
<path d="M478.5 231.8 L480.7 234.2 L483.0 233.8 L487.1 232.1 L493.2 232.3 L495.9 230.8 L496.6 228.1 L498.2 227.1 L498.9 222.7 L505.3 223.0 L505.3 226.0 L506.3 229.8 L510.1 234.0 L506.0 234.5 L505.0 239.2 L502.8 241.4 L501.3 244.0 L500.6 248.4 L499.6 249.4 L495.4 251.2 L491.5 248.7 L489.8 248.0 L485.7 247.3 L480.5 247.3 L479.5 243.4 L477.3 240.2 L476.6 236.2 L476.1 234.2 Z"/>
<path d="M551.4 240.2 L555.7 238.4 L557.3 238.6 L561.1 240.1 L561.7 244.0 L561.4 245.6 L563.4 248.4 L565.8 248.5 L568.5 245.0 L570.8 243.3 L576.8 243.4 L583.3 245.8 L584.4 246.0 L584.4 268.1 L582.3 266.0 L577.6 264.6 L573.2 265.7 L576.3 260.9 L576.9 260.2 L574.6 256.0 L570.2 253.6 L564.1 252.1 L559.7 249.5 L556.7 250.7 L555.0 247.2 L554.0 246.7 L558.0 245.5 L560.0 245.0 L555.7 244.6 L554.0 244.0 L550.6 241.9 Z"/>
<path d="M525.6 271.8 L526.9 268.7 L530.3 267.4 L530.7 269.1 L528.3 271.7 Z"/>
<path d="M564.1 257.8 L563.6 255.7 L562.4 254.8 L561.2 255.7 L560.7 257.8 L561.2 260.0 L562.4 260.9 L563.6 260.0 Z"/>
<path d="M553.6 262.9 L553.2 261.1 L552.3 260.4 L551.3 261.1 L550.9 262.9 L551.3 264.7 L552.3 265.5 L553.2 264.7 Z"/>
<path d="M557.5 256.1 L557.3 254.7 L556.7 254.1 L556.1 254.7 L555.8 256.1 L556.1 257.6 L556.7 258.2 L557.3 257.6 Z"/>
<path d="M569.7 240.6 L569.0 239.9 L567.5 239.6 L565.9 239.9 L565.3 240.6 L565.9 241.3 L567.5 241.6 L569.0 241.3 Z"/>
<path d="M571.5 243.1 L570.6 242.6 L568.5 242.4 L566.3 242.6 L565.4 243.1 L566.3 243.6 L568.5 243.8 L570.6 243.6 Z"/>
<path d="M552.3 237.9 L551.6 237.3 L549.9 237.0 L548.2 237.3 L547.5 237.9 L548.2 238.5 L549.9 238.7 L551.6 238.5 Z"/>
<path d="M549.6 243.6 L549.0 243.0 L547.5 242.8 L546.1 243.0 L545.5 243.6 L546.1 244.2 L547.5 244.5 L549.0 244.2 Z"/>
<path d="M541.5 242.3 L540.9 241.7 L539.4 241.4 L538.0 241.7 L537.4 242.3 L538.0 242.9 L539.4 243.1 L540.9 242.9 Z"/>
<path d="M534.4 243.4 L533.5 243.0 L531.3 242.8 L529.2 243.0 L528.3 243.4 L529.2 243.9 L531.3 244.1 L533.5 243.9 Z"/>
<path d="M542.8 229.4 L542.5 228.4 L541.8 227.9 L541.1 228.4 L540.8 229.4 L541.1 230.5 L541.8 231.0 L542.5 230.5 Z"/>
<path d="M537.4 263.3 L536.6 262.7 L534.7 262.4 L532.8 262.7 L532.0 263.3 L532.8 263.9 L534.7 264.1 L536.6 263.9 Z"/>
<path d="M531.3 265.2 L530.7 264.7 L529.3 264.5 L527.9 264.7 L527.3 265.2 L527.9 265.6 L529.3 265.8 L530.7 265.6 Z"/>
<path d="M524.6 254.1 L524.2 252.4 L523.2 251.7 L522.3 252.4 L521.9 254.1 L522.3 255.8 L523.2 256.5 L524.2 255.8 Z"/>
<path d="M526.4 241.9 L525.8 241.3 L524.2 241.1 L522.7 241.3 L522.1 241.9 L522.7 242.5 L524.2 242.8 L525.8 242.5 Z"/>
<path d="M537.1 223.0 L536.9 222.0 L536.4 221.6 L535.9 222.0 L535.7 223.0 L535.9 224.0 L536.4 224.4 L536.9 224.0 Z"/>
<path d="M532.5 225.4 L532.4 224.7 L532.0 224.4 L531.7 224.7 L531.5 225.4 L531.7 226.1 L532.0 226.4 L532.4 226.1 Z"/>
<path d="M548.2 264.3 L547.8 263.8 L546.9 263.6 L545.9 263.8 L545.5 264.3 L545.9 264.8 L546.9 265.0 L547.8 264.8 Z"/>
<path d="M576.3 264.3 L575.7 263.1 L574.2 262.6 L572.8 263.1 L572.2 264.3 L572.8 265.5 L574.2 266.0 L575.7 265.5 Z"/>
<path d="M539.9 239.2 L539.7 238.2 L539.1 237.7 L538.5 238.2 L538.3 239.2 L538.5 240.3 L539.1 240.7 L539.7 240.3 Z"/>
<path d="M526.3 265.5 L526.0 265.1 L525.3 264.9 L524.5 265.1 L524.2 265.5 L524.5 265.9 L525.3 266.1 L526.0 265.9 Z"/>
</g>
<g stroke="#6e6a66" stroke-width="0.9" stroke-linejoin="round">
<path d="M265.2 49.9 L266.2 45.3 L268.6 39.5 L272.7 42.2 L271.6 38.5 L279.8 32.6 L281.8 33.6 L288.5 33.6 L292.6 36.3 L296.3 38.5 L299.0 36.3 L306.1 36.3 L310.5 37.4 L315.5 37.4 L310.8 31.5 L314.2 25.9 L314.9 22.5 L315.9 20.3 L328.4 18.0 L338.5 14.2 L341.2 11.5 L347.3 12.1 L348.6 18.0 L356.1 20.3 L357.4 19.4 L366.5 18.5 L367.9 20.3 L371.3 23.7 L378.4 37.4 L383.1 37.4 L389.8 36.3 L395.9 41.1 L396.3 43.7 L403.0 46.3 L397.9 49.9 L397.6 55.0 L396.9 56.7 L388.5 55.9 L386.1 64.3 L387.1 65.7 L379.0 66.7 L378.0 67.1 L381.1 75.1 L379.0 79.7 L375.0 77.0 L363.8 77.0 L358.8 75.1 L356.4 78.4 L348.0 78.4 L347.6 79.3 L345.6 81.1 L341.2 83.8 L338.5 85.1 L339.9 86.5 L333.1 84.2 L331.1 78.8 L331.4 76.1 L327.4 72.8 L317.6 73.7 L314.5 70.0 L306.1 63.8 L297.3 66.7 L297.3 83.8 L295.3 83.8 L293.3 80.6 L287.2 79.3 L285.2 81.8 L285.5 78.4 L281.1 73.0 L278.1 70.0 L280.4 68.6 L281.4 65.7 L287.2 65.2 L287.9 59.4 L283.8 56.9 L280.4 56.9 L275.4 58.9 L273.7 60.4 L272.0 58.9 L270.3 53.5 L267.9 52.9 L267.3 50.4 Z" fill="#f0cfa0"/>
<path d="M297.3 66.7 L306.1 63.8 L314.5 70.0 L317.6 73.7 L327.4 72.8 L331.4 76.1 L331.1 78.8 L333.1 84.2 L338.2 85.6 L339.9 86.9 L341.2 83.8 L345.6 81.1 L347.6 79.3 L348.6 80.2 L346.6 82.9 L350.3 82.9 L355.1 85.8 L350.3 88.7 L346.6 88.7 L345.9 85.1 L341.2 88.7 L339.9 88.7 L337.8 91.3 L335.8 92.7 L339.2 97.4 L337.2 101.7 L332.8 101.1 L333.1 98.3 L329.7 97.0 L325.0 94.0 L319.3 89.6 L317.2 84.7 L311.2 81.5 L310.8 79.7 L306.1 77.0 L300.7 83.8 L297.3 83.8 Z" fill="#f1d5ad"/>
<path d="M342.1 90.0 L346.6 88.7 L350.3 88.7 L355.1 85.8 L350.3 82.9 L346.6 82.9 L348.6 80.2 L347.6 79.3 L348.0 78.4 L356.4 78.4 L358.8 75.1 L363.8 77.0 L375.0 77.0 L379.0 79.7 L373.0 83.3 L367.9 85.1 L364.9 87.8 L360.8 87.6 L357.4 90.5 L356.9 92.0 L351.3 92.4 L347.0 92.2 L342.2 91.8 Z" fill="#f3e2cc"/>
<path d="M404.5 45.8 L408.8 43.7 L412.1 41.6 L418.9 37.4 L426.7 38.7 L429.0 41.6 L436.8 43.0 L440.2 39.0 L442.2 30.4 L453.3 34.7 L453.7 38.5 L458.4 40.9 L466.2 39.8 L469.5 43.2 L474.6 45.3 L482.0 46.1 L489.5 43.7 L494.2 40.3 L502.3 42.4 L499.3 52.4 L504.7 53.7 L508.4 52.0 L513.1 58.4 L504.7 60.1 L502.0 60.4 L498.9 64.5 L494.9 64.7 L491.8 67.9 L486.1 66.4 L484.4 70.0 L486.1 72.8 L481.0 77.7 L477.3 78.6 L470.6 78.8 L462.8 82.4 L461.1 81.1 L452.0 78.4 L445.9 77.7 L433.7 77.2 L430.4 70.2 L423.9 66.9 L415.2 65.2 L415.5 57.4 L412.1 52.7 L407.4 50.9 Z" fill="#f1dfc6"/>
<path d="M243.3 74.2 L251.4 75.1 L256.1 77.9 L258.8 77.2 L262.5 78.4 L264.9 81.1 L265.1 84.9 L260.2 84.0 L255.1 84.7 L251.7 83.1 L248.5 82.8 L248.9 80.0 L246.7 76.1 Z" fill="#f2e0c8"/>
<path d="M260.2 84.0 L265.1 84.9 L264.9 81.1 L267.9 83.3 L272.3 81.3 L273.7 83.8 L278.4 87.8 L275.0 92.2 L273.3 96.6 L270.3 94.8 L270.3 90.9 L265.2 94.4 L265.2 91.8 L262.2 91.6 L263.5 88.7 L260.2 85.1 Z" fill="#f2e0c8"/>
<path d="M174.7 61.0 L176.6 61.3 L179.1 65.2 L180.8 65.7 L184.2 68.1 L184.9 70.5 L183.8 71.9 L185.9 75.1 L183.8 79.3 L181.8 79.3 L177.8 81.3 L175.7 77.4 L176.9 77.0 L173.0 73.7 L174.4 71.4 L172.7 70.0 L173.7 67.1 L172.4 67.1 L172.5 64.3 L171.9 62.3 Z" fill="#f2e0c8"/>
<path d="M196.2 86.5 L197.2 82.0 L202.8 80.6 L206.5 84.2 L210.5 84.2 L215.6 83.1 L222.3 80.7 L226.9 80.6 L230.8 83.8 L237.9 85.6 L242.3 85.1 L248.0 83.3 L248.5 82.8 L251.7 83.1 L255.1 84.7 L255.9 89.1 L259.5 90.9 L258.1 96.6 L257.5 98.7 L259.5 101.9 L251.2 102.1 L246.0 102.1 L239.2 103.8 L233.5 104.0 L232.1 105.7 L231.1 105.9 L230.3 107.4 L229.4 105.5 L230.4 104.2 L229.8 103.0 L227.4 104.2 L225.0 103.4 L223.0 105.5 L219.6 106.3 L216.3 104.6 L211.9 103.0 L210.9 105.5 L208.2 105.9 L206.5 104.2 L203.4 103.8 L200.4 102.5 L200.1 98.7 L197.0 97.0 L199.0 96.6 L198.7 94.0 L196.3 91.8 L196.7 89.4 Z" fill="#f1dcbd"/>
<path d="M239.2 117.6 L246.7 113.3 L247.3 106.7 L247.7 105.1 L251.2 102.1 L259.5 101.9 L261.5 106.7 L263.5 108.0 L262.2 112.5 L261.5 115.0 L263.9 118.6 L269.6 122.6 L269.3 127.0 L270.3 129.0 L272.2 131.1 L270.1 130.9 L269.3 130.5 L267.3 131.1 L265.4 134.4 L259.2 134.0 L250.4 126.6 L244.6 123.2 L240.6 122.4 Z" fill="#f0d3a8"/>
<path d="M265.4 134.4 L268.4 134.8 L269.3 136.5 L271.6 136.5 L270.3 133.4 L269.6 133.2 L271.0 131.3 L270.1 130.9 L269.3 130.5 L267.3 131.1 Z" fill="#f2e0c8"/>
<path d="M226.2 133.4 L229.9 134.0 L231.5 132.9 L234.8 130.9 L236.5 129.0 L233.1 125.0 L239.9 122.4 L240.6 122.4 L244.6 123.2 L250.4 126.6 L259.2 134.0 L264.9 134.4 L265.4 134.4 L268.4 134.8 L269.3 136.5 L271.6 136.5 L273.0 139.8 L275.9 142.4 L277.6 143.8 L277.4 145.5 L277.7 147.5 L279.4 151.1 L279.8 150.9 L281.1 151.4 L281.8 151.4 L282.5 153.3 L285.8 157.5 L294.4 158.5 L296.1 161.0 L293.9 168.2 L283.8 171.8 L274.0 173.3 L271.0 174.9 L266.9 179.1 L266.1 177.9 L261.5 177.9 L260.8 177.3 L254.8 177.0 L254.1 180.2 L252.7 181.0 L251.9 179.3 L247.0 171.5 L244.3 167.9 L240.6 162.8 L239.9 158.1 L236.7 153.3 L233.8 150.0 L231.3 145.5 L228.8 141.1 L227.1 138.4 L225.0 138.6 L225.7 136.7 Z" fill="#e3a870"/>
<path d="M279.8 150.9 L281.1 151.4 L282.5 150.0 L282.5 146.6 L281.3 145.7 L279.9 147.7 L279.6 150.0 Z" fill="#f0d3a8"/>
<path d="M282.5 152.7 L285.8 152.9 L291.9 152.0 L294.9 149.0 L297.1 147.0 L297.6 146.0 L298.5 147.7 L298.5 150.1 L297.3 150.1 L296.5 152.9 L294.6 158.5 L294.4 158.5 L285.8 157.5 L282.5 153.3 Z" fill="#f1dcbd"/>
<path d="M287.5 180.2 L283.8 171.8 L293.9 168.2 L296.1 161.0 L294.6 158.5 L296.5 152.9 L297.3 150.1 L298.5 150.1 L299.8 152.4 L306.1 155.1 L309.1 158.8 L310.1 159.2 L308.5 163.2 L306.8 165.7 L305.8 166.8 L303.4 167.5 L303.1 169.3 L303.4 171.8 L300.7 175.4 L298.3 175.7 L294.9 177.2 L290.9 178.9 Z" fill="#f1d5ad"/>
<path d="M192.6 124.6 L199.4 125.8 L206.1 127.4 L209.5 125.8 L212.9 124.6 L217.3 125.8 L219.6 126.6 L223.7 125.8 L226.1 132.9 L225.2 135.2 L224.4 138.6 L223.9 139.7 L221.7 137.9 L220.3 136.7 L218.6 132.9 L218.1 131.1 L217.6 132.5 L220.3 138.6 L222.3 141.7 L223.0 144.0 L226.1 150.0 L228.1 153.7 L228.4 157.4 L232.8 161.0 L192.6 161.0 Z" fill="#f0d3a8"/>
<path d="M78.9 141.3 L78.9 136.0 L89.6 131.3 L96.0 127.4 L98.1 124.2 L104.1 122.6 L102.5 117.8 L102.5 112.9 L100.8 110.5 L106.0 108.0 L108.5 106.3 L112.6 104.4 L118.5 103.4 L125.4 103.6 L129.5 102.1 L134.4 103.0 L137.2 102.7 L136.2 106.7 L135.9 112.1 L133.5 115.4 L136.6 121.0 L138.8 122.6 L140.5 129.9 L141.6 134.8 L141.5 144.3 L139.9 145.8 L142.0 150.7 L147.2 152.6 L148.7 155.4 L133.4 165.2 L127.8 170.2 L122.6 171.3 L119.0 169.3 L114.3 167.2 L112.1 164.3 L92.0 150.0 Z" fill="#f1dcbd"/>
<path d="M117.3 215.5 L117.5 206.7 L120.4 202.6 L120.4 197.4 L121.7 193.3 L122.0 191.2 L126.8 190.0 L131.8 192.9 L138.6 193.4 L142.0 192.1 L150.4 192.6 L154.1 190.5 L156.2 195.0 L157.5 196.4 L154.8 199.8 L152.8 204.6 L151.4 207.4 L148.7 211.8 L146.4 214.9 L144.0 213.3 L141.3 214.2 L137.9 217.6 L136.9 221.1 L136.2 222.0 L132.2 222.3 L128.8 222.7 L126.4 219.6 L123.4 216.2 L119.7 215.5 Z" fill="#b35c50"/>
<path d="M149.4 256.7 L152.1 252.8 L156.8 253.8 L159.9 251.7 L162.9 244.0 L168.0 238.9 L169.3 229.1 L171.0 225.4 L171.0 222.5 L174.1 220.0 L177.4 222.3 L183.8 223.3 L185.5 221.0 L190.6 220.0 L193.6 220.3 L200.7 219.8 L204.1 222.7 L207.8 221.6 L212.4 225.4 L212.0 229.1 L213.9 229.9 L209.3 234.5 L208.2 238.9 L208.2 241.9 L205.8 245.3 L206.3 246.7 L207.0 248.4 L207.3 252.2 L208.0 258.5 L212.0 265.0 L205.8 266.0 L204.8 267.7 L205.0 273.5 L203.9 276.3 L206.1 279.4 L208.8 278.5 L208.8 283.0 L206.1 282.9 L202.8 279.4 L200.1 277.3 L196.0 277.7 L193.6 275.3 L190.6 276.0 L189.1 274.2 L183.2 275.3 L183.5 271.1 L181.8 269.4 L182.2 264.3 L181.8 261.9 L177.4 261.9 L176.8 260.9 L174.1 260.9 L173.7 264.3 L167.6 264.6 L164.3 257.0 L152.1 257.0 L149.9 257.7 Z" fill="#f2e0c8"/>
<path d="M145.7 250.5 L148.0 252.8 L148.7 254.1 L152.1 252.8 L156.8 253.8 L159.9 251.7 L162.9 244.0 L168.0 238.9 L169.3 229.1 L171.0 225.4 L167.3 224.9 L164.3 225.4 L162.9 229.8 L161.6 231.3 L157.2 229.9 L153.1 229.8 L152.8 233.0 L156.2 232.6 L157.2 234.5 L155.1 237.2 L156.8 238.9 L157.2 240.6 L156.8 244.0 L155.8 245.3 L150.4 245.0 L150.4 243.6 L147.4 245.3 L148.4 248.7 Z" fill="#b0453f"/>
<path d="M211.2 240.7 L222.7 240.6 L235.2 247.3 L235.5 249.0 L240.6 252.9 L239.2 257.5 L240.9 260.2 L241.6 264.3 L241.3 267.7 L243.3 271.1 L244.6 272.9 L238.2 276.0 L234.8 277.0 L229.1 276.0 L226.2 276.5 L225.0 274.6 L224.7 269.8 L223.0 269.4 L219.3 269.1 L216.3 267.9 L212.9 266.4 L212.0 265.0 L208.0 258.5 L207.3 252.2 L209.5 251.7 L210.9 250.0 L212.2 248.4 L212.4 245.1 Z" fill="#f1dcbd"/>
<path d="M182.5 281.5 L182.5 292.7 L187.2 297.6 L193.5 298.3 L199.4 298.8 L201.4 296.2 L205.8 291.8 L210.9 290.7 L210.9 288.4 L220.3 285.0 L218.6 283.6 L219.6 280.1 L220.7 276.6 L220.7 273.9 L219.6 269.8 L219.3 269.1 L216.3 267.9 L212.9 266.4 L212.0 265.0 L205.8 266.0 L204.8 267.7 L205.0 273.5 L203.9 276.3 L206.1 279.4 L208.8 278.5 L208.8 283.0 L206.1 282.9 L202.8 279.4 L200.1 277.3 L196.0 277.7 L193.6 275.3 L190.6 276.0 L189.1 274.2 L189.2 281.1 Z" fill="#f1dcbd"/>
<path d="M409.1 161.7 L408.2 156.6 L407.4 154.0 L405.7 151.8 L406.7 149.2 L405.7 147.0 L406.7 144.1 L409.8 146.2 L411.6 146.6 L411.6 148.8 L418.9 149.4 L420.2 150.0 L419.6 151.8 L416.2 153.3 L416.2 155.1 L416.9 157.0 L418.5 155.1 L420.1 156.6 L420.9 161.4 L419.9 165.4 L418.9 163.2 L418.2 159.9 L416.5 158.8 L414.8 159.2 L413.1 161.4 Z" fill="#f2e0c8"/>
<path d="M419.9 165.4 L421.9 167.7 L424.3 170.8 L426.3 173.6 L427.0 177.2 L426.3 182.5 L430.0 183.2 L433.1 180.7 L435.8 178.9 L437.8 180.7 L438.5 185.3 L439.5 189.4 L441.2 195.0 L441.0 203.3 L441.8 201.2 L443.9 197.8 L442.9 192.9 L439.8 186.0 L441.2 182.1 L442.2 181.4 L438.3 176.8 L437.1 173.6 L438.5 169.7 L439.1 169.3 L442.5 168.6 L446.2 167.0 L447.9 164.3 L449.8 162.6 L446.6 162.8 L445.6 160.8 L443.2 160.5 L443.9 157.0 L441.5 153.7 L437.6 153.9 L438.1 149.6 L441.5 146.6 L441.5 140.4 L440.5 140.2 L437.0 137.7 L435.8 142.1 L433.1 141.5 L429.4 146.0 L427.7 149.4 L428.0 153.7 L426.1 154.2 L423.4 153.5 L423.3 157.4 L422.6 160.3 L420.9 161.4 Z" fill="#f2e0c8"/>
<path d="M446.2 167.0 L442.5 168.6 L439.1 169.3 L437.1 173.6 L438.3 176.8 L442.2 181.4 L441.2 182.1 L439.8 186.0 L442.9 192.9 L443.9 197.8 L441.8 201.2 L441.0 203.3 L440.2 210.4 L442.2 210.1 L444.2 212.5 L445.9 215.2 L446.2 215.4 L448.8 216.1 L449.6 217.9 L452.0 217.6 L453.0 216.1 L452.0 215.5 L450.3 213.8 L447.9 212.8 L446.2 208.7 L445.6 205.7 L443.2 201.5 L445.2 197.1 L445.7 194.3 L445.9 192.2 L447.9 191.2 L448.9 193.3 L448.9 194.3 L450.3 194.1 L453.0 195.0 L455.7 197.4 L455.0 194.3 L454.3 190.8 L456.0 188.6 L462.1 188.1 L463.5 188.4 L464.5 183.5 L461.9 180.7 L461.8 177.2 L459.4 174.3 L457.0 174.0 L455.0 175.7 L452.3 175.7 L450.0 177.2 L448.9 176.8 L450.0 170.0 L447.6 170.0 L447.6 167.7 Z" fill="#f1dcbd"/>
<path d="M446.2 167.0 L447.9 164.3 L449.8 162.6 L451.8 164.1 L452.0 159.4 L453.2 159.4 L455.7 162.1 L456.7 165.2 L461.4 165.9 L460.8 166.8 L462.6 168.2 L459.1 170.8 L463.5 173.1 L463.1 174.0 L467.9 179.1 L468.5 180.9 L471.1 182.3 L471.6 184.9 L471.4 187.0 L468.9 188.4 L466.2 188.2 L463.5 188.4 L464.5 183.5 L461.9 180.7 L461.8 177.2 L459.4 174.3 L457.0 174.0 L455.0 175.7 L452.3 175.7 L450.0 177.2 L448.9 176.8 L450.0 170.0 L447.6 170.0 L447.6 167.7 Z" fill="#f0d6b2"/>
<path d="M455.7 197.4 L455.0 194.3 L454.3 190.8 L456.0 188.6 L462.1 188.1 L463.5 188.4 L466.2 188.2 L468.9 188.4 L471.4 187.0 L471.2 190.1 L471.6 194.6 L471.2 195.2 L467.5 196.5 L465.7 197.8 L466.8 200.5 L463.1 200.0 L460.9 201.8 L460.4 201.4 L457.7 201.2 L456.0 198.4 Z" fill="#f2e0c8"/>
<path d="M379.2 203.8 L382.4 208.2 L384.1 211.1 L384.6 213.5 L382.1 216.6 L380.4 217.2 L379.0 216.8 L377.9 213.7 L377.5 210.1 L378.2 206.7 L378.4 204.3 Z" fill="#f2e0c8"/>
<path d="M446.2 215.4 L448.8 216.1 L449.6 217.9 L452.0 217.6 L453.0 216.1 L453.3 216.2 L456.4 219.3 L457.4 224.4 L460.1 229.4 L460.4 232.5 L457.7 232.8 L453.5 229.8 L450.3 227.1 L447.9 223.0 L446.9 218.9 Z" fill="#f2e0c8"/>
</g>
<path d="M199.4 341.9 L202.8 338.4 L205.1 338.1 L207.5 341.2 L206.8 343.1 L203.4 345.8 L200.7 344.7 Z" fill="#eaeaea" stroke="#6e6a66" stroke-width="0.7"/>
<text x="117.3" y="60.4" font-size="8.5" fill="#9a9a9a" text-anchor="middle">France</text>
<text x="96.7" y="88.3" font-size="8.5" fill="#9a9a9a" text-anchor="middle">Spain</text>
<text x="225.0" y="94.4" font-size="8.5" fill="#e6c9a0" text-anchor="middle">Turkey</text>
<text x="117.0" y="137.5" font-size="8.5" fill="#e6c9a0" text-anchor="middle">Algeria</text>
<text x="206.8" y="146.6" font-size="8.5" fill="#e3c08f" text-anchor="middle">Egypt</text>
<text x="290.2" y="119.4" font-size="8.5" fill="#9a9a9a" text-anchor="middle">Iran</text>
<text x="372.6" y="159.6" font-size="8.5" fill="#9a9a9a" text-anchor="middle">India</text>
<text x="444.2" y="111.3" font-size="8.5" fill="#9a9a9a" text-anchor="middle">China</text>
<text x="574.2" y="108.4" font-size="8.5" fill="#9a9a9a" text-anchor="middle">Japan</text>
<rect x="356.0" y="207.0" width="163.3" height="60.0" fill="#ffffff"/>
<defs><linearGradient id="g2" x1="0" x2="1" y1="0" y2="0"><stop offset="0" stop-color="#f6e0c0"/><stop offset="0.35" stop-color="#e9a55f"/><stop offset="0.7" stop-color="#c1694a"/><stop offset="1" stop-color="#a83232"/></linearGradient></defs>
<text x="375.6" y="219.5" font-size="12" fill="#2e2e2e" stroke="#2e2e2e" stroke-width="0.45" letter-spacing="0.33">Million USD</text>
<rect x="397.7" y="229.7" width="73.0" height="15.4" fill="url(#g2)" stroke="#b3a89a" stroke-width="1"/>
<text x="393.0" y="241.6" font-size="12" fill="#333333" text-anchor="end">29</text>
<text x="474.5" y="241.6" font-size="12" fill="#333333" letter-spacing="0.239">23,131</text>
<rect x="3" y="275" width="132" height="11" fill="#ffffff" fill-opacity="0.7"/>
<text x="5" y="285" font-size="8" fill="#555555">© 2026 Mapbox © OpenStreetMap</text>
</svg></div>
<div class="caption">(c) Copyright 2026 Griffith Asia Institute &amp; Green Finance &amp; Development Center, FISF Fudan (Sources: based on GFDC)</div>
</body></html>
